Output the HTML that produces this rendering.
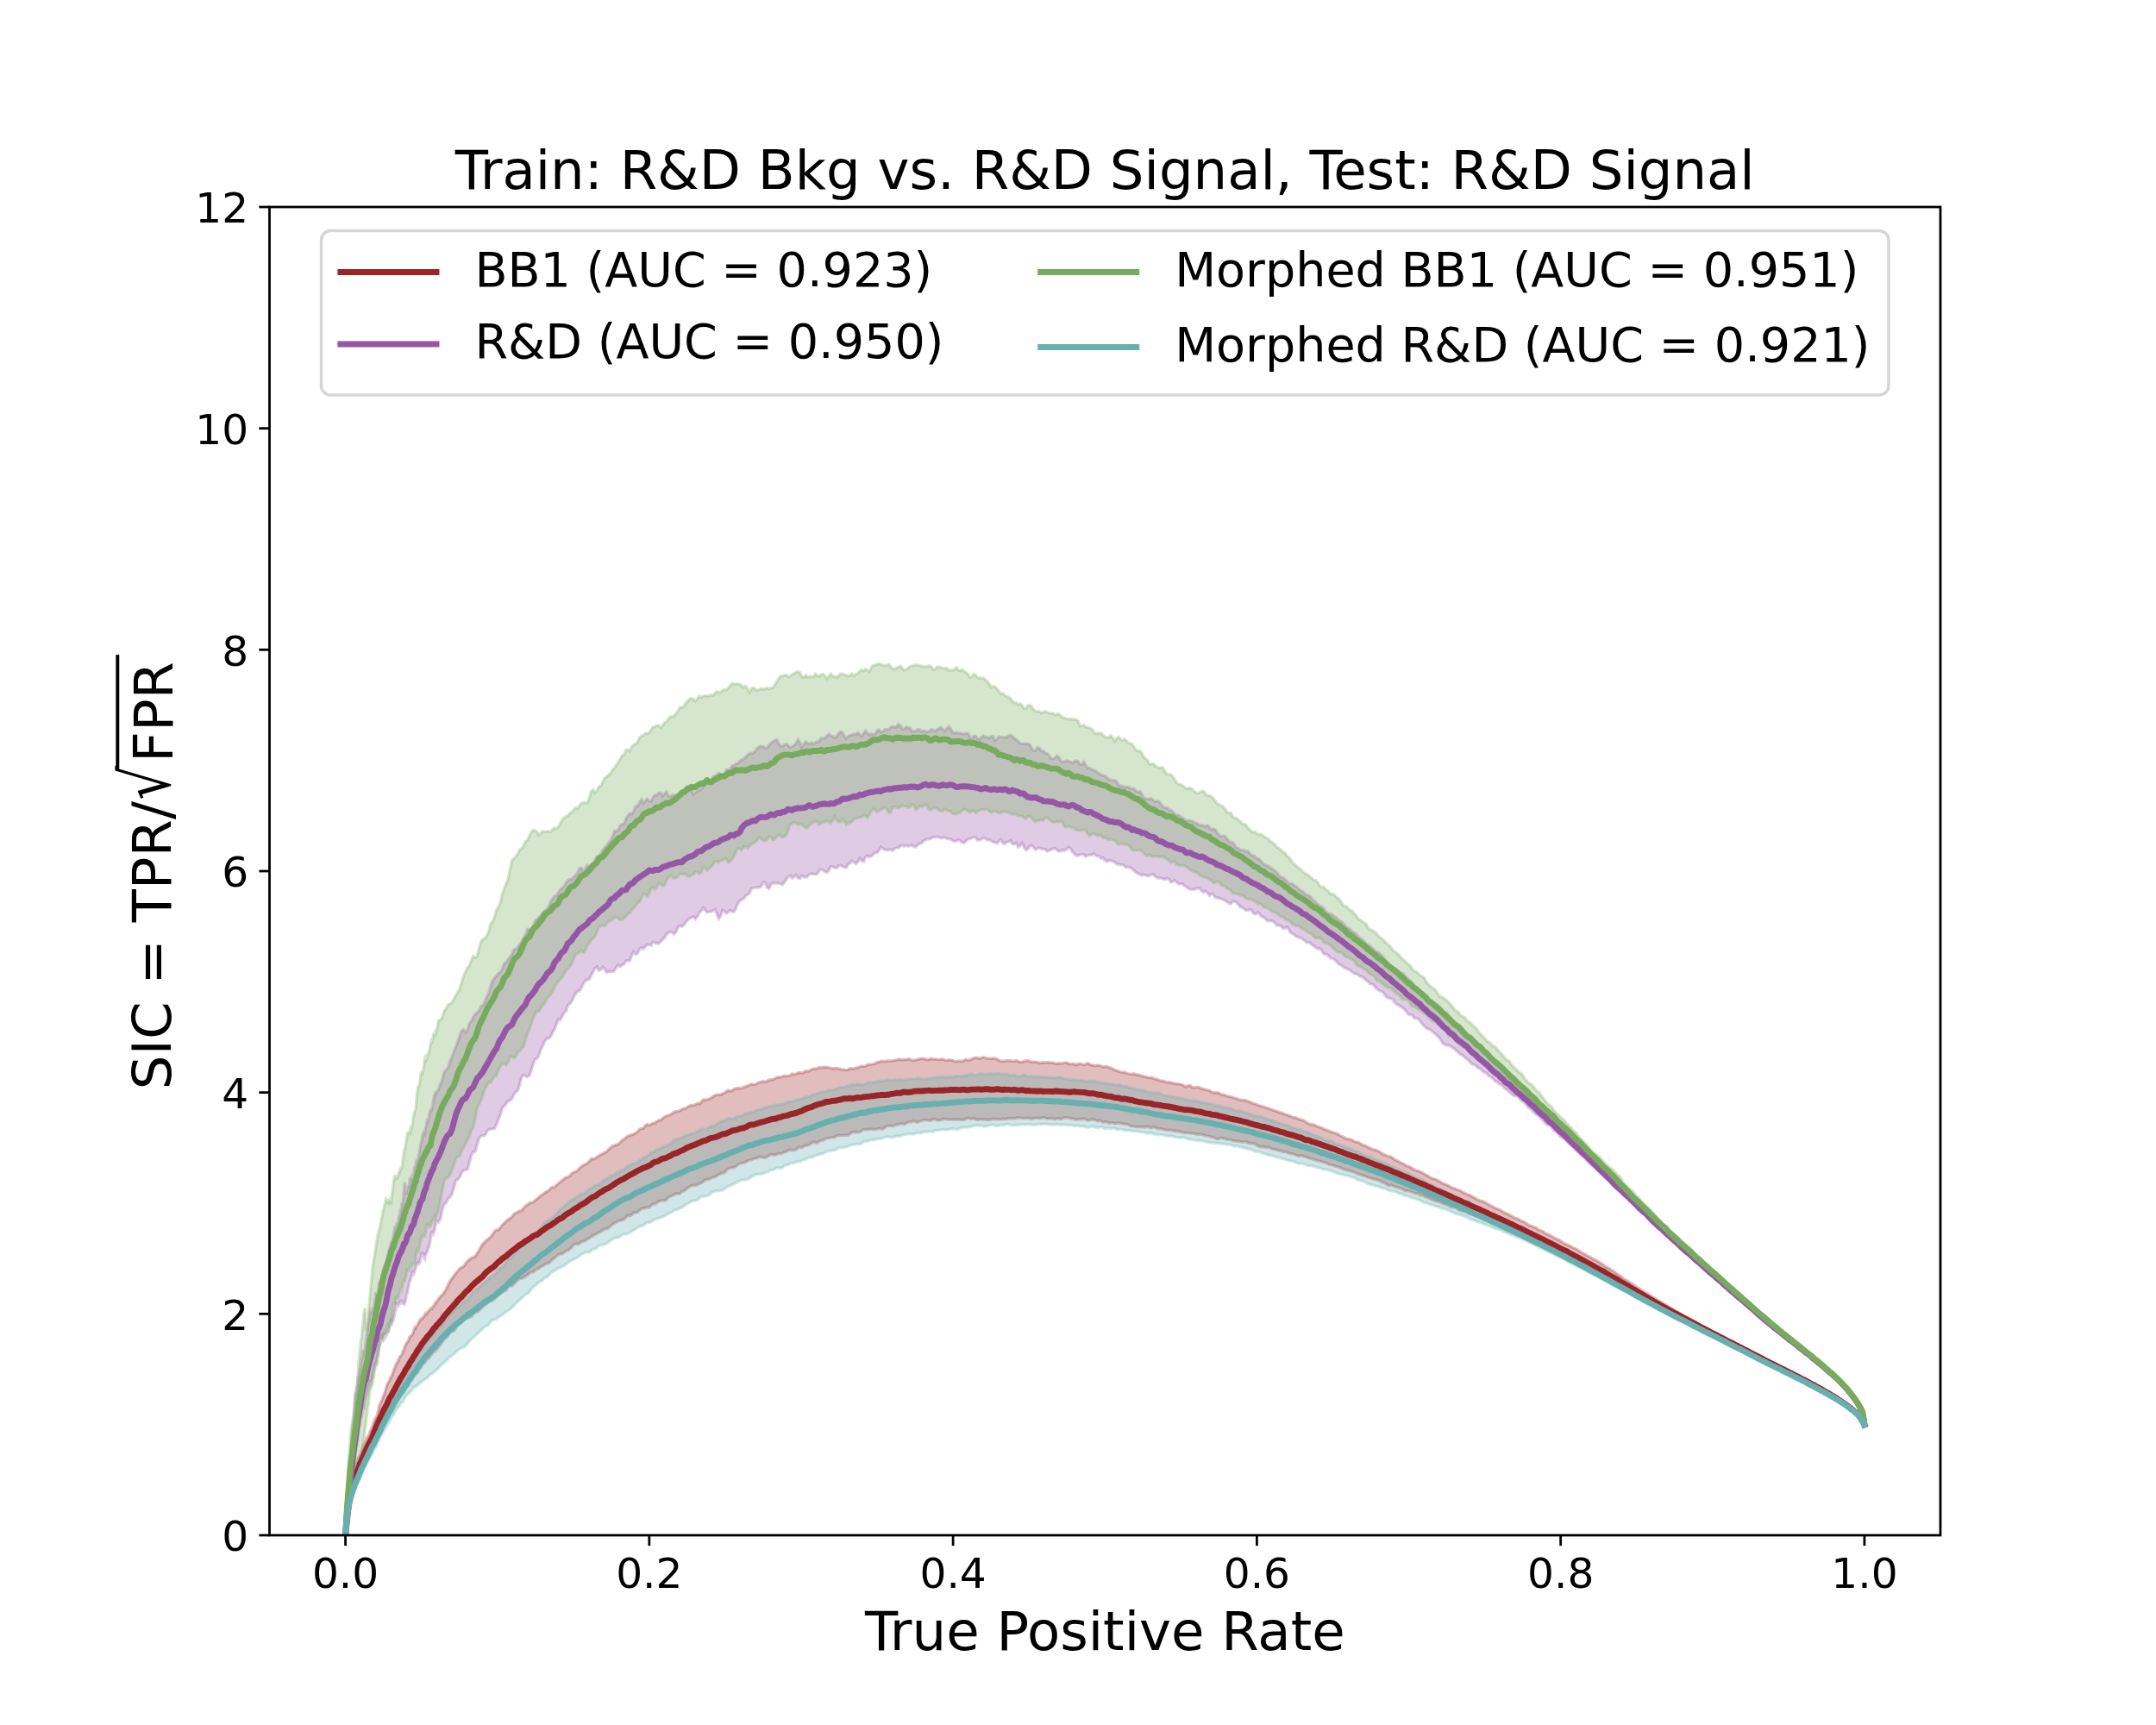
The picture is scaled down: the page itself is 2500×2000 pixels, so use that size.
<!DOCTYPE html>
<html lang="en"><head><meta charset="utf-8"><title>SIC curve</title>
<style>html,body{margin:0;padding:0;background:#fff}body{width:2500px;height:2000px;overflow:hidden}</style></head>
<body>
<svg width="2500" height="2000" viewBox="0 0 2500 2000" style="display:block">
<rect width="2500" height="2000" fill="#fff"/>
<defs><clipPath id="ax"><rect x="312.5" y="240" width="1937.5" height="1540"/></clipPath></defs>
<g clip-path="url(#ax)" fill="none" stroke-linejoin="round">
<polygon points="400.6,1780.0 401.0,1775.7 401.4,1771.4 401.8,1767.2 402.2,1763.0 402.6,1758.9 403.0,1755.1 403.4,1751.5 403.8,1747.6 404.2,1744.1 404.6,1740.7 405.1,1737.5 405.5,1734.6 405.9,1731.6 406.3,1729.1 406.7,1726.1 407.1,1723.7 407.5,1721.4 407.9,1719.2 408.3,1717.3 408.7,1715.1 409.1,1714.1 409.5,1712.8 410.0,1710.8 410.4,1709.4 410.8,1708.2 411.2,1707.0 411.6,1705.0 412.0,1702.9 412.4,1701.1 412.8,1700.1 413.2,1698.4 413.6,1697.3 414.0,1696.1 414.4,1695.5 414.8,1694.9 415.3,1692.9 415.7,1691.7 416.1,1690.5 416.5,1689.5 416.9,1688.4 417.3,1687.6 417.7,1686.8 418.1,1685.5 418.5,1684.8 418.9,1683.9 419.3,1682.2 419.7,1681.0 420.2,1680.0 420.6,1679.2 421.0,1677.2 421.4,1676.2 421.8,1675.8 422.2,1674.8 422.6,1673.7 423.0,1673.1 423.4,1672.3 423.8,1671.6 424.2,1670.6 424.6,1669.4 425.1,1668.4 425.5,1667.0 425.9,1666.8 426.3,1666.0 426.7,1665.1 427.1,1664.6 427.5,1664.0 427.9,1663.5 428.3,1662.3 428.7,1661.0 429.1,1659.9 429.5,1659.0 429.9,1658.0 430.4,1657.2 430.8,1656.5 431.2,1655.1 431.6,1654.3 432.0,1653.5 432.4,1652.2 432.8,1651.1 433.2,1649.6 433.6,1648.8 434.0,1647.8 434.4,1646.4 434.8,1645.1 435.3,1644.4 435.7,1644.1 436.1,1643.4 436.5,1642.3 436.9,1642.0 437.3,1641.1 437.7,1639.5 438.1,1637.3 438.5,1636.0 438.9,1634.5 439.3,1632.5 439.7,1630.5 440.1,1629.2 440.6,1628.3 441.0,1627.1 441.4,1626.4 441.8,1625.4 442.2,1624.5 442.6,1623.7 443.0,1622.9 443.4,1621.6 443.8,1620.1 444.2,1619.3 444.6,1619.0 445.0,1617.9 445.5,1616.6 445.9,1615.3 446.3,1614.3 446.7,1613.1 447.1,1611.7 447.5,1610.2 447.9,1608.5 448.3,1607.6 448.7,1605.8 449.1,1605.2 449.5,1603.8 449.9,1603.4 450.3,1602.7 450.8,1602.0 451.2,1601.2 451.6,1600.3 452.0,1599.7 452.4,1598.1 452.8,1597.8 453.2,1596.7 453.6,1596.5 454.0,1595.8 454.4,1594.5 454.8,1594.0 455.2,1592.3 455.7,1591.8 456.1,1590.5 456.5,1588.2 456.9,1587.9 457.3,1586.8 457.7,1586.2 458.1,1584.8 458.5,1583.6 458.9,1583.0 459.3,1581.8 459.7,1581.4 460.1,1581.0 460.5,1579.7 461.0,1579.4 461.4,1578.5 461.8,1577.5 462.2,1576.3 462.6,1575.4 463.0,1574.8 463.4,1573.4 463.8,1573.1 464.2,1572.8 464.6,1572.3 465.0,1571.6 465.4,1571.2 465.9,1570.5 466.3,1569.7 466.7,1568.5 467.1,1567.5 467.5,1566.2 467.9,1565.6 468.3,1564.8 468.7,1563.3 469.1,1562.6 469.5,1561.2 469.9,1560.5 470.3,1559.5 470.8,1558.4 471.2,1557.7 471.6,1556.9 472.0,1556.3 472.4,1555.9 472.8,1555.5 473.2,1555.0 473.6,1554.6 474.0,1553.1 474.4,1552.3 474.8,1551.1 475.2,1549.9 475.6,1549.4 476.1,1548.9 476.5,1548.8 476.9,1548.6 477.3,1548.4 477.7,1548.0 478.1,1547.4 478.5,1546.4 478.9,1545.7 479.3,1544.1 479.7,1542.2 480.1,1541.7 480.5,1540.4 481.0,1539.4 481.4,1538.8 481.8,1538.6 482.2,1539.2 482.6,1537.9 483.0,1537.2 483.4,1537.2 483.8,1536.7 484.2,1536.2 484.6,1534.8 485.0,1534.0 485.4,1534.1 485.8,1533.0 486.3,1532.5 486.7,1531.2 487.1,1530.6 487.5,1530.0 487.9,1529.5 488.3,1529.4 488.7,1528.9 489.1,1529.3 489.5,1529.0 489.9,1528.8 490.3,1528.0 490.7,1527.4 491.2,1526.9 491.6,1525.8 492.0,1525.3 492.4,1524.4 492.8,1524.2 493.2,1524.0 493.6,1523.1 494.0,1523.5 494.4,1523.1 494.8,1523.3 495.2,1522.6 495.6,1521.7 496.0,1521.3 496.5,1520.6 496.9,1520.4 497.3,1519.5 497.7,1519.5 498.1,1519.2 498.5,1518.2 498.9,1518.2 499.3,1517.8 499.7,1517.4 500.1,1516.9 500.5,1516.8 500.9,1517.1 501.4,1515.7 501.8,1515.7 502.2,1515.1 502.6,1514.4 503.0,1513.7 503.4,1513.1 503.8,1512.8 504.2,1511.9 504.6,1511.6 505.0,1510.3 505.4,1509.4 505.8,1509.0 506.2,1509.5 508.5,1506.1 510.7,1503.1 513.0,1501.3 515.2,1498.1 517.5,1494.6 519.7,1489.8 521.9,1485.4 524.2,1482.1 526.4,1479.1 528.7,1476.1 530.9,1473.5 533.1,1470.8 535.4,1469.6 537.6,1468.2 539.9,1464.9 542.1,1462.2 544.3,1460.4 546.6,1458.6 548.8,1458.0 551.1,1456.6 553.3,1453.3 555.5,1449.9 557.8,1445.6 560.0,1442.1 562.3,1440.1 564.5,1437.4 566.7,1436.2 569.0,1434.1 571.2,1430.9 573.5,1427.7 575.7,1425.9 577.9,1425.9 580.2,1423.2 582.4,1420.3 584.7,1418.2 586.9,1415.9 589.1,1414.0 591.4,1412.8 593.6,1411.1 595.9,1407.8 598.1,1406.2 600.3,1405.4 602.6,1404.0 604.8,1403.5 607.1,1400.6 609.3,1398.2 611.6,1396.8 613.8,1395.1 616.0,1394.4 618.3,1393.9 620.5,1391.5 622.8,1389.8 625.0,1388.1 627.2,1385.9 629.5,1384.7 631.7,1383.0 634.0,1381.5 636.2,1380.4 638.4,1377.8 640.7,1376.4 642.9,1376.7 645.2,1374.2 647.4,1372.3 649.6,1370.4 651.9,1368.5 654.1,1366.6 656.4,1365.0 658.6,1364.7 660.8,1363.3 663.1,1360.5 665.3,1359.1 667.6,1358.4 669.8,1356.9 672.0,1354.6 674.3,1352.4 676.5,1351.0 678.8,1349.9 681.0,1348.8 683.2,1346.6 685.5,1343.8 687.7,1343.8 690.0,1343.3 692.2,1341.5 694.4,1340.1 696.7,1338.5 698.9,1337.7 701.2,1336.5 703.4,1335.1 705.6,1332.8 707.9,1330.7 710.1,1328.7 712.4,1328.3 714.6,1327.3 716.9,1326.7 719.1,1324.4 721.3,1322.2 723.6,1320.7 725.8,1319.0 728.1,1317.1 730.3,1316.5 732.5,1315.7 734.8,1315.1 737.0,1313.9 739.3,1312.0 741.5,1309.2 743.7,1308.6 746.0,1308.3 748.2,1305.0 750.5,1303.8 752.7,1304.8 754.9,1303.5 757.2,1302.2 759.4,1301.9 761.7,1300.1 763.9,1298.9 766.1,1298.6 768.4,1296.6 770.6,1295.0 772.9,1293.6 775.1,1293.2 777.3,1292.5 779.6,1291.0 781.8,1289.4 784.1,1288.8 786.3,1288.4 788.5,1287.9 790.8,1286.0 793.0,1285.5 795.3,1284.7 797.5,1283.2 799.7,1282.1 802.0,1281.6 804.2,1281.6 806.5,1280.5 808.7,1279.2 810.9,1279.6 813.2,1277.7 815.4,1275.2 817.7,1275.0 819.9,1274.9 822.2,1274.1 824.4,1273.0 826.6,1271.5 828.9,1270.1 831.1,1269.3 833.4,1269.2 835.6,1269.2 837.8,1268.0 840.1,1267.3 842.3,1265.4 844.6,1264.2 846.8,1264.9 849.0,1264.6 851.3,1262.6 853.5,1261.9 855.8,1261.5 858.0,1261.7 860.2,1261.8 862.5,1260.4 864.7,1259.7 867.0,1258.9 869.2,1257.9 871.4,1257.1 873.7,1257.5 875.9,1257.4 878.2,1255.7 880.4,1254.9 882.6,1254.3 884.9,1254.0 887.1,1254.1 889.4,1253.8 891.6,1252.2 893.8,1251.7 896.1,1251.8 898.3,1250.5 900.6,1249.3 902.8,1248.8 905.0,1248.9 907.3,1248.1 909.5,1247.5 911.8,1247.6 914.0,1247.6 916.2,1246.8 918.5,1245.2 920.7,1245.7 923.0,1245.2 925.2,1243.8 927.5,1243.6 929.7,1244.2 931.9,1243.4 934.2,1241.7 936.4,1242.1 938.7,1241.5 940.9,1240.0 943.1,1239.3 945.4,1239.3 947.6,1238.7 949.9,1237.7 952.1,1237.5 954.3,1237.4 956.6,1237.3 958.8,1237.4 961.1,1237.9 963.3,1238.4 965.5,1239.0 967.8,1238.7 970.0,1238.4 972.3,1238.9 974.5,1239.6 976.7,1240.0 979.0,1240.2 981.2,1240.8 983.5,1240.1 985.7,1238.7 987.9,1238.9 990.2,1239.4 992.4,1238.1 994.7,1237.7 996.9,1236.8 999.1,1236.1 1001.4,1236.4 1003.6,1236.0 1005.9,1234.4 1008.1,1234.2 1010.3,1233.9 1012.6,1233.6 1014.8,1233.1 1017.1,1231.6 1019.3,1231.2 1021.6,1230.3 1023.8,1230.4 1026.0,1230.6 1028.3,1230.0 1030.5,1229.9 1032.8,1230.2 1035.0,1229.7 1037.2,1229.4 1039.5,1228.9 1041.7,1228.3 1044.0,1228.6 1046.2,1228.7 1048.4,1228.5 1050.7,1228.7 1052.9,1227.5 1055.2,1228.0 1057.4,1229.5 1059.6,1229.6 1061.9,1228.9 1064.1,1228.2 1066.4,1227.7 1068.6,1227.3 1070.8,1227.5 1073.1,1228.0 1075.3,1228.6 1077.6,1228.2 1079.8,1227.3 1082.0,1227.9 1084.3,1228.1 1086.5,1228.3 1088.8,1228.6 1091.0,1228.3 1093.2,1228.1 1095.5,1229.1 1097.7,1229.5 1100.0,1228.8 1102.2,1229.0 1104.4,1229.1 1106.7,1230.3 1108.9,1231.0 1111.2,1230.1 1113.4,1230.1 1115.6,1230.6 1117.9,1229.5 1120.1,1228.2 1122.4,1229.2 1124.6,1229.0 1126.9,1227.7 1129.1,1226.8 1131.3,1226.2 1133.6,1226.8 1135.8,1227.3 1138.1,1226.6 1140.3,1225.9 1142.5,1226.4 1144.8,1227.2 1147.0,1227.2 1149.3,1227.2 1151.5,1227.0 1153.7,1227.3 1156.0,1227.9 1158.2,1229.1 1160.5,1230.2 1162.7,1230.2 1164.9,1230.2 1167.2,1229.7 1169.4,1229.8 1171.7,1229.8 1173.9,1230.2 1176.1,1230.3 1178.4,1229.6 1180.6,1230.6 1182.9,1231.6 1185.1,1231.1 1187.3,1230.5 1189.6,1229.9 1191.8,1229.5 1194.1,1230.7 1196.3,1231.4 1198.5,1230.9 1200.8,1231.3 1203.0,1231.5 1205.3,1232.4 1207.5,1232.2 1209.7,1231.5 1212.0,1232.3 1214.2,1231.7 1216.5,1231.7 1218.7,1232.3 1220.9,1232.2 1223.2,1233.2 1225.4,1233.2 1227.7,1232.7 1229.9,1233.1 1232.2,1232.9 1234.4,1232.1 1236.6,1232.3 1238.9,1233.0 1241.1,1233.9 1243.4,1233.4 1245.6,1233.6 1247.8,1234.7 1250.1,1233.6 1252.3,1233.3 1254.6,1233.9 1256.8,1234.4 1259.0,1233.9 1261.3,1232.8 1263.5,1234.1 1265.8,1235.0 1268.0,1235.3 1270.2,1235.7 1272.5,1235.3 1274.7,1235.2 1277.0,1236.2 1279.2,1237.1 1281.4,1236.4 1283.7,1236.6 1285.9,1237.8 1288.2,1238.3 1290.4,1239.4 1292.6,1240.5 1294.9,1241.3 1297.1,1242.2 1299.4,1242.9 1301.6,1243.2 1303.8,1243.2 1306.1,1244.1 1308.3,1244.9 1310.6,1245.5 1312.8,1245.2 1315.0,1244.9 1317.3,1246.3 1319.5,1246.0 1321.8,1246.6 1324.0,1247.5 1326.2,1248.0 1328.5,1248.3 1330.7,1249.3 1333.0,1249.4 1335.2,1249.3 1337.5,1250.4 1339.7,1251.0 1341.9,1251.4 1344.2,1252.6 1346.4,1253.0 1348.7,1253.1 1350.9,1254.1 1353.1,1254.9 1355.4,1254.6 1357.6,1255.3 1359.9,1255.8 1362.1,1256.2 1364.3,1256.7 1366.6,1256.7 1368.8,1257.1 1371.1,1257.8 1373.3,1259.1 1375.5,1260.1 1377.8,1258.6 1380.0,1258.5 1382.3,1260.6 1384.5,1261.1 1386.7,1260.8 1389.0,1260.4 1391.2,1261.2 1393.5,1262.3 1395.7,1262.8 1397.9,1263.4 1400.2,1263.9 1402.4,1264.3 1404.7,1266.2 1406.9,1266.7 1409.1,1266.9 1411.4,1266.7 1413.6,1267.3 1415.9,1268.9 1418.1,1269.1 1420.3,1269.8 1422.6,1270.7 1424.8,1271.2 1427.1,1271.5 1429.3,1272.3 1431.5,1273.2 1433.8,1273.7 1436.0,1274.6 1438.3,1275.2 1440.5,1275.4 1442.8,1275.7 1445.0,1276.0 1447.2,1276.9 1449.5,1277.7 1451.7,1278.9 1454.0,1279.5 1456.2,1280.2 1458.4,1281.3 1460.7,1282.1 1462.9,1282.5 1465.2,1283.2 1467.4,1284.1 1469.6,1284.7 1471.9,1285.7 1474.1,1286.3 1476.4,1287.2 1478.6,1287.8 1480.8,1288.5 1483.1,1289.8 1485.3,1289.9 1487.6,1291.1 1489.8,1291.9 1492.0,1292.3 1494.3,1293.4 1496.5,1294.1 1498.8,1295.4 1501.0,1295.8 1503.2,1296.2 1505.5,1297.3 1507.7,1298.0 1510.0,1298.7 1512.2,1299.6 1514.4,1301.0 1516.7,1302.3 1518.9,1303.4 1521.2,1303.8 1523.4,1304.0 1525.6,1305.1 1527.9,1306.4 1530.1,1306.8 1532.4,1307.6 1534.6,1308.7 1536.9,1309.8 1539.1,1310.5 1541.3,1311.2 1543.6,1312.3 1545.8,1313.1 1548.1,1313.8 1550.3,1314.4 1552.5,1315.8 1554.8,1317.0 1557.0,1317.9 1559.3,1319.5 1561.5,1320.2 1563.7,1320.5 1566.0,1321.2 1568.2,1322.1 1570.5,1323.5 1572.7,1324.2 1574.9,1324.3 1577.2,1325.6 1579.4,1327.2 1581.7,1328.1 1583.9,1328.7 1586.1,1330.0 1588.4,1330.9 1590.6,1332.2 1592.9,1332.9 1595.1,1333.2 1597.3,1334.3 1599.6,1335.3 1601.8,1336.9 1604.1,1338.4 1606.3,1339.1 1608.5,1340.4 1610.8,1341.1 1613.0,1341.3 1615.3,1343.1 1617.5,1344.7 1619.7,1345.6 1622.0,1346.8 1624.2,1348.0 1626.5,1349.0 1628.7,1350.3 1630.9,1351.7 1633.2,1352.2 1635.4,1353.2 1637.7,1354.7 1639.9,1356.2 1642.2,1357.1 1644.4,1357.5 1646.6,1358.6 1648.9,1359.5 1651.1,1361.1 1653.4,1362.3 1655.6,1363.3 1657.8,1364.9 1660.1,1366.1 1662.3,1366.7 1664.6,1367.3 1666.8,1368.7 1669.0,1369.6 1671.3,1371.1 1673.5,1372.3 1675.8,1373.0 1678.0,1374.0 1680.2,1375.1 1682.5,1376.4 1684.7,1377.5 1687.0,1378.2 1689.2,1379.3 1691.4,1379.7 1693.7,1380.7 1695.9,1382.3 1698.2,1383.2 1700.4,1384.4 1702.6,1385.2 1704.9,1386.0 1707.1,1387.6 1709.4,1388.5 1711.6,1390.0 1713.8,1391.2 1716.1,1392.1 1718.3,1392.6 1720.6,1393.3 1722.8,1394.4 1725.0,1395.9 1727.3,1397.3 1729.5,1398.2 1731.8,1399.5 1734.0,1401.0 1736.2,1401.6 1738.5,1402.4 1740.7,1403.7 1743.0,1405.2 1745.2,1406.4 1747.5,1407.3 1749.7,1408.4 1751.9,1409.4 1754.2,1410.7 1756.4,1412.1 1758.7,1412.8 1760.9,1413.6 1763.1,1415.3 1765.4,1416.2 1767.6,1416.9 1769.9,1418.4 1772.1,1420.2 1774.3,1421.1 1776.6,1421.6 1778.8,1422.8 1781.1,1423.6 1783.3,1425.3 1785.5,1426.4 1787.8,1427.1 1790.0,1428.5 1792.3,1430.3 1794.5,1431.1 1796.7,1431.9 1799.0,1433.3 1801.2,1434.7 1803.5,1435.9 1805.7,1436.8 1807.9,1437.8 1810.2,1439.2 1812.4,1440.9 1814.7,1442.0 1816.9,1443.1 1819.1,1444.1 1821.4,1445.1 1823.6,1446.4 1825.9,1447.3 1828.1,1448.4 1830.3,1449.8 1832.6,1451.5 1834.8,1452.8 1837.1,1453.8 1839.3,1455.1 1841.5,1456.4 1843.8,1457.6 1846.0,1459.1 1848.3,1460.3 1850.5,1461.2 1852.8,1462.6 1855.0,1464.0 1857.2,1465.2 1859.5,1466.8 1861.7,1468.5 1864.0,1469.6 1866.2,1471.0 1868.4,1472.6 1870.7,1473.8 1872.9,1475.4 1875.2,1477.1 1877.4,1478.6 1879.6,1479.9 1881.9,1482.1 1884.1,1483.5 1886.4,1484.8 1888.6,1486.3 1890.8,1487.6 1893.1,1489.0 1895.3,1490.5 1897.6,1492.0 1899.8,1493.4 1902.0,1494.9 1904.3,1496.4 1906.5,1497.8 1908.8,1499.1 1911.0,1500.3 1913.2,1502.0 1915.5,1503.4 1917.7,1504.6 1920.0,1505.9 1922.2,1507.6 1924.4,1508.8 1926.7,1509.9 1928.9,1511.4 1931.2,1512.8 1933.4,1514.3 1935.6,1515.7 1937.9,1517.0 1940.1,1518.1 1942.4,1519.5 1944.6,1520.7 1946.9,1522.0 1949.1,1523.5 1951.3,1524.8 1953.6,1525.9 1955.8,1527.3 1958.1,1528.4 1960.3,1529.6 1962.5,1530.8 1964.8,1532.0 1967.0,1533.6 1969.3,1534.9 1971.5,1536.0 1973.7,1537.4 1976.0,1538.7 1978.2,1539.9 1980.5,1541.4 1982.7,1542.6 1984.9,1543.6 1987.2,1544.8 1989.4,1545.9 1991.7,1547.0 1993.9,1548.4 1996.1,1549.5 1998.4,1550.6 2000.6,1551.9 2002.9,1553.1 2005.1,1554.3 2007.3,1555.5 2009.6,1556.5 2011.8,1557.7 2014.1,1558.9 2016.3,1560.2 2018.5,1561.4 2020.8,1562.5 2023.0,1563.6 2025.3,1564.7 2027.5,1565.8 2029.7,1566.8 2032.0,1568.2 2034.2,1569.5 2036.5,1570.7 2038.7,1572.0 2040.9,1573.1 2043.2,1574.2 2045.4,1575.3 2047.7,1576.5 2049.9,1577.7 2052.2,1578.9 2054.4,1580.2 2056.6,1581.3 2058.9,1582.5 2061.1,1583.6 2063.4,1584.6 2065.6,1585.8 2067.8,1586.9 2070.1,1588.1 2072.3,1589.3 2074.6,1590.4 2076.8,1591.6 2079.0,1592.7 2081.3,1593.7 2083.5,1594.9 2085.8,1596.1 2088.0,1597.2 2090.2,1598.5 2092.5,1599.7 2094.7,1600.8 2097.0,1602.0 2099.2,1603.2 2101.4,1604.5 2103.7,1605.8 2105.9,1607.0 2108.2,1608.2 2110.4,1609.5 2112.6,1610.8 2114.9,1612.0 2117.1,1613.3 2119.4,1614.6 2121.6,1616.0 2123.8,1617.4 2126.1,1618.7 2128.3,1620.1 2130.6,1621.6 2132.8,1623.0 2135.0,1624.6 2137.3,1626.2 2139.5,1627.7 2141.8,1629.4 2144.0,1631.1 2146.2,1632.9 2148.5,1634.8 2150.7,1636.6 2153.0,1638.6 2155.2,1640.9 2157.5,1644.0 2159.7,1648.0 2161.9,1651.7 2161.9,1651.7 2159.7,1648.0 2157.5,1644.0 2155.2,1641.0 2153.0,1638.7 2150.7,1636.8 2148.5,1634.9 2146.2,1633.1 2144.0,1631.3 2141.8,1629.7 2139.5,1628.1 2137.3,1626.5 2135.0,1624.9 2132.8,1623.5 2130.6,1622.1 2128.3,1620.6 2126.1,1619.3 2123.8,1618.0 2121.6,1616.6 2119.4,1615.3 2117.1,1614.1 2114.9,1612.8 2112.6,1611.6 2110.4,1610.4 2108.2,1609.1 2105.9,1607.8 2103.7,1606.7 2101.4,1605.5 2099.2,1604.2 2097.0,1603.0 2094.7,1601.8 2092.5,1600.6 2090.2,1599.5 2088.0,1598.4 2085.8,1597.2 2083.5,1596.2 2081.3,1595.1 2079.0,1593.9 2076.8,1592.8 2074.6,1591.7 2072.3,1590.6 2070.1,1589.3 2067.8,1588.3 2065.6,1587.3 2063.4,1586.1 2061.1,1585.0 2058.9,1583.8 2056.6,1582.7 2054.4,1581.5 2052.2,1580.4 2049.9,1579.3 2047.7,1578.1 2045.4,1577.0 2043.2,1575.6 2040.9,1574.4 2038.7,1573.2 2036.5,1572.1 2034.2,1571.0 2032.0,1569.9 2029.7,1568.6 2027.5,1567.3 2025.3,1566.3 2023.0,1565.1 2020.8,1563.8 2018.5,1562.6 2016.3,1561.5 2014.1,1560.4 2011.8,1559.2 2009.6,1558.0 2007.3,1556.7 2005.1,1555.6 2002.9,1554.5 2000.6,1553.4 1998.4,1552.2 1996.1,1551.0 1993.9,1549.8 1991.7,1548.6 1989.4,1547.7 1987.2,1546.6 1984.9,1545.2 1982.7,1544.0 1980.5,1543.0 1978.2,1541.6 1976.0,1540.5 1973.7,1539.5 1971.5,1538.3 1969.3,1537.1 1967.0,1535.8 1964.8,1534.7 1962.5,1533.6 1960.3,1532.3 1958.1,1531.1 1955.8,1530.0 1953.6,1528.8 1951.3,1527.5 1949.1,1526.3 1946.9,1525.1 1944.6,1523.9 1942.4,1522.8 1940.1,1521.7 1937.9,1520.3 1935.6,1519.2 1933.4,1517.9 1931.2,1516.4 1928.9,1515.3 1926.7,1514.3 1924.4,1512.9 1922.2,1511.7 1920.0,1510.6 1917.7,1509.4 1915.5,1508.4 1913.2,1507.2 1911.0,1505.6 1908.8,1504.4 1906.5,1503.1 1904.3,1501.8 1902.0,1500.7 1899.8,1499.6 1897.6,1498.5 1895.3,1497.1 1893.1,1495.7 1890.8,1494.5 1888.6,1493.3 1886.4,1492.1 1884.1,1490.6 1881.9,1489.1 1879.6,1487.8 1877.4,1486.8 1875.2,1485.7 1872.9,1484.4 1870.7,1483.2 1868.4,1481.6 1866.2,1480.2 1864.0,1479.1 1861.7,1478.0 1859.5,1476.7 1857.2,1475.5 1855.0,1474.7 1852.8,1473.4 1850.5,1472.1 1848.3,1471.0 1846.0,1469.5 1843.8,1468.4 1841.5,1467.5 1839.3,1466.2 1837.1,1464.9 1834.8,1463.8 1832.6,1462.9 1830.3,1461.8 1828.1,1460.6 1825.9,1459.5 1823.6,1458.5 1821.4,1457.6 1819.1,1456.5 1816.9,1455.2 1814.7,1454.2 1812.4,1452.9 1810.2,1451.7 1807.9,1450.8 1805.7,1449.9 1803.5,1448.6 1801.2,1447.8 1799.0,1446.8 1796.7,1446.0 1794.5,1444.7 1792.3,1443.7 1790.0,1443.0 1787.8,1441.4 1785.5,1440.1 1783.3,1439.7 1781.1,1439.1 1778.8,1437.7 1776.6,1436.7 1774.3,1435.9 1772.1,1434.7 1769.9,1433.7 1767.6,1433.1 1765.4,1432.3 1763.1,1430.8 1760.9,1429.8 1758.7,1429.0 1756.4,1428.0 1754.2,1427.3 1751.9,1426.3 1749.7,1425.5 1747.5,1424.8 1745.2,1423.7 1743.0,1422.4 1740.7,1421.6 1738.5,1421.3 1736.2,1420.0 1734.0,1418.7 1731.8,1418.4 1729.5,1417.1 1727.3,1416.0 1725.0,1415.8 1722.8,1414.6 1720.6,1413.4 1718.3,1412.4 1716.1,1411.1 1713.8,1410.5 1711.6,1410.1 1709.4,1409.0 1707.1,1408.4 1704.9,1407.6 1702.6,1406.4 1700.4,1405.4 1698.2,1404.4 1695.9,1403.9 1693.7,1403.7 1691.4,1402.8 1689.2,1401.1 1687.0,1400.0 1684.7,1399.9 1682.5,1399.4 1680.2,1398.0 1678.0,1397.0 1675.8,1396.4 1673.5,1395.7 1671.3,1394.6 1669.0,1393.5 1666.8,1393.2 1664.6,1392.4 1662.3,1391.6 1660.1,1390.9 1657.8,1389.6 1655.6,1388.5 1653.4,1387.9 1651.1,1386.7 1648.9,1386.1 1646.6,1385.6 1644.4,1384.1 1642.2,1383.8 1639.9,1383.3 1637.7,1382.3 1635.4,1381.6 1633.2,1380.6 1630.9,1380.7 1628.7,1380.3 1626.5,1378.8 1624.2,1377.7 1622.0,1377.4 1619.7,1376.5 1617.5,1375.8 1615.3,1375.0 1613.0,1374.0 1610.8,1374.4 1608.5,1373.7 1606.3,1372.1 1604.1,1371.2 1601.8,1370.3 1599.6,1369.1 1597.3,1368.2 1595.1,1367.4 1592.9,1367.2 1590.6,1366.4 1588.4,1365.5 1586.1,1365.2 1583.9,1364.1 1581.7,1363.3 1579.4,1362.7 1577.2,1361.8 1574.9,1361.3 1572.7,1360.1 1570.5,1359.3 1568.2,1358.5 1566.0,1357.7 1563.7,1357.3 1561.5,1356.6 1559.3,1356.0 1557.0,1355.2 1554.8,1354.4 1552.5,1353.3 1550.3,1352.6 1548.1,1352.2 1545.8,1351.1 1543.6,1350.6 1541.3,1350.4 1539.1,1349.1 1536.9,1348.2 1534.6,1347.6 1532.4,1346.8 1530.1,1346.0 1527.9,1345.9 1525.6,1345.1 1523.4,1344.3 1521.2,1343.7 1518.9,1343.1 1516.7,1342.4 1514.4,1341.5 1512.2,1340.8 1510.0,1339.7 1507.7,1339.9 1505.5,1340.4 1503.2,1339.5 1501.0,1338.5 1498.8,1337.8 1496.5,1337.8 1494.3,1337.1 1492.0,1335.5 1489.8,1335.6 1487.6,1335.3 1485.3,1334.3 1483.1,1334.0 1480.8,1333.5 1478.6,1332.6 1476.4,1332.6 1474.1,1332.0 1471.9,1330.3 1469.6,1330.2 1467.4,1330.4 1465.2,1329.4 1462.9,1329.7 1460.7,1329.6 1458.4,1328.4 1456.2,1327.1 1454.0,1326.0 1451.7,1325.4 1449.5,1325.5 1447.2,1325.0 1445.0,1323.7 1442.8,1324.0 1440.5,1324.0 1438.3,1323.5 1436.0,1323.6 1433.8,1323.0 1431.5,1322.9 1429.3,1322.4 1427.1,1321.4 1424.8,1321.2 1422.6,1321.1 1420.3,1320.4 1418.1,1319.8 1415.9,1319.3 1413.6,1320.3 1411.4,1320.7 1409.1,1319.6 1406.9,1318.6 1404.7,1318.3 1402.4,1317.5 1400.2,1317.1 1397.9,1316.9 1395.7,1316.0 1393.5,1315.4 1391.2,1315.1 1389.0,1315.3 1386.7,1314.9 1384.5,1314.2 1382.3,1314.1 1380.0,1313.9 1377.8,1313.4 1375.5,1313.4 1373.3,1313.4 1371.1,1312.8 1368.8,1312.2 1366.6,1311.7 1364.3,1311.2 1362.1,1311.4 1359.9,1310.9 1357.6,1310.3 1355.4,1310.4 1353.1,1310.2 1350.9,1310.0 1348.7,1309.4 1346.4,1308.8 1344.2,1308.8 1341.9,1308.5 1339.7,1307.4 1337.5,1306.6 1335.2,1307.5 1333.0,1307.0 1330.7,1306.2 1328.5,1306.8 1326.2,1306.7 1324.0,1306.5 1321.8,1306.4 1319.5,1306.4 1317.3,1306.5 1315.0,1305.9 1312.8,1305.7 1310.6,1305.4 1308.3,1304.0 1306.1,1303.6 1303.8,1303.3 1301.6,1303.1 1299.4,1302.2 1297.1,1302.0 1294.9,1302.5 1292.6,1302.7 1290.4,1301.7 1288.2,1301.7 1285.9,1302.2 1283.7,1301.0 1281.4,1300.8 1279.2,1301.3 1277.0,1299.8 1274.7,1299.2 1272.5,1299.8 1270.2,1298.8 1268.0,1297.7 1265.8,1297.9 1263.5,1298.6 1261.3,1299.2 1259.0,1298.0 1256.8,1296.8 1254.6,1297.4 1252.3,1297.5 1250.1,1297.9 1247.8,1298.3 1245.6,1297.5 1243.4,1296.9 1241.1,1296.8 1238.9,1296.1 1236.6,1295.8 1234.4,1295.8 1232.2,1296.6 1229.9,1297.4 1227.7,1296.8 1225.4,1296.8 1223.2,1297.6 1220.9,1297.1 1218.7,1296.5 1216.5,1296.9 1214.2,1297.1 1212.0,1296.2 1209.7,1295.5 1207.5,1296.2 1205.3,1296.7 1203.0,1296.3 1200.8,1296.2 1198.5,1296.5 1196.3,1297.3 1194.1,1296.7 1191.8,1296.3 1189.6,1296.4 1187.3,1296.6 1185.1,1296.6 1182.9,1296.1 1180.6,1296.1 1178.4,1296.3 1176.1,1296.8 1173.9,1296.7 1171.7,1296.5 1169.4,1296.7 1167.2,1297.4 1164.9,1297.5 1162.7,1297.3 1160.5,1297.8 1158.2,1297.7 1156.0,1297.4 1153.7,1297.4 1151.5,1297.3 1149.3,1298.1 1147.0,1298.3 1144.8,1298.4 1142.5,1298.1 1140.3,1297.9 1138.1,1297.7 1135.8,1297.7 1133.6,1298.6 1131.3,1297.7 1129.1,1296.9 1126.9,1297.2 1124.6,1297.1 1122.4,1296.3 1120.1,1297.1 1117.9,1298.2 1115.6,1298.6 1113.4,1298.2 1111.2,1297.8 1108.9,1298.3 1106.7,1298.0 1104.4,1297.9 1102.2,1298.1 1100.0,1297.9 1097.7,1297.8 1095.5,1297.3 1093.2,1297.7 1091.0,1298.3 1088.8,1299.0 1086.5,1298.8 1084.3,1297.5 1082.0,1297.7 1079.8,1299.1 1077.6,1299.2 1075.3,1298.9 1073.1,1298.4 1070.8,1298.6 1068.6,1299.6 1066.4,1300.1 1064.1,1300.9 1061.9,1300.8 1059.6,1299.6 1057.4,1300.7 1055.2,1301.0 1052.9,1300.9 1050.7,1302.6 1048.4,1303.7 1046.2,1302.7 1044.0,1303.1 1041.7,1303.8 1039.5,1304.1 1037.2,1305.1 1035.0,1305.6 1032.8,1305.3 1030.5,1305.2 1028.3,1305.6 1026.0,1307.2 1023.8,1309.1 1021.6,1308.8 1019.3,1308.4 1017.1,1309.0 1014.8,1309.6 1012.6,1309.5 1010.3,1309.2 1008.1,1309.2 1005.9,1309.8 1003.6,1309.4 1001.4,1309.6 999.1,1311.1 996.9,1312.5 994.7,1312.7 992.4,1312.8 990.2,1312.7 987.9,1312.7 985.7,1314.6 983.5,1316.2 981.2,1316.2 979.0,1316.2 976.7,1316.3 974.5,1316.6 972.3,1316.4 970.0,1317.1 967.8,1318.8 965.5,1318.7 963.3,1319.1 961.1,1319.6 958.8,1319.7 956.6,1320.8 954.3,1322.1 952.1,1322.4 949.9,1323.6 947.6,1325.2 945.4,1324.5 943.1,1324.2 940.9,1325.6 938.7,1327.1 936.4,1328.1 934.2,1328.3 931.9,1329.1 929.7,1330.6 927.5,1329.9 925.2,1331.0 923.0,1333.0 920.7,1333.5 918.5,1333.8 916.2,1332.9 914.0,1333.8 911.8,1335.3 909.5,1335.7 907.3,1337.1 905.0,1337.4 902.8,1337.2 900.6,1338.3 898.3,1339.4 896.1,1338.7 893.8,1338.6 891.6,1339.7 889.4,1341.3 887.1,1342.5 884.9,1342.2 882.6,1341.2 880.4,1341.4 878.2,1342.5 875.9,1342.9 873.7,1343.7 871.4,1344.7 869.2,1345.1 867.0,1345.9 864.7,1347.4 862.5,1348.2 860.2,1348.8 858.0,1349.0 855.8,1350.3 853.5,1352.3 851.3,1353.6 849.0,1353.8 846.8,1354.4 844.6,1354.8 842.3,1357.0 840.1,1359.8 837.8,1360.0 835.6,1360.9 833.4,1362.0 831.1,1363.2 828.9,1364.7 826.6,1364.8 824.4,1366.0 822.2,1367.2 819.9,1367.8 817.7,1368.0 815.4,1370.1 813.2,1371.5 810.9,1372.5 808.7,1373.7 806.5,1374.2 804.2,1374.4 802.0,1374.7 799.7,1375.9 797.5,1377.2 795.3,1379.0 793.0,1380.8 790.8,1381.6 788.5,1383.9 786.3,1384.3 784.1,1383.9 781.8,1385.3 779.6,1386.1 777.3,1387.1 775.1,1388.1 772.9,1390.9 770.6,1392.1 768.4,1391.6 766.1,1392.3 763.9,1392.9 761.7,1394.6 759.4,1396.0 757.2,1396.0 754.9,1397.8 752.7,1400.1 750.5,1399.9 748.2,1400.5 746.0,1401.3 743.7,1401.6 741.5,1403.5 739.3,1405.4 737.0,1406.1 734.8,1406.2 732.5,1408.5 730.3,1409.6 728.1,1409.0 725.8,1411.5 723.6,1413.4 721.3,1414.4 719.1,1415.2 716.9,1415.5 714.6,1416.9 712.4,1418.2 710.1,1419.7 707.9,1421.7 705.6,1423.8 703.4,1424.7 701.2,1425.1 698.9,1426.1 696.7,1428.1 694.4,1429.0 692.2,1430.0 690.0,1431.4 687.7,1432.3 685.5,1433.9 683.2,1435.6 681.0,1436.7 678.8,1438.4 676.5,1439.2 674.3,1439.4 672.0,1441.7 669.8,1442.6 667.6,1442.1 665.3,1442.9 663.1,1445.8 660.8,1447.9 658.6,1449.7 656.4,1450.3 654.1,1452.0 651.9,1453.8 649.6,1454.0 647.4,1454.6 645.2,1456.8 642.9,1458.5 640.7,1460.3 638.4,1462.4 636.2,1464.6 634.0,1465.1 631.7,1466.0 629.5,1467.8 627.2,1468.5 625.0,1470.5 622.8,1471.6 620.5,1472.5 618.3,1475.0 616.0,1475.1 613.8,1476.2 611.6,1478.5 609.3,1479.8 607.1,1481.3 604.8,1482.4 602.6,1482.5 600.3,1484.2 598.1,1486.6 595.9,1488.5 593.6,1490.9 591.4,1490.7 589.1,1492.4 586.9,1496.1 584.7,1496.8 582.4,1498.2 580.2,1499.8 577.9,1501.2 575.7,1503.2 573.5,1505.8 571.2,1507.5 569.0,1508.6 566.7,1509.4 564.5,1511.4 562.3,1513.2 560.0,1514.8 557.8,1517.3 555.5,1519.4 553.3,1521.0 551.1,1521.3 548.8,1523.1 546.6,1526.3 544.3,1527.5 542.1,1528.0 539.9,1528.7 537.6,1530.0 535.4,1532.8 533.1,1534.5 530.9,1536.0 528.7,1539.8 526.4,1543.0 524.2,1543.9 521.9,1544.7 519.7,1547.9 517.5,1551.1 515.2,1552.6 513.0,1555.8 510.7,1558.9 508.5,1561.8 506.2,1564.7 505.8,1563.6 505.4,1564.3 505.0,1565.0 504.6,1565.2 504.2,1566.4 503.8,1566.2 503.4,1567.0 503.0,1567.1 502.6,1567.2 502.2,1568.1 501.8,1567.8 501.4,1568.9 500.9,1568.7 500.5,1569.5 500.1,1570.5 499.7,1570.6 499.3,1571.1 498.9,1572.3 498.5,1572.9 498.1,1573.7 497.7,1573.9 497.3,1574.3 496.9,1575.0 496.5,1574.6 496.0,1574.6 495.6,1574.9 495.2,1575.5 494.8,1576.0 494.4,1576.4 494.0,1577.5 493.6,1578.3 493.2,1578.8 492.8,1579.4 492.4,1580.1 492.0,1580.2 491.6,1580.2 491.2,1580.4 490.7,1580.4 490.3,1580.9 489.9,1581.2 489.5,1582.1 489.1,1582.8 488.7,1583.5 488.3,1584.9 487.9,1585.6 487.5,1585.7 487.1,1585.6 486.7,1586.6 486.3,1587.4 485.8,1587.6 485.4,1587.4 485.0,1588.7 484.6,1590.4 484.2,1590.4 483.8,1590.5 483.4,1590.7 483.0,1592.0 482.6,1592.6 482.2,1592.2 481.8,1593.0 481.4,1593.9 481.0,1594.2 480.5,1594.7 480.1,1594.7 479.7,1595.5 479.3,1596.2 478.9,1597.0 478.5,1598.2 478.1,1598.8 477.7,1600.0 477.3,1600.6 476.9,1600.9 476.5,1601.3 476.1,1601.4 475.6,1601.6 475.2,1601.7 474.8,1602.7 474.4,1603.8 474.0,1605.3 473.6,1605.9 473.2,1606.4 472.8,1607.1 472.4,1607.4 472.0,1607.3 471.6,1607.2 471.2,1607.6 470.8,1608.9 470.3,1609.5 469.9,1610.9 469.5,1611.9 469.1,1613.0 468.7,1613.7 468.3,1614.0 467.9,1614.5 467.5,1613.8 467.1,1613.6 466.7,1614.0 466.3,1614.5 465.9,1614.2 465.4,1614.7 465.0,1615.4 464.6,1616.5 464.2,1617.1 463.8,1618.1 463.4,1619.0 463.0,1619.5 462.6,1620.2 462.2,1620.7 461.8,1621.1 461.4,1621.3 461.0,1622.1 460.5,1622.9 460.1,1624.2 459.7,1624.7 459.3,1625.4 458.9,1626.0 458.5,1626.5 458.1,1627.3 457.7,1627.6 457.3,1628.5 456.9,1629.2 456.5,1629.9 456.1,1631.1 455.7,1631.6 455.2,1632.5 454.8,1633.1 454.4,1633.2 454.0,1634.4 453.6,1635.2 453.2,1635.8 452.8,1636.4 452.4,1637.0 452.0,1637.8 451.6,1637.7 451.2,1637.7 450.8,1638.4 450.3,1638.9 449.9,1639.6 449.5,1640.2 449.1,1640.7 448.7,1641.4 448.3,1642.5 447.9,1643.3 447.5,1643.9 447.1,1644.3 446.7,1645.4 446.3,1646.7 445.9,1647.7 445.5,1648.6 445.0,1649.2 444.6,1650.0 444.2,1650.9 443.8,1650.9 443.4,1650.7 443.0,1651.6 442.6,1653.1 442.2,1654.3 441.8,1655.1 441.4,1656.4 441.0,1657.6 440.6,1657.6 440.1,1658.1 439.7,1659.0 439.3,1659.4 438.9,1659.8 438.5,1660.9 438.1,1662.5 437.7,1663.5 437.3,1664.4 436.9,1665.9 436.5,1667.1 436.1,1668.1 435.7,1668.2 435.3,1669.0 434.8,1669.7 434.4,1670.4 434.0,1671.1 433.6,1672.1 433.2,1673.1 432.8,1673.7 432.4,1674.7 432.0,1675.4 431.6,1676.6 431.2,1676.8 430.8,1677.4 430.4,1677.9 429.9,1678.6 429.5,1679.7 429.1,1680.1 428.7,1681.3 428.3,1682.5 427.9,1683.8 427.5,1683.3 427.1,1684.1 426.7,1685.0 426.3,1685.1 425.9,1685.8 425.5,1686.3 425.1,1688.1 424.6,1688.5 424.2,1688.6 423.8,1690.0 423.4,1690.7 423.0,1691.8 422.6,1692.7 422.2,1693.7 421.8,1695.2 421.4,1696.0 421.0,1697.0 420.6,1697.3 420.2,1698.3 419.7,1699.0 419.3,1699.7 418.9,1700.6 418.5,1700.9 418.1,1702.2 417.7,1703.1 417.3,1704.0 416.9,1704.8 416.5,1705.2 416.1,1706.1 415.7,1707.2 415.3,1707.4 414.8,1709.1 414.4,1710.5 414.0,1711.9 413.6,1713.7 413.2,1714.5 412.8,1715.6 412.4,1715.8 412.0,1716.9 411.6,1718.2 411.2,1718.9 410.8,1720.3 410.4,1721.4 410.0,1722.8 409.5,1724.2 409.1,1725.4 408.7,1726.8 408.3,1728.2 407.9,1730.1 407.5,1731.5 407.1,1733.1 406.7,1734.9 406.3,1736.9 405.9,1739.0 405.5,1741.7 405.1,1744.4 404.6,1747.1 404.2,1749.7 403.8,1752.7 403.4,1756.0 403.0,1759.2 402.6,1762.4 402.2,1765.9 401.8,1769.3 401.4,1772.8 401.0,1776.4 400.6,1780.0" fill="#9a2528" fill-opacity="0.3" stroke="#9a2528" stroke-opacity="0.3" stroke-width="3.47" stroke-linejoin="miter"/>
<polygon points="400.6,1780.0 401.0,1771.6 401.4,1763.4 401.8,1755.3 402.2,1747.6 402.6,1740.0 403.0,1733.3 403.4,1727.1 403.8,1721.3 404.2,1716.4 404.6,1710.2 405.1,1705.2 405.5,1699.3 405.9,1693.1 406.3,1688.4 406.7,1683.8 407.1,1677.5 407.5,1672.2 407.9,1667.9 408.3,1662.5 408.7,1657.2 409.1,1652.2 409.5,1649.8 410.0,1645.2 410.4,1639.6 410.8,1632.7 411.2,1628.2 411.6,1623.1 412.0,1618.2 412.4,1615.4 412.8,1614.3 413.2,1615.0 413.6,1609.8 414.0,1606.8 414.4,1605.7 414.8,1601.5 415.3,1598.5 415.7,1595.4 416.1,1596.5 416.5,1594.4 416.9,1591.0 417.3,1588.6 417.7,1586.2 418.1,1585.4 418.5,1581.8 418.9,1579.0 419.3,1574.5 419.7,1574.2 420.2,1571.2 420.6,1567.5 421.0,1565.1 421.4,1566.9 421.8,1567.9 422.2,1565.8 422.6,1565.8 423.0,1564.7 423.4,1563.4 423.8,1559.1 424.2,1556.9 424.6,1553.4 425.1,1549.2 425.5,1546.7 425.9,1543.6 426.3,1540.0 426.7,1537.4 427.1,1534.2 427.5,1532.7 427.9,1530.1 428.3,1528.9 428.7,1526.7 429.1,1523.8 429.5,1521.6 429.9,1520.2 430.4,1521.5 430.8,1520.4 431.2,1519.6 431.6,1520.9 432.0,1522.0 432.4,1518.6 432.8,1516.6 433.2,1515.3 433.6,1514.0 434.0,1511.0 434.4,1506.5 434.8,1506.2 435.3,1502.8 435.7,1499.3 436.1,1499.1 436.5,1499.6 436.9,1501.5 437.3,1500.7 437.7,1501.3 438.1,1499.5 438.5,1496.5 438.9,1492.8 439.3,1489.4 439.7,1487.7 440.1,1486.5 440.6,1486.8 441.0,1485.4 441.4,1485.7 441.8,1484.8 442.2,1484.9 442.6,1481.6 443.0,1479.8 443.4,1478.5 443.8,1475.6 444.2,1473.4 444.6,1471.2 445.0,1470.4 445.5,1469.0 445.9,1467.3 446.3,1466.6 446.7,1466.9 447.1,1465.7 447.5,1465.4 447.9,1464.2 448.3,1462.7 448.7,1461.6 449.1,1459.1 449.5,1456.3 449.9,1453.3 450.3,1452.9 450.8,1451.1 451.2,1449.2 451.6,1448.1 452.0,1447.4 452.4,1444.4 452.8,1442.7 453.2,1441.3 453.6,1440.5 454.0,1439.7 454.4,1439.0 454.8,1439.3 455.2,1437.9 455.7,1436.9 456.1,1433.3 456.5,1430.4 456.9,1428.6 457.3,1426.2 457.7,1423.4 458.1,1423.7 458.5,1423.6 458.9,1422.3 459.3,1421.0 459.7,1421.6 460.1,1422.0 460.5,1418.8 461.0,1418.2 461.4,1418.3 461.8,1416.0 462.2,1413.0 462.6,1410.3 463.0,1409.9 463.4,1409.6 463.8,1406.4 464.2,1404.4 464.6,1403.2 465.0,1400.7 465.4,1399.8 465.9,1395.4 466.3,1395.1 466.7,1395.3 467.1,1393.8 467.5,1390.9 467.9,1386.9 468.3,1382.6 468.7,1379.0 469.1,1371.8 469.5,1370.9 469.9,1377.9 470.3,1381.7 470.8,1384.8 471.2,1381.5 471.6,1382.0 472.0,1379.5 472.4,1377.6 472.8,1379.1 473.2,1376.3 473.6,1375.3 474.0,1374.4 474.4,1374.6 474.8,1371.7 475.2,1367.2 475.6,1367.1 476.1,1365.9 476.5,1366.1 476.9,1365.1 477.3,1366.9 477.7,1367.6 478.1,1366.3 478.5,1367.0 478.9,1364.6 479.3,1362.9 479.7,1360.7 480.1,1359.6 480.5,1355.3 481.0,1352.8 481.4,1352.0 481.8,1351.6 482.2,1349.1 482.6,1347.5 483.0,1348.0 483.4,1348.3 483.8,1345.7 484.2,1344.7 484.6,1345.1 485.0,1342.4 485.4,1340.7 485.8,1337.2 486.3,1336.2 486.7,1331.9 487.1,1330.3 487.5,1328.5 487.9,1326.6 488.3,1325.7 488.7,1323.1 489.1,1322.1 489.5,1318.7 489.9,1316.3 490.3,1316.2 490.7,1314.4 491.2,1314.9 491.6,1312.7 492.0,1312.1 492.4,1312.9 492.8,1309.8 493.2,1308.2 493.6,1307.2 494.0,1306.7 494.4,1303.4 494.8,1301.0 495.2,1301.7 495.6,1300.3 496.0,1298.4 496.5,1298.6 496.9,1297.7 497.3,1296.1 497.7,1291.7 498.1,1290.7 498.5,1288.6 498.9,1287.5 499.3,1286.6 499.7,1286.4 500.1,1287.4 500.5,1286.8 500.9,1284.5 501.4,1281.9 501.8,1281.6 502.2,1278.1 502.6,1275.9 503.0,1273.7 503.4,1270.4 503.8,1270.3 504.2,1269.3 504.6,1268.2 505.0,1266.8 505.4,1264.8 505.8,1267.6 506.2,1266.9 508.5,1263.3 510.7,1256.7 513.0,1251.5 515.2,1242.7 517.5,1240.4 519.7,1237.4 521.9,1230.4 524.2,1224.7 526.4,1218.8 528.7,1213.3 530.9,1207.4 533.1,1201.0 535.4,1195.4 537.6,1193.7 539.9,1197.2 542.1,1194.2 544.3,1186.3 546.6,1183.8 548.8,1179.1 551.1,1175.9 553.3,1174.1 555.5,1171.5 557.8,1166.6 560.0,1165.6 562.3,1161.0 564.5,1155.7 566.7,1151.5 569.0,1143.6 571.2,1137.1 573.5,1133.8 575.7,1131.5 577.9,1128.5 580.2,1127.0 582.4,1123.1 584.7,1117.3 586.9,1116.0 589.1,1112.0 591.4,1109.9 593.6,1106.4 595.9,1101.3 598.1,1100.7 600.3,1098.6 602.6,1094.7 604.8,1092.1 607.1,1088.0 609.3,1084.2 611.6,1077.3 613.8,1077.6 616.0,1079.8 618.3,1073.5 620.5,1067.5 622.8,1065.8 625.0,1063.4 627.2,1061.4 629.5,1058.1 631.7,1055.6 634.0,1054.7 636.2,1050.9 638.4,1045.5 640.7,1042.4 642.9,1039.0 645.2,1038.5 647.4,1035.0 649.6,1031.4 651.9,1029.5 654.1,1027.5 656.4,1023.5 658.6,1020.6 660.8,1019.5 663.1,1019.4 665.3,1016.8 667.6,1014.4 669.8,1011.9 672.0,1006.9 674.3,1006.3 676.5,1010.4 678.8,1006.9 681.0,1003.3 683.2,1004.8 685.5,1002.6 687.7,1001.0 690.0,996.8 692.2,992.9 694.4,991.9 696.7,989.6 698.9,985.7 701.2,982.7 703.4,980.6 705.6,977.0 707.9,974.8 710.1,970.4 712.4,963.6 714.6,963.5 716.9,962.4 719.1,957.1 721.3,955.8 723.6,955.0 725.8,949.3 728.1,945.7 730.3,943.2 732.5,943.7 734.8,940.5 737.0,934.8 739.3,934.7 741.5,930.7 743.7,927.2 746.0,931.2 748.2,928.7 750.5,926.3 752.7,928.8 754.9,928.9 757.2,924.6 759.4,921.8 761.7,922.0 763.9,919.4 766.1,919.3 768.4,922.8 770.6,920.0 772.9,917.9 775.1,922.7 777.3,923.4 779.6,922.1 781.8,922.2 784.1,922.2 786.3,921.1 788.5,918.2 790.8,916.6 793.0,918.3 795.3,916.8 797.5,916.6 799.7,916.7 802.0,916.0 804.2,920.9 806.5,918.9 808.7,916.0 810.9,916.7 813.2,914.6 815.4,912.1 817.7,909.2 819.9,907.4 822.2,907.9 824.4,905.1 826.6,900.7 828.9,900.0 831.1,898.4 833.4,896.3 835.6,897.9 837.8,900.6 840.1,897.5 842.3,892.6 844.6,892.6 846.8,891.5 849.0,887.8 851.3,887.4 853.5,885.1 855.8,885.0 858.0,882.6 860.2,881.0 862.5,879.9 864.7,877.9 867.0,875.2 869.2,873.4 871.4,873.4 873.7,872.7 875.9,870.4 878.2,867.6 880.4,865.8 882.6,865.6 884.9,865.6 887.1,867.0 889.4,867.7 891.6,863.9 893.8,861.8 896.1,860.2 898.3,858.2 900.6,857.5 902.8,861.7 905.0,865.0 907.3,865.4 909.5,863.4 911.8,862.7 914.0,864.1 916.2,866.5 918.5,865.5 920.7,864.1 923.0,862.0 925.2,857.5 927.5,860.6 929.7,866.3 931.9,862.9 934.2,859.8 936.4,861.9 938.7,862.6 940.9,861.0 943.1,862.5 945.4,861.2 947.6,859.6 949.9,859.7 952.1,855.9 954.3,856.1 956.6,855.9 958.8,853.0 961.1,851.3 963.3,852.6 965.5,853.9 967.8,854.7 970.0,854.6 972.3,850.8 974.5,848.3 976.7,849.2 979.0,853.4 981.2,855.9 983.5,853.7 985.7,852.6 987.9,852.3 990.2,851.0 992.4,851.8 994.7,849.6 996.9,851.5 999.1,853.8 1001.4,850.3 1003.6,847.6 1005.9,849.7 1008.1,852.2 1010.3,850.9 1012.6,851.3 1014.8,851.2 1017.1,846.9 1019.3,846.0 1021.6,848.9 1023.8,848.2 1026.0,845.9 1028.3,845.6 1030.5,845.8 1032.8,843.3 1035.0,842.2 1037.2,843.2 1039.5,842.8 1041.7,839.7 1044.0,841.1 1046.2,845.4 1048.4,845.1 1050.7,843.1 1052.9,843.5 1055.2,844.3 1057.4,847.6 1059.6,847.8 1061.9,847.8 1064.1,845.5 1066.4,845.9 1068.6,848.4 1070.8,847.3 1073.1,847.6 1075.3,848.5 1077.6,847.8 1079.8,845.7 1082.0,846.3 1084.3,847.8 1086.5,845.9 1088.8,844.5 1091.0,843.5 1093.2,845.5 1095.5,847.4 1097.7,844.9 1100.0,842.4 1102.2,844.9 1104.4,848.5 1106.7,850.1 1108.9,849.2 1111.2,850.1 1113.4,850.0 1115.6,850.6 1117.9,850.9 1120.1,850.4 1122.4,850.1 1124.6,854.5 1126.9,856.3 1129.1,853.6 1131.3,853.2 1133.6,856.4 1135.8,857.3 1138.1,854.9 1140.3,852.9 1142.5,854.7 1144.8,854.4 1147.0,855.8 1149.3,853.7 1151.5,853.7 1153.7,858.4 1156.0,857.2 1158.2,854.0 1160.5,854.4 1162.7,854.7 1164.9,854.8 1167.2,855.1 1169.4,853.0 1171.7,852.2 1173.9,853.8 1176.1,855.8 1178.4,857.5 1180.6,859.2 1182.9,861.7 1185.1,862.4 1187.3,862.3 1189.6,862.3 1191.8,862.5 1194.1,863.3 1196.3,867.5 1198.5,870.2 1200.8,870.3 1203.0,866.5 1205.3,867.4 1207.5,870.7 1209.7,870.7 1212.0,873.2 1214.2,873.6 1216.5,876.2 1218.7,879.3 1220.9,880.0 1223.2,878.9 1225.4,876.3 1227.7,877.9 1229.9,882.2 1232.2,883.5 1234.4,882.8 1236.6,882.1 1238.9,882.4 1241.1,883.2 1243.4,884.7 1245.6,883.1 1247.8,881.7 1250.1,882.9 1252.3,885.7 1254.6,886.5 1256.8,883.3 1259.0,887.0 1261.3,890.3 1263.5,890.6 1265.8,892.2 1268.0,892.9 1270.2,893.5 1272.5,895.4 1274.7,897.0 1277.0,898.4 1279.2,899.3 1281.4,899.4 1283.7,902.0 1285.9,903.3 1288.2,904.4 1290.4,904.9 1292.6,904.8 1294.9,906.1 1297.1,910.0 1299.4,911.5 1301.6,911.2 1303.8,912.8 1306.1,912.4 1308.3,912.5 1310.6,914.0 1312.8,914.6 1315.0,914.6 1317.3,916.9 1319.5,918.2 1321.8,917.7 1324.0,920.6 1326.2,925.0 1328.5,926.0 1330.7,926.4 1333.0,926.3 1335.2,925.7 1337.5,927.9 1339.7,929.3 1341.9,928.7 1344.2,929.7 1346.4,932.3 1348.7,935.8 1350.9,936.4 1353.1,936.4 1355.4,938.8 1357.6,939.4 1359.9,940.8 1362.1,943.7 1364.3,945.0 1366.6,945.0 1368.8,946.9 1371.1,948.1 1373.3,949.9 1375.5,951.3 1377.8,951.5 1380.0,951.4 1382.3,952.0 1384.5,953.9 1386.7,954.1 1389.0,955.3 1391.2,957.0 1393.5,956.8 1395.7,957.7 1397.9,958.1 1400.2,957.1 1402.4,959.3 1404.7,961.9 1406.9,961.1 1409.1,961.7 1411.4,965.7 1413.6,967.9 1415.9,970.1 1418.1,969.3 1420.3,969.2 1422.6,972.5 1424.8,974.9 1427.1,976.7 1429.3,976.7 1431.5,979.8 1433.8,982.9 1436.0,983.5 1438.3,985.5 1440.5,985.4 1442.8,986.0 1445.0,987.3 1447.2,987.1 1449.5,990.1 1451.7,991.8 1454.0,992.1 1456.2,994.9 1458.4,995.5 1460.7,996.6 1462.9,999.1 1465.2,1002.0 1467.4,1002.9 1469.6,1003.8 1471.9,1005.1 1474.1,1006.6 1476.4,1008.3 1478.6,1009.8 1480.8,1012.0 1483.1,1015.2 1485.3,1017.1 1487.6,1017.6 1489.8,1019.6 1492.0,1021.7 1494.3,1024.6 1496.5,1024.6 1498.8,1024.8 1501.0,1027.2 1503.2,1028.0 1505.5,1030.3 1507.7,1032.4 1510.0,1033.1 1512.2,1035.4 1514.4,1037.6 1516.7,1038.0 1518.9,1039.3 1521.2,1041.7 1523.4,1044.1 1525.6,1045.9 1527.9,1048.1 1530.1,1050.6 1532.4,1051.3 1534.6,1052.8 1536.9,1056.3 1539.1,1058.4 1541.3,1059.4 1543.6,1059.9 1545.8,1061.6 1548.1,1063.2 1550.3,1064.4 1552.5,1067.3 1554.8,1068.3 1557.0,1069.7 1559.3,1072.8 1561.5,1075.0 1563.7,1076.2 1566.0,1078.1 1568.2,1080.2 1570.5,1081.3 1572.7,1082.9 1574.9,1085.9 1577.2,1087.6 1579.4,1089.2 1581.7,1091.3 1583.9,1094.3 1586.1,1095.5 1588.4,1096.3 1590.6,1098.7 1592.9,1100.7 1595.1,1103.3 1597.3,1103.7 1599.6,1104.9 1601.8,1107.6 1604.1,1109.8 1606.3,1113.1 1608.5,1116.4 1610.8,1117.3 1613.0,1120.4 1615.3,1122.6 1617.5,1123.2 1619.7,1124.5 1622.0,1126.8 1624.2,1128.2 1626.5,1128.3 1628.7,1130.9 1630.9,1134.1 1633.2,1135.5 1635.4,1137.1 1637.7,1140.7 1639.9,1143.4 1642.2,1144.5 1644.4,1147.8 1646.6,1150.7 1648.9,1152.1 1651.1,1152.8 1653.4,1154.9 1655.6,1158.2 1657.8,1160.0 1660.1,1160.0 1662.3,1162.0 1664.6,1164.1 1666.8,1164.8 1669.0,1167.2 1671.3,1170.2 1673.5,1172.5 1675.8,1173.5 1678.0,1174.7 1680.2,1178.2 1682.5,1181.0 1684.7,1183.5 1687.0,1186.1 1689.2,1187.1 1691.4,1188.4 1693.7,1191.1 1695.9,1193.0 1698.2,1195.4 1700.4,1197.9 1702.6,1200.2 1704.9,1203.9 1707.1,1205.5 1709.4,1206.6 1711.6,1209.3 1713.8,1212.1 1716.1,1214.1 1718.3,1216.1 1720.6,1218.9 1722.8,1221.1 1725.0,1223.8 1727.3,1225.7 1729.5,1227.0 1731.8,1229.6 1734.0,1231.7 1736.2,1234.2 1738.5,1237.4 1740.7,1237.1 1743.0,1239.9 1745.2,1242.8 1747.5,1244.7 1749.7,1247.1 1751.9,1248.4 1754.2,1250.3 1756.4,1252.9 1758.7,1255.8 1760.9,1256.9 1763.1,1258.2 1765.4,1261.4 1767.6,1264.3 1769.9,1267.5 1772.1,1269.1 1774.3,1269.8 1776.6,1272.4 1778.8,1276.1 1781.1,1277.5 1783.3,1279.4 1785.5,1281.7 1787.8,1284.0 1790.0,1286.5 1792.3,1288.5 1794.5,1290.7 1796.7,1292.8 1799.0,1294.6 1801.2,1296.5 1803.5,1298.7 1805.7,1301.0 1807.9,1302.8 1810.2,1304.9 1812.4,1307.8 1814.7,1309.3 1816.9,1311.3 1819.1,1314.4 1821.4,1316.9 1823.6,1319.2 1825.9,1320.9 1828.1,1322.8 1830.3,1325.5 1832.6,1328.3 1834.8,1330.1 1837.1,1331.4 1839.3,1333.6 1841.5,1336.6 1843.8,1338.9 1846.0,1341.0 1848.3,1343.7 1850.5,1345.8 1852.8,1347.6 1855.0,1350.3 1857.2,1352.7 1859.5,1353.9 1861.7,1355.2 1864.0,1357.4 1866.2,1359.7 1868.4,1360.9 1870.7,1363.0 1872.9,1365.4 1875.2,1366.9 1877.4,1368.0 1879.6,1369.9 1881.9,1376.1 1884.1,1378.3 1886.4,1380.7 1888.6,1382.1 1890.8,1384.3 1893.1,1387.0 1895.3,1389.7 1897.6,1392.5 1899.8,1394.4 1902.0,1396.0 1904.3,1398.9 1906.5,1401.6 1908.8,1403.7 1911.0,1405.9 1913.2,1407.6 1915.5,1410.1 1917.7,1412.3 1920.0,1413.6 1922.2,1416.7 1924.4,1419.4 1926.7,1421.2 1928.9,1423.6 1931.2,1425.0 1933.4,1426.5 1935.6,1429.4 1937.9,1432.1 1940.1,1434.0 1942.4,1435.6 1944.6,1437.5 1946.9,1440.0 1949.1,1442.8 1951.3,1445.3 1953.6,1447.3 1955.8,1448.7 1958.1,1450.6 1960.3,1452.4 1962.5,1454.7 1964.8,1457.2 1967.0,1458.8 1969.3,1460.8 1971.5,1463.0 1973.7,1465.5 1976.0,1467.4 1978.2,1468.7 1980.5,1470.9 1982.7,1472.8 1984.9,1475.0 1987.2,1477.5 1989.4,1479.7 1991.7,1480.9 1993.9,1482.9 1996.1,1485.3 1998.4,1487.5 2000.6,1489.4 2002.9,1491.4 2005.1,1493.6 2007.3,1495.5 2009.6,1497.3 2011.8,1499.6 2014.1,1501.1 2016.3,1502.9 2018.5,1505.0 2020.8,1506.5 2023.0,1508.2 2025.3,1510.6 2027.5,1512.8 2029.7,1514.7 2032.0,1516.9 2034.2,1518.8 2036.5,1520.7 2038.7,1522.9 2040.9,1524.9 2043.2,1526.6 2045.4,1528.4 2047.7,1530.4 2049.9,1532.1 2052.2,1534.0 2054.4,1536.1 2056.6,1537.6 2058.9,1539.5 2061.1,1541.4 2063.4,1542.9 2065.6,1544.9 2067.8,1546.9 2070.1,1548.6 2072.3,1550.2 2074.6,1552.0 2076.8,1553.9 2079.0,1555.9 2081.3,1557.6 2083.5,1559.1 2085.8,1560.8 2088.0,1562.7 2090.2,1564.5 2092.5,1566.1 2094.7,1567.9 2097.0,1569.9 2099.2,1571.9 2101.4,1573.7 2103.7,1575.5 2105.9,1577.5 2108.2,1579.2 2110.4,1581.1 2112.6,1582.9 2114.9,1584.8 2117.1,1586.7 2119.4,1588.5 2121.6,1590.6 2123.8,1592.6 2126.1,1594.5 2128.3,1596.5 2130.6,1598.7 2132.8,1600.9 2135.0,1603.3 2137.3,1605.7 2139.5,1608.1 2141.8,1610.6 2144.0,1613.3 2146.2,1616.1 2148.5,1618.9 2150.7,1622.0 2153.0,1625.2 2155.2,1628.9 2157.5,1632.7 2159.7,1637.3 2161.9,1651.7 2161.9,1651.7 2159.7,1637.4 2157.5,1632.8 2155.2,1629.0 2153.0,1625.4 2150.7,1622.2 2148.5,1619.2 2146.2,1616.2 2144.0,1613.5 2141.8,1610.8 2139.5,1608.3 2137.3,1605.8 2135.0,1603.6 2132.8,1601.3 2130.6,1599.0 2128.3,1597.0 2126.1,1594.9 2123.8,1592.9 2121.6,1591.0 2119.4,1589.1 2117.1,1587.2 2114.9,1585.4 2112.6,1583.7 2110.4,1581.8 2108.2,1579.7 2105.9,1577.7 2103.7,1576.0 2101.4,1574.2 2099.2,1572.2 2097.0,1570.3 2094.7,1568.9 2092.5,1567.0 2090.2,1565.1 2088.0,1563.6 2085.8,1561.9 2083.5,1559.7 2081.3,1558.0 2079.0,1556.3 2076.8,1554.7 2074.6,1553.0 2072.3,1551.1 2070.1,1549.4 2067.8,1547.6 2065.6,1545.7 2063.4,1544.1 2061.1,1542.2 2058.9,1540.5 2056.6,1538.7 2054.4,1536.9 2052.2,1535.1 2049.9,1533.4 2047.7,1531.4 2045.4,1529.5 2043.2,1528.2 2040.9,1526.0 2038.7,1523.8 2036.5,1521.7 2034.2,1519.7 2032.0,1517.6 2029.7,1515.7 2027.5,1513.9 2025.3,1512.0 2023.0,1510.2 2020.8,1508.5 2018.5,1506.7 2016.3,1504.4 2014.1,1502.6 2011.8,1500.5 2009.6,1498.5 2007.3,1496.7 2005.1,1494.8 2002.9,1492.7 2000.6,1490.9 1998.4,1488.7 1996.1,1486.4 1993.9,1484.8 1991.7,1483.1 1989.4,1480.9 1987.2,1478.7 1984.9,1477.1 1982.7,1475.3 1980.5,1473.4 1978.2,1471.6 1976.0,1469.3 1973.7,1467.3 1971.5,1465.3 1969.3,1463.1 1967.0,1461.4 1964.8,1459.4 1962.5,1457.7 1960.3,1455.6 1958.1,1453.4 1955.8,1451.7 1953.6,1449.7 1951.3,1447.8 1949.1,1445.6 1946.9,1443.5 1944.6,1441.3 1942.4,1439.3 1940.1,1437.7 1937.9,1435.5 1935.6,1433.0 1933.4,1431.2 1931.2,1429.3 1928.9,1427.2 1926.7,1425.0 1924.4,1423.1 1922.2,1421.1 1920.0,1419.3 1917.7,1417.0 1915.5,1414.6 1913.2,1413.0 1911.0,1410.6 1908.8,1407.5 1906.5,1405.5 1904.3,1403.6 1902.0,1401.9 1899.8,1399.6 1897.6,1397.4 1895.3,1395.8 1893.1,1393.4 1890.8,1391.6 1888.6,1389.7 1886.4,1387.3 1884.1,1384.9 1881.9,1383.0 1879.6,1380.6 1877.4,1379.4 1875.2,1377.9 1872.9,1376.2 1870.7,1374.2 1868.4,1371.9 1866.2,1369.4 1864.0,1367.1 1861.7,1365.5 1859.5,1363.9 1857.2,1361.9 1855.0,1358.8 1852.8,1356.8 1850.5,1355.0 1848.3,1352.9 1846.0,1351.5 1843.8,1349.2 1841.5,1347.3 1839.3,1344.7 1837.1,1342.2 1834.8,1340.4 1832.6,1338.3 1830.3,1336.3 1828.1,1334.3 1825.9,1332.4 1823.6,1329.8 1821.4,1327.5 1819.1,1325.8 1816.9,1323.2 1814.7,1320.9 1812.4,1319.7 1810.2,1318.5 1807.9,1316.2 1805.7,1313.4 1803.5,1312.0 1801.2,1310.3 1799.0,1306.6 1796.7,1304.5 1794.5,1304.5 1792.3,1302.6 1790.0,1299.7 1787.8,1297.9 1785.5,1295.1 1783.3,1293.1 1781.1,1292.0 1778.8,1289.9 1776.6,1287.3 1774.3,1285.2 1772.1,1283.9 1769.9,1281.5 1767.6,1278.5 1765.4,1276.8 1763.1,1275.1 1760.9,1272.2 1758.7,1270.6 1756.4,1270.7 1754.2,1269.6 1751.9,1267.4 1749.7,1265.3 1747.5,1263.5 1745.2,1262.2 1743.0,1259.6 1740.7,1257.6 1738.5,1256.5 1736.2,1254.5 1734.0,1253.7 1731.8,1251.4 1729.5,1249.0 1727.3,1248.1 1725.0,1245.7 1722.8,1243.8 1720.6,1242.9 1718.3,1241.1 1716.1,1238.7 1713.8,1238.1 1711.6,1236.0 1709.4,1234.2 1707.1,1234.0 1704.9,1231.4 1702.6,1229.2 1700.4,1227.6 1698.2,1226.0 1695.9,1223.6 1693.7,1222.3 1691.4,1220.8 1689.2,1218.4 1687.0,1216.6 1684.7,1214.8 1682.5,1213.3 1680.2,1212.1 1678.0,1212.1 1675.8,1211.5 1673.5,1210.0 1671.3,1206.6 1669.0,1203.1 1666.8,1201.0 1664.6,1199.0 1662.3,1197.1 1660.1,1195.1 1657.8,1193.6 1655.6,1192.9 1653.4,1191.6 1651.1,1189.5 1648.9,1186.7 1646.6,1184.1 1644.4,1181.3 1642.2,1180.4 1639.9,1180.3 1637.7,1177.2 1635.4,1176.6 1633.2,1176.0 1630.9,1172.9 1628.7,1170.6 1626.5,1168.5 1624.2,1167.2 1622.0,1165.3 1619.7,1164.5 1617.5,1162.6 1615.3,1158.8 1613.0,1157.9 1610.8,1157.3 1608.5,1156.7 1606.3,1154.3 1604.1,1150.7 1601.8,1149.5 1599.6,1148.5 1597.3,1147.0 1595.1,1145.3 1592.9,1142.0 1590.6,1140.9 1588.4,1140.4 1586.1,1137.8 1583.9,1136.5 1581.7,1134.0 1579.4,1132.6 1577.2,1132.1 1574.9,1130.3 1572.7,1129.2 1570.5,1128.8 1568.2,1127.1 1566.0,1125.3 1563.7,1124.1 1561.5,1123.1 1559.3,1122.2 1557.0,1120.1 1554.8,1119.0 1552.5,1117.8 1550.3,1115.6 1548.1,1113.2 1545.8,1111.4 1543.6,1111.1 1541.3,1109.3 1539.1,1106.6 1536.9,1106.6 1534.6,1105.8 1532.4,1101.7 1530.1,1099.3 1527.9,1100.1 1525.6,1098.6 1523.4,1096.7 1521.2,1095.4 1518.9,1093.2 1516.7,1092.8 1514.4,1092.0 1512.2,1090.1 1510.0,1088.6 1507.7,1087.3 1505.5,1086.5 1503.2,1086.0 1501.0,1084.0 1498.8,1082.5 1496.5,1081.5 1494.3,1077.1 1492.0,1074.7 1489.8,1076.5 1487.6,1076.1 1485.3,1073.8 1483.1,1072.8 1480.8,1072.9 1478.6,1070.6 1476.4,1068.3 1474.1,1067.4 1471.9,1067.7 1469.6,1067.5 1467.4,1065.5 1465.2,1063.3 1462.9,1062.8 1460.7,1059.7 1458.4,1057.9 1456.2,1059.6 1454.0,1059.3 1451.7,1055.8 1449.5,1054.5 1447.2,1055.3 1445.0,1055.4 1442.8,1053.8 1440.5,1052.0 1438.3,1051.9 1436.0,1048.7 1433.8,1046.2 1431.5,1045.3 1429.3,1045.3 1427.1,1047.8 1424.8,1047.1 1422.6,1045.3 1420.3,1044.2 1418.1,1042.8 1415.9,1042.2 1413.6,1041.3 1411.4,1041.0 1409.1,1040.3 1406.9,1037.4 1404.7,1036.5 1402.4,1038.2 1400.2,1035.1 1397.9,1033.0 1395.7,1034.6 1393.5,1033.2 1391.2,1030.0 1389.0,1029.7 1386.7,1030.3 1384.5,1031.2 1382.3,1030.9 1380.0,1031.2 1377.8,1029.9 1375.5,1028.1 1373.3,1026.9 1371.1,1024.8 1368.8,1024.8 1366.6,1024.7 1364.3,1022.9 1362.1,1020.8 1359.9,1021.9 1357.6,1022.8 1355.4,1019.4 1353.1,1018.1 1350.9,1019.9 1348.7,1019.2 1346.4,1017.9 1344.2,1018.2 1341.9,1017.8 1339.7,1016.0 1337.5,1013.9 1335.2,1014.1 1333.0,1015.2 1330.7,1015.4 1328.5,1014.9 1326.2,1014.2 1324.0,1014.9 1321.8,1013.6 1319.5,1012.6 1317.3,1011.7 1315.0,1009.3 1312.8,1007.6 1310.6,1006.0 1308.3,1005.2 1306.1,1005.8 1303.8,1004.2 1301.6,1002.5 1299.4,1002.5 1297.1,1002.3 1294.9,1001.8 1292.6,999.5 1290.4,998.4 1288.2,998.2 1285.9,997.5 1283.7,998.9 1281.4,997.7 1279.2,994.8 1277.0,995.4 1274.7,993.1 1272.5,992.5 1270.2,991.5 1268.0,989.9 1265.8,991.5 1263.5,991.1 1261.3,992.0 1259.0,992.9 1256.8,990.9 1254.6,990.5 1252.3,990.7 1250.1,991.9 1247.8,991.8 1245.6,989.8 1243.4,987.2 1241.1,983.5 1238.9,982.4 1236.6,984.9 1234.4,986.1 1232.2,985.3 1229.9,986.9 1227.7,987.0 1225.4,985.3 1223.2,983.5 1220.9,984.3 1218.7,984.7 1216.5,986.2 1214.2,987.0 1212.0,984.8 1209.7,984.3 1207.5,984.3 1205.3,982.9 1203.0,983.6 1200.8,985.1 1198.5,982.7 1196.3,980.2 1194.1,980.9 1191.8,984.5 1189.6,985.6 1187.3,981.9 1185.1,977.6 1182.9,980.4 1180.6,982.1 1178.4,977.2 1176.1,978.7 1173.9,978.4 1171.7,974.7 1169.4,976.0 1167.2,976.2 1164.9,978.4 1162.7,977.2 1160.5,973.3 1158.2,975.6 1156.0,977.5 1153.7,976.7 1151.5,976.2 1149.3,974.9 1147.0,973.6 1144.8,973.9 1142.5,972.1 1140.3,971.5 1138.1,973.1 1135.8,974.1 1133.6,974.3 1131.3,971.2 1129.1,970.5 1126.9,971.5 1124.6,972.6 1122.4,973.0 1120.1,975.1 1117.9,977.4 1115.6,976.8 1113.4,974.7 1111.2,973.8 1108.9,975.0 1106.7,975.7 1104.4,974.4 1102.2,972.7 1100.0,972.7 1097.7,972.2 1095.5,971.1 1093.2,971.5 1091.0,971.5 1088.8,970.9 1086.5,970.3 1084.3,970.5 1082.0,970.5 1079.8,971.9 1077.6,972.9 1075.3,972.5 1073.1,973.9 1070.8,975.0 1068.6,977.5 1066.4,978.2 1064.1,979.4 1061.9,981.8 1059.6,981.5 1057.4,980.1 1055.2,980.6 1052.9,980.9 1050.7,980.1 1048.4,981.1 1046.2,979.9 1044.0,981.1 1041.7,983.1 1039.5,983.0 1037.2,983.9 1035.0,986.2 1032.8,985.0 1030.5,985.2 1028.3,985.9 1026.0,985.0 1023.8,983.9 1021.6,982.3 1019.3,985.6 1017.1,988.7 1014.8,988.5 1012.6,990.6 1010.3,992.5 1008.1,993.8 1005.9,992.2 1003.6,993.4 1001.4,998.8 999.1,997.7 996.9,995.4 994.7,999.1 992.4,1001.5 990.2,999.8 987.9,998.3 985.7,1000.8 983.5,1002.0 981.2,1005.9 979.0,1005.5 976.7,1004.5 974.5,1003.1 972.3,1004.0 970.0,1006.6 967.8,1005.9 965.5,1004.9 963.3,1004.5 961.1,1009.0 958.8,1011.6 956.6,1010.5 954.3,1008.6 952.1,1008.3 949.9,1009.1 947.6,1013.3 945.4,1013.8 943.1,1013.3 940.9,1013.2 938.7,1013.6 936.4,1016.1 934.2,1017.4 931.9,1016.4 929.7,1015.3 927.5,1018.6 925.2,1017.8 923.0,1014.6 920.7,1016.7 918.5,1018.1 916.2,1015.1 914.0,1016.1 911.8,1019.4 909.5,1023.2 907.3,1025.7 905.0,1024.6 902.8,1024.3 900.6,1023.9 898.3,1023.9 896.1,1023.7 893.8,1025.5 891.6,1030.2 889.4,1028.9 887.1,1022.9 884.9,1022.9 882.6,1027.6 880.4,1028.7 878.2,1028.9 875.9,1029.1 873.7,1029.6 871.4,1030.1 869.2,1035.6 867.0,1037.1 864.7,1038.7 862.5,1041.7 860.2,1042.8 858.0,1044.1 855.8,1047.1 853.5,1052.8 851.3,1057.1 849.0,1057.1 846.8,1055.4 844.6,1057.2 842.3,1058.9 840.1,1056.6 837.8,1055.5 835.6,1062.0 833.4,1065.3 831.1,1059.4 828.9,1054.4 826.6,1055.9 824.4,1056.7 822.2,1057.4 819.9,1057.9 817.7,1055.1 815.4,1052.6 813.2,1056.0 810.9,1058.6 808.7,1062.6 806.5,1065.5 804.2,1062.7 802.0,1064.0 799.7,1064.8 797.5,1066.4 795.3,1069.2 793.0,1072.4 790.8,1074.2 788.5,1073.4 786.3,1074.7 784.1,1080.3 781.8,1083.0 779.6,1080.9 777.3,1080.6 775.1,1081.2 772.9,1083.4 770.6,1087.3 768.4,1089.2 766.1,1091.7 763.9,1094.1 761.7,1094.1 759.4,1092.9 757.2,1092.3 754.9,1096.2 752.7,1095.2 750.5,1095.2 748.2,1097.8 746.0,1100.0 743.7,1098.7 741.5,1100.6 739.3,1105.2 737.0,1106.3 734.8,1103.6 732.5,1107.8 730.3,1113.8 728.1,1113.9 725.8,1114.0 723.6,1117.7 721.3,1118.8 719.1,1120.8 716.9,1118.9 714.6,1121.5 712.4,1125.8 710.1,1126.6 707.9,1126.4 705.6,1126.4 703.4,1127.3 701.2,1123.8 698.9,1121.1 696.7,1123.8 694.4,1125.1 692.2,1121.1 690.0,1122.6 687.7,1126.7 685.5,1131.0 683.2,1135.5 681.0,1135.5 678.8,1137.3 676.5,1140.3 674.3,1145.0 672.0,1148.9 669.8,1149.5 667.6,1151.8 665.3,1156.0 663.1,1160.7 660.8,1163.8 658.6,1165.4 656.4,1172.2 654.1,1174.1 651.9,1178.3 649.6,1182.7 647.4,1182.0 645.2,1187.8 642.9,1193.2 640.7,1197.3 638.4,1202.1 636.2,1203.8 634.0,1204.2 631.7,1207.1 629.5,1212.0 627.2,1216.8 625.0,1223.0 622.8,1227.1 620.5,1228.1 618.3,1233.5 616.0,1241.1 613.8,1246.7 611.6,1248.6 609.3,1247.8 607.1,1246.1 604.8,1248.8 602.6,1257.4 600.3,1264.5 598.1,1266.1 595.9,1269.0 593.6,1273.8 591.4,1275.9 589.1,1276.5 586.9,1279.7 584.7,1282.3 582.4,1284.7 580.2,1292.5 577.9,1297.9 575.7,1303.5 573.5,1308.4 571.2,1308.6 569.0,1309.4 566.7,1309.3 564.5,1312.3 562.3,1316.3 560.0,1316.6 557.8,1317.2 555.5,1319.5 553.3,1327.1 551.1,1334.8 548.8,1335.5 546.6,1339.5 544.3,1348.1 542.1,1355.7 539.9,1356.6 537.6,1356.7 535.4,1359.7 533.1,1364.9 530.9,1367.4 528.7,1368.4 526.4,1376.5 524.2,1384.2 521.9,1388.1 519.7,1389.6 517.5,1394.1 515.2,1396.1 513.0,1401.3 510.7,1413.0 508.5,1416.8 506.2,1416.0 505.8,1415.4 505.4,1419.4 505.0,1420.4 504.6,1420.7 504.2,1425.6 503.8,1427.4 503.4,1427.7 503.0,1427.4 502.6,1429.0 502.2,1430.5 501.8,1430.0 501.4,1430.0 500.9,1429.6 500.5,1429.3 500.1,1431.0 499.7,1432.8 499.3,1434.8 498.9,1438.6 498.5,1441.0 498.1,1442.0 497.7,1443.9 497.3,1446.2 496.9,1446.4 496.5,1446.3 496.0,1449.9 495.6,1451.9 495.2,1450.3 494.8,1450.9 494.4,1453.4 494.0,1453.9 493.6,1454.7 493.2,1454.6 492.8,1458.0 492.4,1457.1 492.0,1456.0 491.6,1456.8 491.2,1455.2 490.7,1454.5 490.3,1453.7 489.9,1454.9 489.5,1454.8 489.1,1454.0 488.7,1453.8 488.3,1456.8 487.9,1458.0 487.5,1458.6 487.1,1462.2 486.7,1463.9 486.3,1464.7 485.8,1465.3 485.4,1465.6 485.0,1465.6 484.6,1464.1 484.2,1464.9 483.8,1466.0 483.4,1465.6 483.0,1467.0 482.6,1467.6 482.2,1469.9 481.8,1470.9 481.4,1472.0 481.0,1474.3 480.5,1475.6 480.1,1476.2 479.7,1475.1 479.3,1475.4 478.9,1475.9 478.5,1475.1 478.1,1476.4 477.7,1478.8 477.3,1479.1 476.9,1481.1 476.5,1481.5 476.1,1483.4 475.6,1484.8 475.2,1484.7 474.8,1486.4 474.4,1488.1 474.0,1491.2 473.6,1492.8 473.2,1494.2 472.8,1496.3 472.4,1499.0 472.0,1499.6 471.6,1500.6 471.2,1502.4 470.8,1505.0 470.3,1507.7 469.9,1509.2 469.5,1510.5 469.1,1511.8 468.7,1512.0 468.3,1511.7 467.9,1511.2 467.5,1510.9 467.1,1510.8 466.7,1509.7 466.3,1509.2 465.9,1507.0 465.4,1509.0 465.0,1510.3 464.6,1510.1 464.2,1509.9 463.8,1511.1 463.4,1512.6 463.0,1510.8 462.6,1511.6 462.2,1511.4 461.8,1514.0 461.4,1514.2 461.0,1512.4 460.5,1512.4 460.1,1510.9 459.7,1514.4 459.3,1513.5 458.9,1516.0 458.5,1518.5 458.1,1520.3 457.7,1524.1 457.3,1525.6 456.9,1527.3 456.5,1527.0 456.1,1528.9 455.7,1531.5 455.2,1532.1 454.8,1531.6 454.4,1533.9 454.0,1534.9 453.6,1534.9 453.2,1533.2 452.8,1532.0 452.4,1533.0 452.0,1533.7 451.6,1536.2 451.2,1539.2 450.8,1541.4 450.3,1543.3 449.9,1544.3 449.5,1544.5 449.1,1545.6 448.7,1545.0 448.3,1545.2 447.9,1546.5 447.5,1548.2 447.1,1546.8 446.7,1546.5 446.3,1547.1 445.9,1548.4 445.5,1548.5 445.0,1548.0 444.6,1553.2 444.2,1553.0 443.8,1554.1 443.4,1553.7 443.0,1553.3 442.6,1553.3 442.2,1551.4 441.8,1552.5 441.4,1552.9 441.0,1554.1 440.6,1558.1 440.1,1560.6 439.7,1561.5 439.3,1565.1 438.9,1567.9 438.5,1572.3 438.1,1572.9 437.7,1574.0 437.3,1578.7 436.9,1577.9 436.5,1579.4 436.1,1578.9 435.7,1579.4 435.3,1581.7 434.8,1581.7 434.4,1584.6 434.0,1586.2 433.6,1587.5 433.2,1589.3 432.8,1589.3 432.4,1592.2 432.0,1593.2 431.6,1596.5 431.2,1599.0 430.8,1600.4 430.4,1602.6 429.9,1602.6 429.5,1603.9 429.1,1603.2 428.7,1604.8 428.3,1606.2 427.9,1607.0 427.5,1608.6 427.1,1610.1 426.7,1611.6 426.3,1613.1 425.9,1615.1 425.5,1616.9 425.1,1616.8 424.6,1618.5 424.2,1620.4 423.8,1621.3 423.4,1624.2 423.0,1627.6 422.6,1630.0 422.2,1631.7 421.8,1633.3 421.4,1634.0 421.0,1634.4 420.6,1635.3 420.2,1637.5 419.7,1640.0 419.3,1641.3 418.9,1643.9 418.5,1644.6 418.1,1647.4 417.7,1650.5 417.3,1652.8 416.9,1653.1 416.5,1655.2 416.1,1658.4 415.7,1660.4 415.3,1663.4 414.8,1665.0 414.4,1669.5 414.0,1672.0 413.6,1675.5 413.2,1678.2 412.8,1679.9 412.4,1682.8 412.0,1685.9 411.6,1690.1 411.2,1691.3 410.8,1692.8 410.4,1696.7 410.0,1699.1 409.5,1700.0 409.1,1701.3 408.7,1705.0 408.3,1709.4 407.9,1710.9 407.5,1716.2 407.1,1719.3 406.7,1722.0 406.3,1726.0 405.9,1728.3 405.5,1731.0 405.1,1732.9 404.6,1737.2 404.2,1741.2 403.8,1743.4 403.4,1746.6 403.0,1750.1 402.6,1754.4 402.2,1758.8 401.8,1763.9 401.4,1769.1 401.0,1774.5 400.6,1780.0" fill="#9656a6" fill-opacity="0.3" stroke="#9656a6" stroke-opacity="0.3" stroke-width="3.47" stroke-linejoin="miter"/>
<polygon points="400.6,1780.0 401.0,1769.5 401.4,1759.2 401.8,1748.9 402.2,1739.3 402.6,1730.1 403.0,1720.3 403.4,1711.6 403.8,1703.3 404.2,1696.8 404.6,1689.9 405.1,1682.4 405.5,1676.8 405.9,1672.0 406.3,1666.2 406.7,1661.9 407.1,1658.1 407.5,1654.9 407.9,1652.1 408.3,1650.9 408.7,1648.7 409.1,1645.6 409.5,1643.3 410.0,1642.7 410.4,1637.5 410.8,1634.2 411.2,1627.2 411.6,1624.3 412.0,1618.6 412.4,1614.4 412.8,1613.8 413.2,1610.9 413.6,1608.1 414.0,1606.1 414.4,1601.8 414.8,1597.2 415.3,1590.0 415.7,1584.1 416.1,1580.6 416.5,1573.1 416.9,1569.1 417.3,1565.6 417.7,1564.1 418.1,1558.5 418.5,1554.6 418.9,1552.4 419.3,1551.5 419.7,1545.4 420.2,1540.3 420.6,1538.7 421.0,1533.0 421.4,1529.1 421.8,1523.4 422.2,1521.6 422.6,1520.5 423.0,1516.5 423.4,1519.3 423.8,1523.4 424.2,1532.4 424.6,1539.7 425.1,1542.7 425.5,1540.2 425.9,1535.6 426.3,1533.2 426.7,1527.0 427.1,1522.3 427.5,1518.8 427.9,1513.0 428.3,1510.4 428.7,1505.5 429.1,1501.5 429.5,1498.9 429.9,1493.1 430.4,1488.7 430.8,1484.0 431.2,1480.3 431.6,1475.7 432.0,1471.0 432.4,1467.1 432.8,1465.8 433.2,1462.6 433.6,1459.6 434.0,1457.5 434.4,1457.1 434.8,1452.5 435.3,1449.6 435.7,1446.3 436.1,1442.7 436.5,1442.4 436.9,1438.6 437.3,1438.7 437.7,1436.7 438.1,1432.3 438.5,1432.5 438.9,1429.4 439.3,1426.6 439.7,1425.8 440.1,1423.9 440.6,1423.7 441.0,1420.2 441.4,1418.1 441.8,1417.7 442.2,1414.7 442.6,1412.1 443.0,1410.3 443.4,1408.9 443.8,1407.0 444.2,1403.5 444.6,1402.9 445.0,1401.4 445.5,1399.8 445.9,1396.7 446.3,1395.3 446.7,1395.0 447.1,1392.1 447.5,1390.6 447.9,1391.2 448.3,1391.9 448.7,1393.0 449.1,1392.4 449.5,1392.2 449.9,1392.5 450.3,1393.3 450.8,1392.6 451.2,1390.1 451.6,1393.0 452.0,1392.0 452.4,1393.6 452.8,1391.1 453.2,1393.6 453.6,1394.0 454.0,1388.9 454.4,1386.6 454.8,1383.6 455.2,1381.3 455.7,1376.2 456.1,1371.1 456.5,1368.4 456.9,1367.9 457.3,1365.7 457.7,1363.7 458.1,1362.4 458.5,1364.9 458.9,1365.8 459.3,1365.1 459.7,1364.7 460.1,1365.8 460.5,1366.0 461.0,1363.5 461.4,1361.5 461.8,1363.0 462.2,1362.0 462.6,1359.4 463.0,1358.0 463.4,1356.9 463.8,1357.7 464.2,1356.0 464.6,1355.6 465.0,1354.7 465.4,1355.1 465.9,1354.6 466.3,1352.9 466.7,1349.0 467.1,1345.4 467.5,1342.6 467.9,1338.6 468.3,1336.7 468.7,1333.6 469.1,1332.5 469.5,1331.5 469.9,1331.6 470.3,1328.2 470.8,1324.6 471.2,1322.4 471.6,1319.3 472.0,1316.5 472.4,1313.6 472.8,1313.3 473.2,1315.1 473.6,1313.4 474.0,1312.9 474.4,1312.5 474.8,1312.7 475.2,1313.1 475.6,1310.2 476.1,1311.3 476.5,1311.0 476.9,1309.3 477.3,1306.8 477.7,1305.3 478.1,1304.7 478.5,1301.7 478.9,1297.6 479.3,1295.4 479.7,1294.0 480.1,1291.1 480.5,1290.1 481.0,1288.8 481.4,1287.6 481.8,1286.8 482.2,1284.0 482.6,1280.4 483.0,1273.7 483.4,1269.9 483.8,1266.7 484.2,1263.9 484.6,1260.2 485.0,1259.6 485.4,1259.9 485.8,1259.5 486.3,1257.0 486.7,1254.8 487.1,1253.5 487.5,1250.1 487.9,1247.1 488.3,1243.6 488.7,1243.2 489.1,1243.3 489.5,1243.6 489.9,1244.1 490.3,1243.2 490.7,1240.9 491.2,1238.7 491.6,1236.3 492.0,1231.1 492.4,1228.5 492.8,1227.2 493.2,1228.7 493.6,1229.2 494.0,1227.2 494.4,1228.5 494.8,1228.0 495.2,1227.9 495.6,1223.4 496.0,1223.3 496.5,1222.5 496.9,1221.1 497.3,1220.3 497.7,1218.7 498.1,1217.4 498.5,1214.7 498.9,1211.9 499.3,1211.3 499.7,1208.7 500.1,1209.5 500.5,1208.9 500.9,1208.7 501.4,1207.0 501.8,1204.9 502.2,1202.6 502.6,1199.4 503.0,1198.8 503.4,1199.2 503.8,1199.9 504.2,1199.4 504.6,1201.4 505.0,1199.2 505.4,1196.1 505.8,1193.4 506.2,1195.4 508.5,1183.2 510.7,1182.8 513.0,1179.5 515.2,1171.6 517.5,1169.2 519.7,1164.8 521.9,1163.8 524.2,1162.1 526.4,1158.1 528.7,1153.6 530.9,1150.1 533.1,1146.1 535.4,1138.9 537.6,1131.5 539.9,1126.7 542.1,1121.9 544.3,1119.6 546.6,1113.4 548.8,1108.5 551.1,1110.2 553.3,1108.5 555.5,1099.4 557.8,1091.5 560.0,1088.8 562.3,1088.1 564.5,1085.1 566.7,1079.7 569.0,1071.3 571.2,1068.4 573.5,1063.2 575.7,1054.9 577.9,1052.2 580.2,1046.7 582.4,1036.8 584.7,1030.1 586.9,1024.6 589.1,1020.1 591.4,1007.6 593.6,997.7 595.9,995.3 598.1,993.3 600.3,990.0 602.6,985.1 604.8,984.0 607.1,980.6 609.3,975.9 611.6,973.7 613.8,969.3 616.0,965.0 618.3,962.5 620.5,963.1 622.8,964.9 625.0,968.0 627.2,966.0 629.5,963.7 631.7,964.2 634.0,964.0 636.2,963.8 638.4,964.4 640.7,961.9 642.9,959.8 645.2,960.7 647.4,958.8 649.6,954.7 651.9,950.6 654.1,948.0 656.4,946.9 658.6,945.4 660.8,943.0 663.1,941.7 665.3,939.0 667.6,936.5 669.8,937.6 672.0,934.0 674.3,931.1 676.5,930.4 678.8,930.5 681.0,931.0 683.2,925.7 685.5,917.7 687.7,915.6 690.0,919.3 692.2,916.5 694.4,912.4 696.7,911.0 698.9,906.5 701.2,901.8 703.4,900.3 705.6,898.6 707.9,896.9 710.1,892.7 712.4,890.3 714.6,887.2 716.9,883.9 719.1,879.8 721.3,876.1 723.6,875.4 725.8,869.4 728.1,869.3 730.3,870.9 732.5,865.9 734.8,863.5 737.0,862.5 739.3,860.5 741.5,855.4 743.7,853.3 746.0,852.7 748.2,850.3 750.5,850.7 752.7,849.8 754.9,846.3 757.2,843.0 759.4,842.8 761.7,841.0 763.9,841.2 766.1,843.7 768.4,841.3 770.6,837.7 772.9,836.9 775.1,833.3 777.3,831.0 779.6,831.2 781.8,829.6 784.1,826.9 786.3,824.2 788.5,820.0 790.8,820.3 793.0,818.9 795.3,814.9 797.5,813.0 799.7,810.1 802.0,809.7 804.2,810.8 806.5,812.7 808.7,809.9 810.9,807.3 813.2,808.6 815.4,807.0 817.7,806.5 819.9,807.0 822.2,806.7 824.4,805.7 826.6,806.4 828.9,804.0 831.1,801.7 833.4,802.6 835.6,802.8 837.8,800.4 840.1,799.5 842.3,799.9 844.6,798.0 846.8,794.7 849.0,792.4 851.3,793.0 853.5,792.9 855.8,793.0 858.0,793.1 860.2,795.6 862.5,797.0 864.7,795.5 867.0,799.2 869.2,802.9 871.4,798.4 873.7,797.4 875.9,799.2 878.2,800.3 880.4,799.5 882.6,798.2 884.9,799.3 887.1,798.4 889.4,797.7 891.6,798.8 893.8,797.9 896.1,797.6 898.3,794.2 900.6,790.5 902.8,787.3 905.0,783.9 907.3,783.6 909.5,783.1 911.8,782.4 914.0,784.9 916.2,784.1 918.5,781.8 920.7,781.1 923.0,779.3 925.2,778.7 927.5,779.7 929.7,784.5 931.9,785.4 934.2,782.8 936.4,785.0 938.7,784.5 940.9,784.5 943.1,784.7 945.4,781.4 947.6,783.0 949.9,784.5 952.1,782.1 954.3,781.6 956.6,783.6 958.8,786.7 961.1,783.6 963.3,781.4 965.5,783.9 967.8,784.6 970.0,785.4 972.3,783.6 974.5,781.2 976.7,781.2 979.0,782.5 981.2,782.8 983.5,784.0 985.7,782.8 987.9,781.2 990.2,783.9 992.4,782.0 994.7,780.7 996.9,777.9 999.1,776.7 1001.4,778.0 1003.6,775.8 1005.9,777.0 1008.1,778.9 1010.3,773.9 1012.6,771.5 1014.8,771.6 1017.1,770.1 1019.3,769.6 1021.6,770.5 1023.8,771.5 1026.0,771.8 1028.3,771.0 1030.5,770.0 1032.8,772.9 1035.0,775.3 1037.2,775.6 1039.5,774.8 1041.7,773.3 1044.0,772.3 1046.2,774.4 1048.4,776.9 1050.7,776.0 1052.9,774.8 1055.2,772.5 1057.4,772.1 1059.6,771.3 1061.9,771.0 1064.1,770.9 1066.4,771.7 1068.6,772.2 1070.8,773.1 1073.1,772.7 1075.3,772.3 1077.6,772.0 1079.8,773.0 1082.0,776.2 1084.3,775.8 1086.5,773.3 1088.8,773.1 1091.0,773.6 1093.2,774.8 1095.5,775.0 1097.7,774.8 1100.0,777.2 1102.2,776.8 1104.4,777.1 1106.7,776.2 1108.9,773.8 1111.2,776.7 1113.4,777.6 1115.6,776.3 1117.9,778.2 1120.1,779.6 1122.4,781.4 1124.6,785.3 1126.9,784.6 1129.1,781.6 1131.3,782.8 1133.6,786.0 1135.8,785.7 1138.1,786.6 1140.3,785.9 1142.5,788.3 1144.8,790.1 1147.0,793.0 1149.3,796.8 1151.5,795.8 1153.7,796.1 1156.0,798.5 1158.2,801.5 1160.5,804.5 1162.7,803.9 1164.9,806.0 1167.2,807.5 1169.4,808.0 1171.7,809.5 1173.9,813.0 1176.1,814.8 1178.4,814.8 1180.6,816.7 1182.9,816.0 1185.1,817.5 1187.3,820.9 1189.6,821.4 1191.8,818.0 1194.1,817.4 1196.3,819.5 1198.5,822.3 1200.8,824.8 1203.0,824.8 1205.3,824.7 1207.5,826.6 1209.7,825.8 1212.0,824.7 1214.2,826.0 1216.5,826.8 1218.7,827.0 1220.9,826.9 1223.2,828.4 1225.4,828.4 1227.7,827.7 1229.9,829.8 1232.2,832.1 1234.4,832.5 1236.6,833.5 1238.9,833.8 1241.1,833.5 1243.4,834.0 1245.6,833.9 1247.8,834.2 1250.1,835.9 1252.3,841.9 1254.6,841.2 1256.8,840.5 1259.0,843.2 1261.3,843.2 1263.5,843.9 1265.8,845.2 1268.0,848.0 1270.2,850.8 1272.5,850.6 1274.7,849.9 1277.0,850.4 1279.2,852.7 1281.4,854.4 1283.7,854.7 1285.9,855.1 1288.2,852.8 1290.4,855.4 1292.6,859.3 1294.9,856.0 1297.1,854.5 1299.4,857.1 1301.6,858.4 1303.8,856.7 1306.1,858.6 1308.3,861.6 1310.6,861.8 1312.8,863.2 1315.0,866.2 1317.3,869.9 1319.5,870.6 1321.8,870.7 1324.0,873.3 1326.2,877.9 1328.5,879.8 1330.7,881.8 1333.0,886.1 1335.2,885.7 1337.5,885.6 1339.7,888.1 1341.9,889.5 1344.2,890.6 1346.4,889.8 1348.7,890.4 1350.9,894.3 1353.1,897.8 1355.4,897.8 1357.6,898.2 1359.9,900.2 1362.1,903.7 1364.3,907.3 1366.6,909.2 1368.8,909.6 1371.1,910.7 1373.3,912.9 1375.5,914.0 1377.8,914.0 1380.0,913.8 1382.3,915.0 1384.5,917.2 1386.7,919.2 1389.0,919.3 1391.2,918.7 1393.5,917.3 1395.7,917.4 1397.9,920.8 1400.2,922.7 1402.4,922.2 1404.7,923.8 1406.9,925.8 1409.1,928.6 1411.4,931.7 1413.6,932.8 1415.9,933.7 1418.1,935.4 1420.3,937.7 1422.6,941.3 1424.8,942.5 1427.1,942.5 1429.3,946.6 1431.5,948.7 1433.8,948.5 1436.0,950.5 1438.3,952.5 1440.5,955.1 1442.8,955.5 1445.0,956.7 1447.2,960.1 1449.5,962.4 1451.7,964.8 1454.0,964.4 1456.2,965.3 1458.4,967.5 1460.7,967.3 1462.9,967.6 1465.2,969.5 1467.4,971.0 1469.6,972.0 1471.9,974.3 1474.1,976.0 1476.4,977.6 1478.6,979.7 1480.8,982.5 1483.1,983.8 1485.3,985.4 1487.6,987.9 1489.8,988.6 1492.0,992.2 1494.3,994.0 1496.5,996.6 1498.8,1000.4 1501.0,1002.1 1503.2,1004.3 1505.5,1006.2 1507.7,1007.7 1510.0,1009.9 1512.2,1012.0 1514.4,1013.4 1516.7,1014.5 1518.9,1016.7 1521.2,1018.3 1523.4,1020.1 1525.6,1020.8 1527.9,1023.0 1530.1,1027.2 1532.4,1028.5 1534.6,1028.4 1536.9,1030.7 1539.1,1032.2 1541.3,1034.9 1543.6,1036.7 1545.8,1036.6 1548.1,1038.8 1550.3,1040.9 1552.5,1042.2 1554.8,1045.1 1557.0,1049.3 1559.3,1050.6 1561.5,1051.1 1563.7,1054.0 1566.0,1055.4 1568.2,1056.5 1570.5,1059.3 1572.7,1061.7 1574.9,1065.1 1577.2,1066.4 1579.4,1068.3 1581.7,1069.7 1583.9,1070.9 1586.1,1075.3 1588.4,1077.6 1590.6,1078.6 1592.9,1079.7 1595.1,1081.1 1597.3,1084.3 1599.6,1086.3 1601.8,1087.9 1604.1,1089.7 1606.3,1092.3 1608.5,1094.5 1610.8,1096.0 1613.0,1098.7 1615.3,1101.7 1617.5,1103.4 1619.7,1105.0 1622.0,1107.2 1624.2,1109.9 1626.5,1112.2 1628.7,1113.7 1630.9,1116.5 1633.2,1117.8 1635.4,1120.4 1637.7,1123.8 1639.9,1125.8 1642.2,1126.6 1644.4,1128.5 1646.6,1130.9 1648.9,1132.1 1651.1,1133.1 1653.4,1137.7 1655.6,1140.9 1657.8,1142.8 1660.1,1144.7 1662.3,1146.1 1664.6,1147.9 1666.8,1151.6 1669.0,1155.1 1671.3,1155.9 1673.5,1156.9 1675.8,1158.6 1678.0,1160.5 1680.2,1162.7 1682.5,1165.2 1684.7,1167.8 1687.0,1171.4 1689.2,1172.4 1691.4,1174.2 1693.7,1177.6 1695.9,1178.5 1698.2,1179.4 1700.4,1182.8 1702.6,1184.8 1704.9,1185.7 1707.1,1188.6 1709.4,1190.8 1711.6,1192.0 1713.8,1195.5 1716.1,1198.2 1718.3,1200.2 1720.6,1203.0 1722.8,1205.5 1725.0,1208.0 1727.3,1208.8 1729.5,1210.9 1731.8,1212.9 1734.0,1214.0 1736.2,1216.8 1738.5,1219.5 1740.7,1221.7 1743.0,1224.4 1745.2,1227.3 1747.5,1229.2 1749.7,1230.0 1751.9,1232.9 1754.2,1236.4 1756.4,1238.3 1758.7,1240.3 1760.9,1243.0 1763.1,1244.1 1765.4,1246.3 1767.6,1250.3 1769.9,1253.1 1772.1,1255.2 1774.3,1256.5 1776.6,1258.2 1778.8,1260.7 1781.1,1263.9 1783.3,1265.8 1785.5,1267.7 1787.8,1271.2 1790.0,1273.8 1792.3,1276.9 1794.5,1279.4 1796.7,1281.7 1799.0,1283.1 1801.2,1286.6 1803.5,1289.3 1805.7,1291.4 1807.9,1293.5 1810.2,1295.7 1812.4,1297.5 1814.7,1299.7 1816.9,1302.7 1819.1,1304.9 1821.4,1306.8 1823.6,1310.3 1825.9,1311.9 1828.1,1313.6 1830.3,1317.2 1832.6,1319.6 1834.8,1321.8 1837.1,1324.7 1839.3,1326.5 1841.5,1328.9 1843.8,1332.1 1846.0,1334.5 1848.3,1336.5 1850.5,1338.4 1852.8,1340.3 1855.0,1341.8 1857.2,1344.1 1859.5,1347.3 1861.7,1349.5 1864.0,1351.1 1866.2,1353.1 1868.4,1355.1 1870.7,1356.7 1872.9,1359.3 1875.2,1361.7 1877.4,1363.2 1879.6,1365.7 1881.9,1370.5 1884.1,1372.6 1886.4,1375.1 1888.6,1377.4 1890.8,1378.9 1893.1,1381.1 1895.3,1383.9 1897.6,1386.7 1899.8,1388.6 1902.0,1390.8 1904.3,1393.5 1906.5,1395.8 1908.8,1398.2 1911.0,1400.0 1913.2,1402.2 1915.5,1404.6 1917.7,1406.6 1920.0,1409.8 1922.2,1412.4 1924.4,1414.1 1926.7,1417.3 1928.9,1419.8 1931.2,1420.7 1933.4,1422.1 1935.6,1425.2 1937.9,1428.1 1940.1,1429.8 1942.4,1431.7 1944.6,1433.5 1946.9,1435.8 1949.1,1438.3 1951.3,1440.6 1953.6,1443.0 1955.8,1444.6 1958.1,1446.0 1960.3,1447.9 1962.5,1450.4 1964.8,1453.0 1967.0,1455.0 1969.3,1456.9 1971.5,1459.0 1973.7,1461.2 1976.0,1463.5 1978.2,1466.2 1980.5,1468.6 1982.7,1470.3 1984.9,1472.0 1987.2,1474.1 1989.4,1476.5 1991.7,1478.4 1993.9,1479.9 1996.1,1481.8 1998.4,1483.7 2000.6,1485.7 2002.9,1488.4 2005.1,1490.5 2007.3,1492.4 2009.6,1494.1 2011.8,1495.8 2014.1,1497.9 2016.3,1500.0 2018.5,1502.7 2020.8,1505.1 2023.0,1507.1 2025.3,1508.8 2027.5,1510.5 2029.7,1512.3 2032.0,1514.3 2034.2,1516.5 2036.5,1518.7 2038.7,1520.5 2040.9,1522.6 2043.2,1524.8 2045.4,1526.7 2047.7,1528.4 2049.9,1530.5 2052.2,1532.7 2054.4,1534.2 2056.6,1535.8 2058.9,1538.1 2061.1,1540.0 2063.4,1541.4 2065.6,1543.5 2067.8,1545.5 2070.1,1547.2 2072.3,1548.7 2074.6,1550.5 2076.8,1552.6 2079.0,1554.6 2081.3,1556.3 2083.5,1557.9 2085.8,1560.0 2088.0,1562.0 2090.2,1563.8 2092.5,1565.5 2094.7,1567.2 2097.0,1568.9 2099.2,1570.9 2101.4,1572.7 2103.7,1574.6 2105.9,1576.7 2108.2,1578.2 2110.4,1580.0 2112.6,1582.2 2114.9,1584.3 2117.1,1586.2 2119.4,1587.8 2121.6,1589.9 2123.8,1592.2 2126.1,1594.0 2128.3,1596.0 2130.6,1598.3 2132.8,1600.4 2135.0,1602.6 2137.3,1605.0 2139.5,1607.6 2141.8,1610.3 2144.0,1613.0 2146.2,1615.8 2148.5,1618.6 2150.7,1621.7 2153.0,1625.0 2155.2,1628.7 2157.5,1632.5 2159.7,1637.2 2161.9,1651.7 2161.9,1651.7 2159.7,1637.2 2157.5,1632.6 2155.2,1628.7 2153.0,1625.1 2150.7,1621.8 2148.5,1618.8 2146.2,1615.9 2144.0,1613.1 2141.8,1610.3 2139.5,1607.8 2137.3,1605.4 2135.0,1603.0 2132.8,1600.7 2130.6,1598.5 2128.3,1596.4 2126.1,1594.2 2123.8,1592.2 2121.6,1590.3 2119.4,1588.3 2117.1,1586.5 2114.9,1584.5 2112.6,1582.6 2110.4,1580.7 2108.2,1578.8 2105.9,1577.0 2103.7,1575.2 2101.4,1573.3 2099.2,1571.2 2097.0,1569.5 2094.7,1567.7 2092.5,1565.8 2090.2,1564.0 2088.0,1562.4 2085.8,1560.5 2083.5,1558.7 2081.3,1556.8 2079.0,1555.0 2076.8,1553.1 2074.6,1551.4 2072.3,1549.6 2070.1,1547.9 2067.8,1546.1 2065.6,1544.3 2063.4,1542.5 2061.1,1540.6 2058.9,1538.6 2056.6,1536.8 2054.4,1535.1 2052.2,1533.1 2049.9,1531.2 2047.7,1529.2 2045.4,1527.2 2043.2,1525.3 2040.9,1523.8 2038.7,1521.5 2036.5,1519.5 2034.2,1517.6 2032.0,1515.8 2029.7,1513.9 2027.5,1511.5 2025.3,1509.5 2023.0,1508.0 2020.8,1505.8 2018.5,1503.6 2016.3,1501.6 2014.1,1499.8 2011.8,1497.7 2009.6,1495.9 2007.3,1494.0 2005.1,1491.8 2002.9,1489.9 2000.6,1487.9 1998.4,1486.0 1996.1,1483.6 1993.9,1481.6 1991.7,1479.7 1989.4,1477.7 1987.2,1476.0 1984.9,1473.7 1982.7,1471.8 1980.5,1470.0 1978.2,1467.9 1976.0,1465.8 1973.7,1463.8 1971.5,1461.7 1969.3,1459.6 1967.0,1458.0 1964.8,1455.7 1962.5,1453.5 1960.3,1451.4 1958.1,1449.8 1955.8,1447.7 1953.6,1445.4 1951.3,1443.3 1949.1,1441.6 1946.9,1439.5 1944.6,1437.4 1942.4,1435.6 1940.1,1433.0 1937.9,1430.9 1935.6,1429.2 1933.4,1426.9 1931.2,1424.8 1928.9,1422.3 1926.7,1420.3 1924.4,1418.1 1922.2,1416.1 1920.0,1414.6 1917.7,1411.8 1915.5,1409.4 1913.2,1407.4 1911.0,1405.8 1908.8,1403.0 1906.5,1400.3 1904.3,1398.2 1902.0,1396.0 1899.8,1393.9 1897.6,1391.7 1895.3,1389.9 1893.1,1387.6 1890.8,1385.1 1888.6,1382.9 1886.4,1382.7 1884.1,1380.2 1881.9,1377.2 1879.6,1374.9 1877.4,1373.0 1875.2,1371.7 1872.9,1369.2 1870.7,1366.3 1868.4,1364.6 1866.2,1363.0 1864.0,1361.4 1861.7,1358.6 1859.5,1356.6 1857.2,1354.8 1855.0,1352.6 1852.8,1350.3 1850.5,1347.8 1848.3,1346.0 1846.0,1343.9 1843.8,1341.6 1841.5,1339.2 1839.3,1336.8 1837.1,1335.0 1834.8,1333.1 1832.6,1330.9 1830.3,1327.6 1828.1,1325.1 1825.9,1324.9 1823.6,1322.8 1821.4,1319.3 1819.1,1316.7 1816.9,1314.8 1814.7,1311.9 1812.4,1310.7 1810.2,1308.7 1807.9,1306.1 1805.7,1303.4 1803.5,1302.2 1801.2,1300.5 1799.0,1298.0 1796.7,1295.6 1794.5,1293.6 1792.3,1292.1 1790.0,1289.1 1787.8,1286.1 1785.5,1284.9 1783.3,1282.9 1781.1,1280.1 1778.8,1277.7 1776.6,1275.8 1774.3,1274.2 1772.1,1272.5 1769.9,1269.5 1767.6,1267.6 1765.4,1266.7 1763.1,1266.4 1760.9,1264.3 1758.7,1261.1 1756.4,1259.7 1754.2,1257.8 1751.9,1255.4 1749.7,1253.9 1747.5,1251.1 1745.2,1249.5 1743.0,1248.0 1740.7,1245.4 1738.5,1243.5 1736.2,1242.1 1734.0,1241.1 1731.8,1238.7 1729.5,1236.6 1727.3,1235.9 1725.0,1234.5 1722.8,1233.1 1720.6,1231.6 1718.3,1230.1 1716.1,1228.7 1713.8,1226.8 1711.6,1226.2 1709.4,1224.0 1707.1,1222.1 1704.9,1220.8 1702.6,1217.9 1700.4,1215.5 1698.2,1214.7 1695.9,1213.8 1693.7,1211.7 1691.4,1210.4 1689.2,1207.8 1687.0,1204.4 1684.7,1203.0 1682.5,1201.9 1680.2,1201.0 1678.0,1197.9 1675.8,1194.8 1673.5,1192.3 1671.3,1190.6 1669.0,1188.6 1666.8,1187.4 1664.6,1184.9 1662.3,1184.3 1660.1,1183.3 1657.8,1180.1 1655.6,1178.5 1653.4,1176.0 1651.1,1174.9 1648.9,1173.1 1646.6,1170.8 1644.4,1170.0 1642.2,1168.6 1639.9,1166.8 1637.7,1167.0 1635.4,1164.1 1633.2,1159.5 1630.9,1159.1 1628.7,1158.7 1626.5,1158.6 1624.2,1156.2 1622.0,1153.2 1619.7,1152.1 1617.5,1150.1 1615.3,1148.2 1613.0,1145.3 1610.8,1145.0 1608.5,1145.0 1606.3,1142.3 1604.1,1141.8 1601.8,1139.7 1599.6,1137.1 1597.3,1137.4 1595.1,1134.8 1592.9,1131.6 1590.6,1130.1 1588.4,1129.1 1586.1,1127.2 1583.9,1124.4 1581.7,1123.5 1579.4,1122.3 1577.2,1120.2 1574.9,1120.3 1572.7,1118.6 1570.5,1114.3 1568.2,1112.7 1566.0,1111.9 1563.7,1110.0 1561.5,1109.6 1559.3,1108.6 1557.0,1105.3 1554.8,1104.1 1552.5,1104.1 1550.3,1103.2 1548.1,1101.5 1545.8,1098.7 1543.6,1096.7 1541.3,1095.3 1539.1,1093.8 1536.9,1093.7 1534.6,1091.9 1532.4,1089.0 1530.1,1086.9 1527.9,1087.2 1525.6,1087.5 1523.4,1085.8 1521.2,1083.2 1518.9,1081.7 1516.7,1081.2 1514.4,1079.6 1512.2,1077.3 1510.0,1076.7 1507.7,1075.0 1505.5,1073.0 1503.2,1073.5 1501.0,1072.4 1498.8,1071.5 1496.5,1068.8 1494.3,1067.1 1492.0,1066.9 1489.8,1064.7 1487.6,1062.8 1485.3,1063.2 1483.1,1061.1 1480.8,1059.5 1478.6,1057.6 1476.4,1057.2 1474.1,1056.3 1471.9,1054.1 1469.6,1052.9 1467.4,1052.3 1465.2,1051.6 1462.9,1048.6 1460.7,1047.5 1458.4,1047.9 1456.2,1045.5 1454.0,1044.9 1451.7,1043.2 1449.5,1042.7 1447.2,1042.6 1445.0,1041.8 1442.8,1039.8 1440.5,1037.9 1438.3,1038.3 1436.0,1036.9 1433.8,1036.4 1431.5,1036.0 1429.3,1035.4 1427.1,1032.5 1424.8,1031.1 1422.6,1030.0 1420.3,1027.4 1418.1,1027.1 1415.9,1026.1 1413.6,1022.9 1411.4,1021.8 1409.1,1023.2 1406.9,1023.2 1404.7,1020.9 1402.4,1019.7 1400.2,1017.9 1397.9,1017.4 1395.7,1017.0 1393.5,1016.0 1391.2,1014.7 1389.0,1012.3 1386.7,1011.3 1384.5,1010.6 1382.3,1009.7 1380.0,1008.4 1377.8,1006.4 1375.5,1004.9 1373.3,1003.8 1371.1,1003.0 1368.8,1003.5 1366.6,1003.1 1364.3,1002.0 1362.1,998.7 1359.9,999.0 1357.6,1000.3 1355.4,997.8 1353.1,996.3 1350.9,994.7 1348.7,993.0 1346.4,993.4 1344.2,993.5 1341.9,992.9 1339.7,992.5 1337.5,993.3 1335.2,992.5 1333.0,990.9 1330.7,992.2 1328.5,991.9 1326.2,988.8 1324.0,986.8 1321.8,985.4 1319.5,985.5 1317.3,986.1 1315.0,986.1 1312.8,985.2 1310.6,982.4 1308.3,979.8 1306.1,979.2 1303.8,979.4 1301.6,977.8 1299.4,978.8 1297.1,979.2 1294.9,976.5 1292.6,974.7 1290.4,974.1 1288.2,972.8 1285.9,973.4 1283.7,973.0 1281.4,971.0 1279.2,971.7 1277.0,969.0 1274.7,967.9 1272.5,969.1 1270.2,967.5 1268.0,966.2 1265.8,967.5 1263.5,969.3 1261.3,966.4 1259.0,962.7 1256.8,962.0 1254.6,963.3 1252.3,962.9 1250.1,962.8 1247.8,962.4 1245.6,959.8 1243.4,959.7 1241.1,958.9 1238.9,958.1 1236.6,959.0 1234.4,958.4 1232.2,953.6 1229.9,952.1 1227.7,952.7 1225.4,952.8 1223.2,953.3 1220.9,953.2 1218.7,952.0 1216.5,950.0 1214.2,947.5 1212.0,948.6 1209.7,951.2 1207.5,951.1 1205.3,950.7 1203.0,951.6 1200.8,952.7 1198.5,951.2 1196.3,948.6 1194.1,946.4 1191.8,946.5 1189.6,949.2 1187.3,947.8 1185.1,945.7 1182.9,946.0 1180.6,945.8 1178.4,944.3 1176.1,943.9 1173.9,944.1 1171.7,943.1 1169.4,942.0 1167.2,942.1 1164.9,940.5 1162.7,940.7 1160.5,942.7 1158.2,942.6 1156.0,942.0 1153.7,940.6 1151.5,941.2 1149.3,942.3 1147.0,940.5 1144.8,938.2 1142.5,938.5 1140.3,938.8 1138.1,938.2 1135.8,939.8 1133.6,940.8 1131.3,942.3 1129.1,940.1 1126.9,940.3 1124.6,942.0 1122.4,940.1 1120.1,938.8 1117.9,937.9 1115.6,940.0 1113.4,941.6 1111.2,943.0 1108.9,943.8 1106.7,943.5 1104.4,943.1 1102.2,940.9 1100.0,940.4 1097.7,939.2 1095.5,938.0 1093.2,940.5 1091.0,940.8 1088.8,939.3 1086.5,937.6 1084.3,936.3 1082.0,937.0 1079.8,939.1 1077.6,938.8 1075.3,934.6 1073.1,932.9 1070.8,934.3 1068.6,935.6 1066.4,934.3 1064.1,937.2 1061.9,938.6 1059.6,933.3 1057.4,932.7 1055.2,935.8 1052.9,936.6 1050.7,934.8 1048.4,934.7 1046.2,933.5 1044.0,935.5 1041.7,937.0 1039.5,936.6 1037.2,935.4 1035.0,936.1 1032.8,942.1 1030.5,941.9 1028.3,938.2 1026.0,935.9 1023.8,937.4 1021.6,938.3 1019.3,940.1 1017.1,941.5 1014.8,938.9 1012.6,937.9 1010.3,940.5 1008.1,944.5 1005.9,948.2 1003.6,945.8 1001.4,945.2 999.1,947.3 996.9,947.5 994.7,948.4 992.4,948.9 990.2,949.3 987.9,952.5 985.7,953.9 983.5,954.0 981.2,956.1 979.0,952.4 976.7,950.1 974.5,953.0 972.3,953.0 970.0,950.7 967.8,947.0 965.5,951.4 963.3,954.2 961.1,953.0 958.8,951.7 956.6,952.4 954.3,953.3 952.1,954.6 949.9,955.9 947.6,952.8 945.4,952.2 943.1,953.7 940.9,954.6 938.7,956.6 936.4,959.5 934.2,960.0 931.9,957.9 929.7,955.5 927.5,955.7 925.2,955.9 923.0,954.3 920.7,953.6 918.5,954.8 916.2,956.1 914.0,962.5 911.8,967.2 909.5,969.9 907.3,971.0 905.0,968.7 902.8,968.4 900.6,970.0 898.3,973.2 896.1,973.6 893.8,970.6 891.6,969.8 889.4,973.0 887.1,974.9 884.9,974.8 882.6,972.2 880.4,971.0 878.2,974.1 875.9,975.9 873.7,977.5 871.4,978.8 869.2,980.6 867.0,983.6 864.7,981.5 862.5,981.6 860.2,985.5 858.0,984.1 855.8,983.3 853.5,986.5 851.3,992.8 849.0,995.6 846.8,998.2 844.6,999.9 842.3,996.7 840.1,995.7 837.8,997.2 835.6,998.0 833.4,1000.2 831.1,998.5 828.9,998.8 826.6,1002.7 824.4,1004.9 822.2,1007.3 819.9,1009.4 817.7,1006.0 815.4,1006.2 813.2,1011.5 810.9,1013.2 808.7,1010.8 806.5,1010.9 804.2,1013.3 802.0,1014.6 799.7,1016.4 797.5,1016.1 795.3,1013.4 793.0,1013.2 790.8,1013.3 788.5,1013.2 786.3,1015.8 784.1,1017.7 781.8,1018.3 779.6,1016.9 777.3,1015.1 775.1,1017.5 772.9,1020.9 770.6,1026.1 768.4,1027.0 766.1,1024.8 763.9,1024.0 761.7,1028.1 759.4,1031.0 757.2,1028.9 754.9,1030.7 752.7,1035.6 750.5,1039.3 748.2,1037.1 746.0,1036.3 743.7,1041.4 741.5,1045.9 739.3,1046.5 737.0,1050.2 734.8,1052.9 732.5,1055.1 730.3,1058.8 728.1,1059.3 725.8,1062.6 723.6,1064.2 721.3,1066.1 719.1,1066.3 716.9,1065.0 714.6,1063.1 712.4,1064.0 710.1,1066.1 707.9,1067.4 705.6,1068.5 703.4,1071.1 701.2,1073.6 698.9,1073.0 696.7,1073.6 694.4,1075.1 692.2,1080.0 690.0,1085.1 687.7,1088.2 685.5,1090.0 683.2,1093.1 681.0,1096.5 678.8,1101.8 676.5,1104.2 674.3,1102.3 672.0,1103.6 669.8,1105.5 667.6,1106.1 665.3,1111.8 663.1,1117.1 660.8,1120.2 658.6,1122.9 656.4,1125.4 654.1,1128.8 651.9,1132.8 649.6,1135.6 647.4,1137.8 645.2,1140.6 642.9,1144.7 640.7,1150.1 638.4,1153.1 636.2,1155.1 634.0,1158.5 631.7,1163.1 629.5,1165.3 627.2,1168.9 625.0,1172.6 622.8,1172.6 620.5,1175.5 618.3,1180.4 616.0,1187.5 613.8,1193.4 611.6,1198.5 609.3,1206.1 607.1,1213.2 604.8,1216.0 602.6,1218.7 600.3,1220.0 598.1,1225.0 595.9,1226.8 593.6,1224.9 591.4,1225.6 589.1,1231.1 586.9,1234.9 584.7,1233.2 582.4,1233.0 580.2,1236.9 577.9,1240.4 575.7,1246.9 573.5,1248.0 571.2,1251.1 569.0,1254.9 566.7,1254.4 564.5,1258.8 562.3,1262.2 560.0,1268.8 557.8,1275.7 555.5,1280.5 553.3,1284.4 551.1,1295.9 548.8,1307.3 546.6,1310.0 544.3,1317.2 542.1,1322.0 539.9,1325.8 537.6,1330.7 535.4,1333.6 533.1,1339.6 530.9,1341.0 528.7,1342.9 526.4,1350.5 524.2,1356.2 521.9,1361.4 519.7,1365.2 517.5,1365.6 515.2,1369.1 513.0,1378.7 510.7,1392.4 508.5,1403.7 506.2,1409.1 505.8,1411.3 505.4,1410.1 505.0,1411.2 504.6,1411.1 504.2,1409.6 503.8,1411.9 503.4,1411.0 503.0,1413.2 502.6,1413.0 502.2,1414.3 501.8,1414.2 501.4,1415.0 500.9,1417.8 500.5,1417.8 500.1,1417.4 499.7,1419.0 499.3,1422.5 498.9,1420.5 498.5,1420.8 498.1,1421.8 497.7,1423.5 497.3,1421.4 496.9,1421.0 496.5,1421.7 496.0,1420.5 495.6,1419.8 495.2,1420.6 494.8,1422.4 494.4,1423.3 494.0,1424.1 493.6,1428.5 493.2,1430.4 492.8,1433.0 492.4,1432.8 492.0,1431.2 491.6,1433.0 491.2,1432.8 490.7,1432.8 490.3,1433.0 489.9,1433.2 489.5,1435.2 489.1,1436.2 488.7,1434.8 488.3,1436.3 487.9,1436.3 487.5,1438.5 487.1,1439.6 486.7,1444.0 486.3,1446.1 485.8,1447.5 485.4,1449.8 485.0,1451.3 484.6,1453.7 484.2,1449.8 483.8,1451.7 483.4,1451.7 483.0,1451.0 482.6,1453.6 482.2,1456.1 481.8,1460.9 481.4,1463.6 481.0,1464.5 480.5,1465.8 480.1,1465.7 479.7,1464.3 479.3,1462.7 478.9,1465.0 478.5,1465.9 478.1,1465.4 477.7,1466.9 477.3,1468.3 476.9,1468.5 476.5,1467.7 476.1,1467.9 475.6,1469.5 475.2,1469.8 474.8,1470.6 474.4,1472.3 474.0,1472.0 473.6,1472.4 473.2,1472.4 472.8,1473.7 472.4,1474.1 472.0,1475.2 471.6,1474.2 471.2,1476.1 470.8,1479.9 470.3,1481.2 469.9,1482.9 469.5,1484.2 469.1,1486.6 468.7,1485.1 468.3,1485.7 467.9,1485.1 467.5,1486.3 467.1,1487.9 466.7,1491.6 466.3,1494.1 465.9,1493.1 465.4,1493.8 465.0,1494.4 464.6,1495.2 464.2,1492.7 463.8,1495.2 463.4,1498.7 463.0,1501.1 462.6,1501.3 462.2,1503.4 461.8,1505.4 461.4,1505.6 461.0,1504.3 460.5,1504.0 460.1,1506.5 459.7,1504.9 459.3,1504.6 458.9,1505.8 458.5,1509.5 458.1,1512.0 457.7,1510.7 457.3,1511.4 456.9,1512.0 456.5,1511.6 456.1,1512.4 455.7,1514.2 455.2,1519.4 454.8,1522.5 454.4,1527.6 454.0,1531.8 453.6,1531.7 453.2,1534.5 452.8,1533.9 452.4,1535.8 452.0,1535.9 451.6,1538.4 451.2,1540.4 450.8,1539.2 450.3,1540.3 449.9,1538.6 449.5,1537.1 449.1,1537.9 448.7,1538.2 448.3,1539.6 447.9,1542.3 447.5,1544.6 447.1,1545.6 446.7,1545.3 446.3,1545.5 445.9,1543.7 445.5,1544.1 445.0,1547.4 444.6,1548.3 444.2,1548.0 443.8,1549.2 443.4,1550.3 443.0,1549.4 442.6,1546.2 442.2,1548.1 441.8,1548.7 441.4,1550.2 441.0,1554.7 440.6,1559.1 440.1,1560.4 439.7,1562.7 439.3,1562.8 438.9,1565.9 438.5,1568.3 438.1,1568.0 437.7,1572.7 437.3,1574.4 436.9,1578.9 436.5,1580.4 436.1,1579.3 435.7,1583.0 435.3,1585.4 434.8,1588.2 434.4,1590.3 434.0,1592.1 433.6,1595.9 433.2,1597.5 432.8,1599.6 432.4,1599.0 432.0,1601.9 431.6,1606.1 431.2,1606.7 430.8,1608.2 430.4,1607.8 429.9,1609.3 429.5,1611.3 429.1,1612.2 428.7,1616.0 428.3,1618.5 427.9,1621.7 427.5,1627.3 427.1,1629.7 426.7,1630.2 426.3,1633.2 425.9,1635.9 425.5,1640.2 425.1,1641.8 424.6,1644.6 424.2,1651.6 423.8,1654.6 423.4,1656.1 423.0,1658.6 422.6,1662.5 422.2,1667.1 421.8,1668.5 421.4,1670.4 421.0,1676.5 420.6,1678.2 420.2,1682.5 419.7,1684.3 419.3,1686.7 418.9,1688.0 418.5,1686.9 418.1,1689.9 417.7,1688.8 417.3,1688.9 416.9,1690.2 416.5,1690.9 416.1,1690.7 415.7,1690.4 415.3,1691.4 414.8,1692.1 414.4,1694.5 414.0,1697.2 413.6,1701.3 413.2,1703.9 412.8,1707.2 412.4,1711.4 412.0,1711.1 411.6,1710.9 411.2,1712.6 410.8,1714.5 410.4,1716.1 410.0,1714.2 409.5,1711.9 409.1,1715.6 408.7,1715.7 408.3,1718.4 407.9,1719.1 407.5,1723.8 407.1,1727.6 406.7,1730.1 406.3,1732.2 405.9,1730.8 405.5,1732.3 405.1,1734.6 404.6,1737.7 404.2,1740.8 403.8,1743.7 403.4,1748.1 403.0,1752.3 402.6,1755.8 402.2,1760.1 401.8,1764.7 401.4,1769.8 401.0,1774.9 400.6,1780.0" fill="#77ab5d" fill-opacity="0.3" stroke="#77ab5d" stroke-opacity="0.3" stroke-width="3.47" stroke-linejoin="miter"/>
<polygon points="400.6,1780.0 401.0,1775.0 401.4,1770.2 401.8,1765.6 402.2,1761.4 402.6,1757.5 403.0,1754.1 403.4,1751.0 403.8,1748.1 404.2,1745.7 404.6,1743.2 405.1,1741.0 405.5,1738.7 405.9,1737.0 406.3,1735.3 406.7,1733.0 407.1,1731.9 407.5,1730.4 407.9,1728.9 408.3,1727.4 408.7,1725.4 409.1,1724.7 409.5,1723.1 410.0,1721.7 410.4,1720.5 410.8,1719.4 411.2,1718.8 411.6,1717.7 412.0,1716.6 412.4,1715.4 412.8,1714.0 413.2,1713.2 413.6,1712.0 414.0,1710.8 414.4,1709.7 414.8,1709.0 415.3,1707.9 415.7,1706.2 416.1,1704.8 416.5,1703.7 416.9,1703.0 417.3,1701.6 417.7,1701.0 418.1,1700.0 418.5,1699.1 418.9,1698.0 419.3,1696.3 419.7,1695.3 420.2,1694.5 420.6,1693.4 421.0,1692.2 421.4,1691.6 421.8,1690.8 422.2,1690.0 422.6,1689.0 423.0,1688.2 423.4,1687.1 423.8,1686.0 424.2,1685.1 424.6,1684.0 425.1,1683.0 425.5,1682.3 425.9,1682.1 426.3,1681.2 426.7,1680.3 427.1,1679.5 427.5,1678.9 427.9,1678.1 428.3,1677.0 428.7,1676.5 429.1,1675.2 429.5,1674.3 429.9,1673.4 430.4,1672.4 430.8,1671.5 431.2,1670.8 431.6,1670.3 432.0,1669.3 432.4,1668.6 432.8,1668.1 433.2,1667.6 433.6,1666.4 434.0,1665.2 434.4,1664.6 434.8,1663.8 435.3,1662.7 435.7,1661.6 436.1,1660.5 436.5,1660.2 436.9,1659.5 437.3,1658.6 437.7,1658.1 438.1,1657.4 438.5,1657.2 438.9,1656.5 439.3,1655.5 439.7,1654.5 440.1,1653.5 440.6,1652.0 441.0,1650.9 441.4,1649.6 441.8,1648.5 442.2,1647.6 442.6,1646.2 443.0,1646.0 443.4,1644.9 443.8,1644.1 444.2,1643.5 444.6,1642.5 445.0,1641.9 445.5,1640.6 445.9,1639.9 446.3,1639.0 446.7,1638.1 447.1,1637.1 447.5,1636.6 447.9,1635.3 448.3,1634.4 448.7,1633.6 449.1,1632.8 449.5,1632.5 449.9,1631.7 450.3,1631.4 450.8,1631.0 451.2,1630.7 451.6,1629.7 452.0,1628.9 452.4,1628.1 452.8,1627.3 453.2,1626.4 453.6,1625.6 454.0,1624.8 454.4,1624.3 454.8,1623.5 455.2,1623.0 455.7,1622.2 456.1,1621.2 456.5,1620.9 456.9,1619.7 457.3,1619.2 457.7,1618.3 458.1,1617.4 458.5,1616.2 458.9,1615.2 459.3,1614.9 459.7,1614.1 460.1,1613.6 460.5,1612.9 461.0,1612.7 461.4,1612.0 461.8,1610.9 462.2,1610.2 462.6,1609.4 463.0,1608.9 463.4,1608.3 463.8,1607.3 464.2,1606.7 464.6,1606.0 465.0,1605.1 465.4,1604.6 465.9,1603.6 466.3,1602.8 466.7,1602.2 467.1,1601.4 467.5,1600.8 467.9,1599.6 468.3,1599.5 468.7,1599.1 469.1,1598.9 469.5,1598.4 469.9,1597.8 470.3,1597.0 470.8,1596.0 471.2,1595.3 471.6,1594.0 472.0,1592.7 472.4,1592.0 472.8,1591.6 473.2,1590.8 473.6,1590.0 474.0,1589.6 474.4,1589.0 474.8,1588.3 475.2,1587.2 475.6,1586.3 476.1,1585.8 476.5,1584.8 476.9,1584.6 477.3,1583.7 477.7,1583.3 478.1,1582.6 478.5,1581.9 478.9,1581.3 479.3,1580.5 479.7,1579.8 480.1,1579.3 480.5,1578.8 481.0,1577.7 481.4,1577.1 481.8,1576.5 482.2,1576.0 482.6,1575.2 483.0,1574.6 483.4,1574.4 483.8,1573.4 484.2,1572.8 484.6,1571.8 485.0,1571.4 485.4,1570.3 485.8,1569.8 486.3,1569.0 486.7,1568.2 487.1,1568.1 487.5,1567.2 487.9,1566.9 488.3,1565.9 488.7,1565.6 489.1,1564.8 489.5,1564.0 489.9,1563.8 490.3,1563.3 490.7,1562.6 491.2,1562.2 491.6,1561.5 492.0,1560.3 492.4,1559.3 492.8,1558.3 493.2,1558.1 493.6,1557.7 494.0,1557.5 494.4,1557.0 494.8,1556.5 495.2,1556.1 495.6,1555.4 496.0,1554.8 496.5,1554.3 496.9,1554.0 497.3,1553.5 497.7,1553.4 498.1,1553.3 498.5,1552.6 498.9,1551.9 499.3,1551.4 499.7,1551.2 500.1,1550.6 500.5,1550.1 500.9,1549.6 501.4,1549.2 501.8,1549.0 502.2,1548.7 502.6,1548.1 503.0,1547.4 503.4,1547.0 503.8,1546.3 504.2,1546.0 504.6,1544.9 505.0,1544.6 505.4,1543.4 505.8,1542.6 506.2,1541.8 508.5,1539.4 510.7,1537.7 513.0,1535.6 515.2,1533.2 517.5,1530.1 519.7,1526.8 521.9,1523.7 524.2,1521.6 526.4,1519.8 528.7,1517.1 530.9,1515.8 533.1,1513.7 535.4,1511.3 537.6,1509.2 539.9,1507.5 542.1,1506.5 544.3,1503.7 546.6,1501.0 548.8,1498.8 551.1,1496.1 553.3,1494.6 555.5,1493.0 557.8,1490.8 560.0,1488.6 562.3,1486.2 564.5,1484.7 566.7,1482.6 569.0,1480.6 571.2,1479.4 573.5,1477.7 575.7,1475.5 577.9,1473.3 580.2,1470.3 582.4,1469.2 584.7,1467.3 586.9,1463.2 589.1,1459.8 591.4,1458.7 593.6,1456.4 595.9,1453.6 598.1,1451.0 600.3,1448.2 602.6,1447.0 604.8,1445.5 607.1,1442.8 609.3,1441.6 611.6,1439.2 613.8,1435.8 616.0,1433.9 618.3,1432.2 620.5,1430.2 622.8,1428.5 625.0,1425.3 627.2,1422.8 629.5,1420.4 631.7,1417.6 634.0,1416.3 636.2,1414.6 638.4,1412.7 640.7,1411.7 642.9,1409.7 645.2,1407.4 647.4,1404.8 649.6,1402.4 651.9,1401.1 654.1,1398.8 656.4,1396.5 658.6,1394.7 660.8,1392.7 663.1,1391.6 665.3,1390.6 667.6,1389.0 669.8,1387.1 672.0,1385.4 674.3,1384.3 676.5,1384.4 678.8,1383.2 681.0,1380.7 683.2,1378.7 685.5,1377.8 687.7,1376.4 690.0,1374.7 692.2,1373.9 694.4,1373.7 696.7,1372.0 698.9,1369.3 701.2,1368.1 703.4,1367.1 705.6,1365.2 707.9,1363.7 710.1,1363.2 712.4,1362.0 714.6,1360.1 716.9,1359.2 719.1,1357.9 721.3,1356.3 723.6,1355.9 725.8,1353.7 728.1,1351.9 730.3,1351.0 732.5,1349.7 734.8,1349.3 737.0,1348.8 739.3,1347.3 741.5,1345.9 743.7,1344.2 746.0,1342.4 748.2,1341.3 750.5,1340.0 752.7,1338.7 754.9,1336.5 757.2,1335.9 759.4,1334.9 761.7,1332.9 763.9,1332.7 766.1,1331.5 768.4,1329.8 770.6,1329.5 772.9,1328.8 775.1,1326.8 777.3,1326.1 779.6,1324.1 781.8,1321.7 784.1,1321.3 786.3,1320.5 788.5,1319.6 790.8,1319.1 793.0,1317.7 795.3,1316.1 797.5,1316.3 799.7,1315.4 802.0,1314.2 804.2,1314.0 806.5,1312.7 808.7,1311.6 810.9,1311.0 813.2,1309.5 815.4,1309.1 817.7,1310.0 819.9,1309.5 822.2,1307.1 824.4,1305.7 826.6,1306.1 828.9,1305.3 831.1,1303.0 833.4,1302.1 835.6,1300.5 837.8,1299.6 840.1,1299.3 842.3,1298.0 844.6,1296.7 846.8,1296.8 849.0,1297.4 851.3,1297.1 853.5,1295.3 855.8,1294.2 858.0,1293.9 860.2,1293.7 862.5,1292.6 864.7,1291.1 867.0,1290.8 869.2,1290.3 871.4,1289.5 873.7,1289.2 875.9,1287.9 878.2,1286.6 880.4,1286.5 882.6,1286.4 884.9,1285.3 887.1,1284.2 889.4,1283.5 891.6,1282.8 893.8,1282.5 896.1,1282.1 898.3,1281.3 900.6,1281.0 902.8,1280.6 905.0,1280.4 907.3,1280.6 909.5,1279.9 911.8,1278.3 914.0,1277.5 916.2,1277.2 918.5,1276.9 920.7,1276.7 923.0,1276.0 925.2,1274.7 927.5,1274.6 929.7,1274.2 931.9,1273.0 934.2,1271.9 936.4,1271.8 938.7,1271.4 940.9,1270.1 943.1,1269.3 945.4,1268.9 947.6,1267.6 949.9,1267.2 952.1,1266.1 954.3,1266.0 956.6,1265.8 958.8,1264.8 961.1,1264.3 963.3,1264.1 965.5,1263.9 967.8,1263.3 970.0,1262.3 972.3,1261.1 974.5,1260.6 976.7,1260.7 979.0,1260.6 981.2,1259.1 983.5,1258.9 985.7,1258.9 987.9,1257.8 990.2,1257.6 992.4,1257.3 994.7,1257.1 996.9,1257.3 999.1,1257.9 1001.4,1257.4 1003.6,1256.6 1005.9,1255.5 1008.1,1255.1 1010.3,1255.2 1012.6,1254.9 1014.8,1254.7 1017.1,1254.0 1019.3,1253.5 1021.6,1253.1 1023.8,1253.3 1026.0,1253.1 1028.3,1251.8 1030.5,1252.0 1032.8,1252.9 1035.0,1252.6 1037.2,1251.7 1039.5,1252.3 1041.7,1252.2 1044.0,1251.6 1046.2,1252.2 1048.4,1252.5 1050.7,1251.4 1052.9,1251.3 1055.2,1251.3 1057.4,1250.8 1059.6,1251.3 1061.9,1250.9 1064.1,1250.1 1066.4,1250.2 1068.6,1250.9 1070.8,1251.3 1073.1,1251.2 1075.3,1250.9 1077.6,1250.5 1079.8,1250.2 1082.0,1249.9 1084.3,1249.6 1086.5,1249.3 1088.8,1249.1 1091.0,1248.9 1093.2,1248.6 1095.5,1248.9 1097.7,1249.4 1100.0,1248.8 1102.2,1248.8 1104.4,1249.0 1106.7,1248.0 1108.9,1247.7 1111.2,1248.1 1113.4,1248.0 1115.6,1247.5 1117.9,1247.1 1120.1,1247.2 1122.4,1246.8 1124.6,1245.5 1126.9,1245.1 1129.1,1246.4 1131.3,1246.8 1133.6,1246.0 1135.8,1245.3 1138.1,1244.9 1140.3,1245.5 1142.5,1245.7 1144.8,1245.3 1147.0,1245.2 1149.3,1245.1 1151.5,1245.2 1153.7,1245.4 1156.0,1244.5 1158.2,1244.9 1160.5,1245.6 1162.7,1245.6 1164.9,1245.6 1167.2,1245.4 1169.4,1246.1 1171.7,1246.8 1173.9,1246.7 1176.1,1246.2 1178.4,1247.3 1180.6,1248.2 1182.9,1247.8 1185.1,1247.2 1187.3,1246.8 1189.6,1247.0 1191.8,1248.3 1194.1,1248.1 1196.3,1247.8 1198.5,1248.5 1200.8,1248.5 1203.0,1248.5 1205.3,1248.4 1207.5,1248.7 1209.7,1248.5 1212.0,1248.7 1214.2,1249.0 1216.5,1249.0 1218.7,1249.4 1220.9,1249.3 1223.2,1249.4 1225.4,1249.7 1227.7,1249.1 1229.9,1249.1 1232.2,1249.8 1234.4,1250.6 1236.6,1251.2 1238.9,1251.6 1241.1,1252.1 1243.4,1251.9 1245.6,1252.0 1247.8,1252.3 1250.1,1252.7 1252.3,1252.5 1254.6,1252.2 1256.8,1253.0 1259.0,1254.0 1261.3,1254.1 1263.5,1253.7 1265.8,1253.5 1268.0,1253.3 1270.2,1253.6 1272.5,1254.7 1274.7,1255.0 1277.0,1255.4 1279.2,1255.9 1281.4,1256.0 1283.7,1256.0 1285.9,1256.9 1288.2,1257.1 1290.4,1257.0 1292.6,1258.0 1294.9,1258.2 1297.1,1257.6 1299.4,1258.1 1301.6,1259.3 1303.8,1259.2 1306.1,1259.1 1308.3,1260.8 1310.6,1261.2 1312.8,1261.6 1315.0,1262.2 1317.3,1263.2 1319.5,1263.4 1321.8,1264.0 1324.0,1264.1 1326.2,1264.0 1328.5,1265.2 1330.7,1265.9 1333.0,1266.2 1335.2,1266.7 1337.5,1267.2 1339.7,1267.2 1341.9,1266.8 1344.2,1267.4 1346.4,1268.5 1348.7,1269.7 1350.9,1270.1 1353.1,1270.2 1355.4,1271.4 1357.6,1271.5 1359.9,1271.5 1362.1,1272.4 1364.3,1272.5 1366.6,1272.7 1368.8,1273.6 1371.1,1273.6 1373.3,1274.0 1375.5,1274.7 1377.8,1275.4 1380.0,1275.8 1382.3,1276.1 1384.5,1276.5 1386.7,1276.3 1389.0,1276.7 1391.2,1277.6 1393.5,1278.2 1395.7,1278.4 1397.9,1278.9 1400.2,1279.6 1402.4,1279.7 1404.7,1280.2 1406.9,1280.9 1409.1,1281.9 1411.4,1282.5 1413.6,1282.1 1415.9,1283.1 1418.1,1283.9 1420.3,1284.2 1422.6,1284.7 1424.8,1284.6 1427.1,1284.9 1429.3,1286.4 1431.5,1287.5 1433.8,1287.7 1436.0,1287.6 1438.3,1287.9 1440.5,1288.8 1442.8,1289.7 1445.0,1290.2 1447.2,1290.7 1449.5,1291.5 1451.7,1292.6 1454.0,1293.3 1456.2,1293.6 1458.4,1294.3 1460.7,1294.4 1462.9,1294.5 1465.2,1295.7 1467.4,1296.9 1469.6,1297.5 1471.9,1297.8 1474.1,1298.7 1476.4,1300.0 1478.6,1300.5 1480.8,1301.1 1483.1,1302.2 1485.3,1303.0 1487.6,1303.6 1489.8,1304.2 1492.0,1304.4 1494.3,1305.4 1496.5,1306.8 1498.8,1306.9 1501.0,1308.3 1503.2,1309.2 1505.5,1309.1 1507.7,1309.9 1510.0,1311.1 1512.2,1312.1 1514.4,1312.3 1516.7,1313.0 1518.9,1314.4 1521.2,1315.3 1523.4,1316.1 1525.6,1316.5 1527.9,1317.3 1530.1,1318.6 1532.4,1319.3 1534.6,1320.7 1536.9,1321.8 1539.1,1322.4 1541.3,1323.0 1543.6,1323.2 1545.8,1324.5 1548.1,1326.0 1550.3,1326.8 1552.5,1327.0 1554.8,1327.8 1557.0,1328.9 1559.3,1329.6 1561.5,1330.9 1563.7,1331.5 1566.0,1332.0 1568.2,1333.4 1570.5,1334.3 1572.7,1334.9 1574.9,1335.8 1577.2,1336.9 1579.4,1337.6 1581.7,1338.9 1583.9,1340.4 1586.1,1340.6 1588.4,1341.0 1590.6,1342.3 1592.9,1343.7 1595.1,1344.3 1597.3,1345.4 1599.6,1346.3 1601.8,1347.0 1604.1,1347.7 1606.3,1348.7 1608.5,1349.9 1610.8,1350.8 1613.0,1352.1 1615.3,1353.1 1617.5,1353.9 1619.7,1355.2 1622.0,1356.0 1624.2,1357.0 1626.5,1358.3 1628.7,1359.4 1630.9,1360.1 1633.2,1360.9 1635.4,1362.7 1637.7,1364.0 1639.9,1364.6 1642.2,1365.5 1644.4,1366.5 1646.6,1367.2 1648.9,1368.4 1651.1,1369.6 1653.4,1370.8 1655.6,1372.4 1657.8,1373.1 1660.1,1374.1 1662.3,1375.3 1664.6,1376.6 1666.8,1377.9 1669.0,1378.3 1671.3,1379.1 1673.5,1380.6 1675.8,1381.6 1678.0,1382.7 1680.2,1383.6 1682.5,1384.5 1684.7,1385.6 1687.0,1386.7 1689.2,1387.5 1691.4,1389.1 1693.7,1390.5 1695.9,1391.5 1698.2,1392.3 1700.4,1393.3 1702.6,1394.2 1704.9,1395.4 1707.1,1396.7 1709.4,1397.7 1711.6,1398.8 1713.8,1400.0 1716.1,1400.8 1718.3,1401.9 1720.6,1403.1 1722.8,1404.1 1725.0,1405.3 1727.3,1406.3 1729.5,1407.1 1731.8,1408.3 1734.0,1409.5 1736.2,1410.0 1738.5,1410.8 1740.7,1412.1 1743.0,1413.3 1745.2,1414.3 1747.5,1415.6 1749.7,1417.0 1751.9,1417.6 1754.2,1418.5 1756.4,1419.8 1758.7,1420.9 1760.9,1422.0 1763.1,1422.9 1765.4,1424.4 1767.6,1425.4 1769.9,1426.3 1772.1,1428.2 1774.3,1429.3 1776.6,1430.4 1778.8,1431.6 1781.1,1432.6 1783.3,1434.0 1785.5,1435.1 1787.8,1436.5 1790.0,1437.7 1792.3,1438.5 1794.5,1440.0 1796.7,1441.5 1799.0,1442.8 1801.2,1443.9 1803.5,1445.5 1805.7,1447.1 1807.9,1448.1 1810.2,1449.2 1812.4,1450.9 1814.7,1452.5 1816.9,1453.5 1819.1,1454.9 1821.4,1456.6 1823.6,1458.1 1825.9,1459.2 1828.1,1460.3 1830.3,1461.7 1832.6,1463.1 1834.8,1464.1 1837.1,1465.4 1839.3,1466.6 1841.5,1468.0 1843.8,1469.4 1846.0,1470.5 1848.3,1471.9 1850.5,1473.1 1852.8,1474.1 1855.0,1475.5 1857.2,1476.8 1859.5,1478.1 1861.7,1479.1 1864.0,1480.2 1866.2,1481.5 1868.4,1482.6 1870.7,1484.0 1872.9,1485.5 1875.2,1486.7 1877.4,1487.9 1879.6,1488.9 1881.9,1489.9 1884.1,1491.0 1886.4,1492.3 1888.6,1493.7 1890.8,1495.1 1893.1,1496.3 1895.3,1497.4 1897.6,1498.8 1899.8,1500.0 1902.0,1501.3 1904.3,1502.4 1906.5,1503.4 1908.8,1504.5 1911.0,1505.6 1913.2,1506.9 1915.5,1508.1 1917.7,1509.3 1920.0,1510.6 1922.2,1511.9 1924.4,1513.1 1926.7,1514.3 1928.9,1515.2 1931.2,1516.4 1933.4,1517.7 1935.6,1519.2 1937.9,1520.5 1940.1,1521.7 1942.4,1522.9 1944.6,1524.1 1946.9,1525.4 1949.1,1526.6 1951.3,1527.6 1953.6,1528.9 1955.8,1530.3 1958.1,1531.5 1960.3,1532.7 1962.5,1533.9 1964.8,1535.1 1967.0,1536.4 1969.3,1537.6 1971.5,1538.9 1973.7,1540.1 1976.0,1541.4 1978.2,1542.7 1980.5,1544.0 1982.7,1545.1 1984.9,1546.2 1987.2,1547.5 1989.4,1548.6 1991.7,1549.7 1993.9,1550.9 1996.1,1552.0 1998.4,1553.1 2000.6,1554.2 2002.9,1555.4 2005.1,1556.5 2007.3,1557.7 2009.6,1558.9 2011.8,1560.1 2014.1,1561.4 2016.3,1562.4 2018.5,1563.6 2020.8,1564.8 2023.0,1566.0 2025.3,1567.1 2027.5,1568.2 2029.7,1569.4 2032.0,1570.6 2034.2,1571.8 2036.5,1573.0 2038.7,1574.3 2040.9,1575.3 2043.2,1576.4 2045.4,1577.7 2047.7,1578.9 2049.9,1579.9 2052.2,1581.0 2054.4,1582.2 2056.6,1583.4 2058.9,1584.5 2061.1,1585.6 2063.4,1586.7 2065.6,1587.8 2067.8,1588.9 2070.1,1590.1 2072.3,1591.3 2074.6,1592.4 2076.8,1593.5 2079.0,1594.6 2081.3,1595.7 2083.5,1596.9 2085.8,1598.0 2088.0,1599.1 2090.2,1600.3 2092.5,1601.4 2094.7,1602.6 2097.0,1603.9 2099.2,1605.1 2101.4,1606.2 2103.7,1607.4 2105.9,1608.7 2108.2,1609.9 2110.4,1611.1 2112.6,1612.4 2114.9,1613.7 2117.1,1614.9 2119.4,1616.1 2121.6,1617.4 2123.8,1618.7 2126.1,1620.0 2128.3,1621.3 2130.6,1622.7 2132.8,1624.1 2135.0,1625.6 2137.3,1627.1 2139.5,1628.6 2141.8,1630.2 2144.0,1631.9 2146.2,1633.7 2148.5,1635.4 2150.7,1637.2 2153.0,1639.1 2155.2,1641.4 2157.5,1644.3 2159.7,1648.2 2161.9,1651.7 2161.9,1651.7 2159.7,1648.2 2157.5,1644.3 2155.2,1641.4 2153.0,1639.2 2150.7,1637.3 2148.5,1635.5 2146.2,1633.7 2144.0,1632.0 2141.8,1630.4 2139.5,1628.8 2137.3,1627.3 2135.0,1625.8 2132.8,1624.4 2130.6,1622.9 2128.3,1621.6 2126.1,1620.3 2123.8,1619.1 2121.6,1617.8 2119.4,1616.6 2117.1,1615.3 2114.9,1614.1 2112.6,1612.8 2110.4,1611.6 2108.2,1610.4 2105.9,1609.2 2103.7,1608.1 2101.4,1606.9 2099.2,1605.6 2097.0,1604.4 2094.7,1603.2 2092.5,1602.1 2090.2,1601.0 2088.0,1599.8 2085.8,1598.7 2083.5,1597.6 2081.3,1596.3 2079.0,1595.2 2076.8,1594.2 2074.6,1593.0 2072.3,1591.9 2070.1,1590.9 2067.8,1589.8 2065.6,1588.7 2063.4,1587.6 2061.1,1586.5 2058.9,1585.4 2056.6,1584.3 2054.4,1583.3 2052.2,1582.1 2049.9,1581.0 2047.7,1580.0 2045.4,1578.8 2043.2,1577.6 2040.9,1576.4 2038.7,1575.3 2036.5,1574.1 2034.2,1572.9 2032.0,1571.7 2029.7,1570.5 2027.5,1569.3 2025.3,1568.2 2023.0,1567.0 2020.8,1565.8 2018.5,1564.8 2016.3,1563.6 2014.1,1562.5 2011.8,1561.3 2009.6,1560.2 2007.3,1559.1 2005.1,1558.0 2002.9,1556.9 2000.6,1555.6 1998.4,1554.5 1996.1,1553.4 1993.9,1552.2 1991.7,1551.0 1989.4,1549.9 1987.2,1548.9 1984.9,1547.7 1982.7,1546.6 1980.5,1545.5 1978.2,1544.4 1976.0,1543.3 1973.7,1542.1 1971.5,1540.9 1969.3,1539.8 1967.0,1538.7 1964.8,1537.6 1962.5,1536.4 1960.3,1535.3 1958.1,1534.2 1955.8,1533.0 1953.6,1531.9 1951.3,1530.7 1949.1,1529.7 1946.9,1528.5 1944.6,1527.4 1942.4,1526.3 1940.1,1525.2 1937.9,1523.9 1935.6,1522.9 1933.4,1521.6 1931.2,1520.5 1928.9,1519.3 1926.7,1518.2 1924.4,1516.9 1922.2,1515.6 1920.0,1514.5 1917.7,1513.4 1915.5,1512.1 1913.2,1511.1 1911.0,1510.0 1908.8,1508.7 1906.5,1507.6 1904.3,1506.3 1902.0,1504.8 1899.8,1503.6 1897.6,1502.3 1895.3,1501.1 1893.1,1500.1 1890.8,1499.1 1888.6,1498.0 1886.4,1496.7 1884.1,1495.7 1881.9,1494.7 1879.6,1493.4 1877.4,1492.5 1875.2,1491.4 1872.9,1490.5 1870.7,1489.6 1868.4,1488.5 1866.2,1487.2 1864.0,1486.2 1861.7,1485.0 1859.5,1483.8 1857.2,1482.8 1855.0,1481.7 1852.8,1480.3 1850.5,1479.2 1848.3,1478.5 1846.0,1477.2 1843.8,1476.2 1841.5,1475.0 1839.3,1473.4 1837.1,1472.2 1834.8,1471.3 1832.6,1470.1 1830.3,1468.9 1828.1,1467.7 1825.9,1466.4 1823.6,1465.3 1821.4,1464.2 1819.1,1463.2 1816.9,1461.9 1814.7,1460.6 1812.4,1459.5 1810.2,1458.4 1807.9,1457.4 1805.7,1456.2 1803.5,1455.0 1801.2,1453.8 1799.0,1452.9 1796.7,1452.0 1794.5,1450.6 1792.3,1449.4 1790.0,1448.3 1787.8,1447.5 1785.5,1446.6 1783.3,1445.4 1781.1,1444.1 1778.8,1443.0 1776.6,1441.9 1774.3,1441.0 1772.1,1440.0 1769.9,1438.9 1767.6,1437.7 1765.4,1436.6 1763.1,1435.6 1760.9,1434.8 1758.7,1434.2 1756.4,1433.2 1754.2,1432.2 1751.9,1431.6 1749.7,1430.5 1747.5,1429.4 1745.2,1428.5 1743.0,1427.8 1740.7,1426.5 1738.5,1425.4 1736.2,1425.1 1734.0,1424.5 1731.8,1423.7 1729.5,1422.4 1727.3,1421.3 1725.0,1420.6 1722.8,1420.1 1720.6,1419.3 1718.3,1417.9 1716.1,1417.1 1713.8,1416.5 1711.6,1415.7 1709.4,1414.8 1707.1,1414.1 1704.9,1413.3 1702.6,1412.1 1700.4,1410.9 1698.2,1410.2 1695.9,1409.4 1693.7,1408.5 1691.4,1408.0 1689.2,1407.5 1687.0,1406.9 1684.7,1405.9 1682.5,1404.8 1680.2,1403.6 1678.0,1402.7 1675.8,1401.8 1673.5,1401.3 1671.3,1400.7 1669.0,1399.7 1666.8,1399.0 1664.6,1398.6 1662.3,1397.7 1660.1,1397.0 1657.8,1396.4 1655.6,1395.1 1653.4,1394.5 1651.1,1394.1 1648.9,1392.7 1646.6,1391.7 1644.4,1390.8 1642.2,1390.0 1639.9,1389.6 1637.7,1389.0 1635.4,1387.9 1633.2,1386.9 1630.9,1386.5 1628.7,1386.2 1626.5,1384.8 1624.2,1383.7 1622.0,1383.5 1619.7,1382.4 1617.5,1381.4 1615.3,1381.1 1613.0,1380.7 1610.8,1380.0 1608.5,1379.3 1606.3,1378.1 1604.1,1377.7 1601.8,1377.2 1599.6,1376.0 1597.3,1375.4 1595.1,1374.9 1592.9,1374.1 1590.6,1373.6 1588.4,1373.3 1586.1,1372.5 1583.9,1371.1 1581.7,1370.0 1579.4,1369.1 1577.2,1368.5 1574.9,1368.0 1572.7,1366.7 1570.5,1365.4 1568.2,1365.1 1566.0,1364.5 1563.7,1363.3 1561.5,1363.1 1559.3,1362.6 1557.0,1361.7 1554.8,1361.4 1552.5,1360.9 1550.3,1360.2 1548.1,1359.6 1545.8,1358.3 1543.6,1357.4 1541.3,1357.0 1539.1,1356.3 1536.9,1355.8 1534.6,1355.8 1532.4,1355.1 1530.1,1353.9 1527.9,1353.5 1525.6,1353.1 1523.4,1352.3 1521.2,1351.6 1518.9,1351.5 1516.7,1351.6 1514.4,1350.6 1512.2,1349.7 1510.0,1349.1 1507.7,1349.0 1505.5,1349.0 1503.2,1348.1 1501.0,1346.8 1498.8,1346.3 1496.5,1346.1 1494.3,1345.5 1492.0,1344.8 1489.8,1344.0 1487.6,1343.5 1485.3,1342.9 1483.1,1342.1 1480.8,1342.0 1478.6,1341.1 1476.4,1340.5 1474.1,1339.8 1471.9,1339.3 1469.6,1338.9 1467.4,1337.8 1465.2,1337.3 1462.9,1336.7 1460.7,1335.6 1458.4,1335.2 1456.2,1334.8 1454.0,1334.1 1451.7,1333.3 1449.5,1332.5 1447.2,1332.0 1445.0,1331.6 1442.8,1331.2 1440.5,1330.1 1438.3,1329.7 1436.0,1329.3 1433.8,1328.6 1431.5,1328.9 1429.3,1328.3 1427.1,1327.2 1424.8,1327.0 1422.6,1327.0 1420.3,1326.3 1418.1,1326.3 1415.9,1326.1 1413.6,1325.6 1411.4,1325.6 1409.1,1325.6 1406.9,1325.2 1404.7,1325.1 1402.4,1324.6 1400.2,1324.3 1397.9,1323.9 1395.7,1323.1 1393.5,1322.6 1391.2,1322.4 1389.0,1322.4 1386.7,1322.1 1384.5,1321.6 1382.3,1321.3 1380.0,1321.1 1377.8,1320.5 1375.5,1319.7 1373.3,1319.0 1371.1,1318.6 1368.8,1319.2 1366.6,1318.9 1364.3,1318.6 1362.1,1318.4 1359.9,1317.4 1357.6,1317.1 1355.4,1317.5 1353.1,1317.0 1350.9,1316.7 1348.7,1315.9 1346.4,1315.4 1344.2,1315.8 1341.9,1315.3 1339.7,1314.9 1337.5,1314.7 1335.2,1313.7 1333.0,1313.6 1330.7,1313.9 1328.5,1313.5 1326.2,1312.9 1324.0,1312.4 1321.8,1312.2 1319.5,1311.9 1317.3,1311.2 1315.0,1311.6 1312.8,1311.2 1310.6,1310.7 1308.3,1310.8 1306.1,1310.4 1303.8,1310.2 1301.6,1309.7 1299.4,1309.1 1297.1,1309.5 1294.9,1309.2 1292.6,1308.1 1290.4,1307.8 1288.2,1308.4 1285.9,1308.0 1283.7,1308.1 1281.4,1308.6 1279.2,1307.3 1277.0,1306.3 1274.7,1307.0 1272.5,1307.6 1270.2,1307.4 1268.0,1306.3 1265.8,1306.1 1263.5,1306.9 1261.3,1307.2 1259.0,1306.7 1256.8,1305.7 1254.6,1306.0 1252.3,1305.9 1250.1,1305.2 1247.8,1305.1 1245.6,1305.5 1243.4,1304.7 1241.1,1304.3 1238.9,1304.5 1236.6,1304.4 1234.4,1304.1 1232.2,1303.7 1229.9,1304.2 1227.7,1303.9 1225.4,1303.5 1223.2,1304.0 1220.9,1303.9 1218.7,1303.9 1216.5,1303.8 1214.2,1303.4 1212.0,1303.0 1209.7,1303.2 1207.5,1303.5 1205.3,1303.2 1203.0,1303.6 1200.8,1304.2 1198.5,1304.3 1196.3,1303.9 1194.1,1303.7 1191.8,1303.6 1189.6,1304.1 1187.3,1303.9 1185.1,1303.6 1182.9,1304.1 1180.6,1304.3 1178.4,1304.4 1176.1,1304.7 1173.9,1304.7 1171.7,1304.3 1169.4,1303.3 1167.2,1303.4 1164.9,1304.3 1162.7,1304.6 1160.5,1304.4 1158.2,1304.9 1156.0,1305.2 1153.7,1305.0 1151.5,1304.5 1149.3,1304.4 1147.0,1304.9 1144.8,1305.4 1142.5,1305.9 1140.3,1305.8 1138.1,1305.2 1135.8,1305.0 1133.6,1304.9 1131.3,1305.0 1129.1,1305.3 1126.9,1305.7 1124.6,1306.6 1122.4,1306.8 1120.1,1307.0 1117.9,1307.0 1115.6,1307.5 1113.4,1308.1 1111.2,1309.0 1108.9,1309.6 1106.7,1308.9 1104.4,1308.6 1102.2,1308.9 1100.0,1309.4 1097.7,1310.1 1095.5,1309.8 1093.2,1309.4 1091.0,1309.9 1088.8,1310.5 1086.5,1310.4 1084.3,1310.4 1082.0,1312.1 1079.8,1312.1 1077.6,1311.5 1075.3,1312.2 1073.1,1312.0 1070.8,1312.6 1068.6,1313.5 1066.4,1313.6 1064.1,1313.4 1061.9,1314.0 1059.6,1315.0 1057.4,1314.8 1055.2,1314.5 1052.9,1314.7 1050.7,1315.2 1048.4,1315.6 1046.2,1316.2 1044.0,1317.0 1041.7,1317.2 1039.5,1317.0 1037.2,1317.9 1035.0,1318.5 1032.8,1318.5 1030.5,1318.0 1028.3,1318.1 1026.0,1318.8 1023.8,1319.4 1021.6,1320.4 1019.3,1320.1 1017.1,1320.4 1014.8,1321.2 1012.6,1321.4 1010.3,1321.5 1008.1,1322.5 1005.9,1322.9 1003.6,1323.0 1001.4,1323.8 999.1,1325.8 996.9,1326.4 994.7,1326.3 992.4,1326.7 990.2,1326.9 987.9,1327.4 985.7,1328.1 983.5,1328.9 981.2,1329.8 979.0,1330.1 976.7,1330.5 974.5,1330.7 972.3,1330.8 970.0,1332.2 967.8,1333.4 965.5,1333.7 963.3,1334.2 961.1,1334.6 958.8,1335.1 956.6,1336.4 954.3,1337.4 952.1,1338.0 949.9,1338.4 947.6,1339.3 945.4,1339.6 943.1,1341.0 940.9,1341.9 938.7,1341.6 936.4,1342.8 934.2,1344.0 931.9,1344.6 929.7,1345.7 927.5,1346.6 925.2,1346.8 923.0,1346.9 920.7,1348.3 918.5,1348.4 916.2,1348.8 914.0,1350.4 911.8,1350.9 909.5,1351.4 907.3,1353.7 905.0,1354.4 902.8,1354.0 900.6,1353.8 898.3,1355.4 896.1,1356.5 893.8,1356.4 891.6,1358.0 889.4,1359.1 887.1,1359.4 884.9,1360.8 882.6,1361.3 880.4,1361.3 878.2,1361.5 875.9,1362.2 873.7,1363.1 871.4,1364.4 869.2,1365.8 867.0,1367.0 864.7,1368.0 862.5,1368.1 860.2,1368.0 858.0,1369.0 855.8,1370.1 853.5,1371.1 851.3,1372.8 849.0,1373.3 846.8,1374.8 844.6,1375.4 842.3,1376.5 840.1,1378.2 837.8,1379.7 835.6,1380.4 833.4,1380.3 831.1,1381.1 828.9,1381.0 826.6,1381.9 824.4,1383.8 822.2,1385.2 819.9,1386.3 817.7,1387.0 815.4,1387.2 813.2,1387.3 810.9,1389.0 808.7,1391.0 806.5,1391.9 804.2,1392.2 802.0,1392.7 799.7,1394.4 797.5,1395.6 795.3,1396.5 793.0,1398.4 790.8,1400.1 788.5,1400.6 786.3,1401.8 784.1,1402.7 781.8,1403.1 779.6,1404.9 777.3,1406.2 775.1,1406.8 772.9,1408.1 770.6,1410.0 768.4,1410.7 766.1,1411.3 763.9,1412.4 761.7,1413.0 759.4,1413.8 757.2,1415.1 754.9,1416.5 752.7,1417.5 750.5,1417.5 748.2,1418.7 746.0,1420.5 743.7,1421.5 741.5,1422.2 739.3,1423.2 737.0,1425.1 734.8,1426.3 732.5,1427.6 730.3,1428.9 728.1,1430.3 725.8,1430.9 723.6,1431.0 721.3,1431.7 719.1,1433.3 716.9,1435.1 714.6,1435.1 712.4,1435.5 710.1,1437.1 707.9,1438.2 705.6,1439.9 703.4,1441.8 701.2,1442.4 698.9,1443.4 696.7,1443.6 694.4,1444.2 692.2,1446.5 690.0,1447.8 687.7,1448.3 685.5,1449.9 683.2,1452.0 681.0,1451.8 678.8,1451.8 676.5,1453.3 674.3,1454.1 672.0,1456.0 669.8,1457.8 667.6,1459.0 665.3,1459.9 663.1,1461.3 660.8,1462.4 658.6,1464.1 656.4,1465.5 654.1,1467.2 651.9,1468.4 649.6,1469.8 647.4,1470.5 645.2,1471.9 642.9,1473.4 640.7,1474.3 638.4,1476.0 636.2,1479.1 634.0,1480.8 631.7,1481.6 629.5,1483.7 627.2,1485.5 625.0,1486.5 622.8,1488.6 620.5,1490.6 618.3,1492.1 616.0,1494.7 613.8,1497.8 611.6,1499.7 609.3,1501.2 607.1,1502.8 604.8,1504.9 602.6,1507.3 600.3,1509.0 598.1,1511.6 595.9,1513.7 593.6,1516.2 591.4,1518.0 589.1,1519.6 586.9,1521.1 584.7,1522.6 582.4,1524.6 580.2,1525.8 577.9,1527.3 575.7,1529.2 573.5,1530.1 571.2,1530.4 569.0,1532.3 566.7,1535.8 564.5,1537.0 562.3,1538.0 560.0,1540.0 557.8,1542.2 555.5,1544.5 553.3,1546.7 551.1,1548.5 548.8,1550.4 546.6,1552.8 544.3,1554.8 542.1,1557.4 539.9,1560.4 537.6,1562.0 535.4,1562.8 533.1,1563.9 530.9,1565.7 528.7,1567.5 526.4,1569.8 524.2,1571.7 521.9,1572.8 519.7,1575.3 517.5,1577.6 515.2,1579.4 513.0,1581.5 510.7,1583.3 508.5,1586.2 506.2,1588.3 505.8,1588.2 505.4,1588.8 505.0,1589.0 504.6,1589.5 504.2,1589.8 503.8,1590.3 503.4,1590.3 503.0,1591.2 502.6,1591.5 502.2,1591.7 501.8,1592.1 501.4,1592.2 500.9,1592.6 500.5,1592.9 500.1,1593.3 499.7,1593.4 499.3,1593.3 498.9,1593.7 498.5,1593.9 498.1,1594.2 497.7,1594.2 497.3,1594.5 496.9,1595.2 496.5,1596.3 496.0,1597.1 495.6,1597.3 495.2,1597.7 494.8,1597.8 494.4,1598.2 494.0,1598.2 493.6,1598.3 493.2,1598.4 492.8,1599.0 492.4,1599.6 492.0,1599.8 491.6,1600.0 491.2,1600.3 490.7,1600.6 490.3,1600.9 489.9,1601.3 489.5,1602.1 489.1,1602.3 488.7,1602.2 488.3,1602.6 487.9,1603.1 487.5,1603.4 487.1,1603.3 486.7,1603.9 486.3,1604.3 485.8,1604.2 485.4,1604.6 485.0,1605.3 484.6,1605.3 484.2,1605.8 483.8,1606.3 483.4,1606.7 483.0,1607.1 482.6,1607.0 482.2,1607.6 481.8,1607.2 481.4,1607.7 481.0,1608.0 480.5,1608.3 480.1,1608.5 479.7,1608.8 479.3,1609.4 478.9,1609.2 478.5,1610.1 478.1,1610.5 477.7,1611.3 477.3,1611.7 476.9,1612.1 476.5,1613.1 476.1,1613.4 475.6,1613.7 475.2,1614.1 474.8,1614.5 474.4,1615.0 474.0,1615.6 473.6,1615.5 473.2,1615.9 472.8,1616.4 472.4,1616.6 472.0,1617.1 471.6,1617.5 471.2,1618.4 470.8,1618.7 470.3,1619.4 469.9,1620.3 469.5,1620.5 469.1,1621.3 468.7,1622.1 468.3,1622.8 467.9,1623.6 467.5,1624.2 467.1,1625.3 466.7,1625.4 466.3,1625.7 465.9,1626.2 465.4,1626.4 465.0,1627.0 464.6,1627.3 464.2,1628.1 463.8,1629.0 463.4,1629.5 463.0,1630.0 462.6,1630.6 462.2,1631.3 461.8,1631.7 461.4,1631.8 461.0,1632.2 460.5,1632.8 460.1,1633.5 459.7,1633.8 459.3,1634.4 458.9,1635.0 458.5,1636.0 458.1,1636.6 457.7,1637.2 457.3,1638.1 456.9,1638.9 456.5,1640.0 456.1,1640.4 455.7,1640.9 455.2,1641.6 454.8,1642.2 454.4,1642.7 454.0,1643.4 453.6,1644.0 453.2,1645.1 452.8,1645.6 452.4,1646.5 452.0,1647.3 451.6,1648.1 451.2,1648.8 450.8,1649.3 450.3,1650.1 449.9,1650.8 449.5,1651.4 449.1,1651.9 448.7,1652.8 448.3,1653.6 447.9,1654.6 447.5,1655.1 447.1,1656.0 446.7,1656.5 446.3,1657.1 445.9,1657.9 445.5,1658.5 445.0,1659.0 444.6,1659.7 444.2,1661.0 443.8,1661.8 443.4,1662.0 443.0,1662.8 442.6,1663.7 442.2,1664.3 441.8,1664.3 441.4,1665.1 441.0,1666.0 440.6,1666.8 440.1,1667.4 439.7,1668.9 439.3,1670.1 438.9,1670.9 438.5,1672.3 438.1,1672.8 437.7,1674.1 437.3,1674.6 436.9,1675.8 436.5,1676.9 436.1,1677.2 435.7,1678.0 435.3,1678.6 434.8,1679.2 434.4,1679.6 434.0,1680.4 433.6,1681.1 433.2,1681.9 432.8,1682.9 432.4,1684.0 432.0,1684.7 431.6,1685.2 431.2,1686.2 430.8,1687.2 430.4,1687.8 429.9,1688.4 429.5,1689.1 429.1,1689.9 428.7,1690.8 428.3,1691.0 427.9,1692.1 427.5,1693.0 427.1,1694.0 426.7,1694.4 426.3,1695.4 425.9,1696.5 425.5,1696.9 425.1,1698.0 424.6,1698.7 424.2,1699.6 423.8,1700.1 423.4,1701.2 423.0,1702.4 422.6,1702.7 422.2,1703.9 421.8,1705.0 421.4,1705.8 421.0,1706.6 420.6,1707.1 420.2,1708.2 419.7,1708.7 419.3,1709.4 418.9,1710.3 418.5,1711.2 418.1,1712.5 417.7,1713.2 417.3,1714.2 416.9,1715.3 416.5,1716.3 416.1,1717.2 415.7,1718.2 415.3,1719.0 414.8,1719.7 414.4,1720.6 414.0,1721.3 413.6,1721.8 413.2,1722.6 412.8,1723.6 412.4,1725.1 412.0,1725.8 411.6,1727.1 411.2,1728.3 410.8,1729.3 410.4,1730.4 410.0,1730.9 409.5,1732.2 409.1,1733.0 408.7,1734.0 408.3,1735.3 407.9,1736.2 407.5,1737.9 407.1,1738.9 406.7,1740.8 406.3,1741.7 405.9,1743.1 405.5,1744.8 405.1,1745.8 404.6,1747.8 404.2,1749.3 403.8,1751.7 403.4,1754.0 403.0,1756.6 402.6,1759.8 402.2,1763.1 401.8,1767.0 401.4,1771.1 401.0,1775.4 400.6,1780.0" fill="#68b0b0" fill-opacity="0.3" stroke="#68b0b0" stroke-opacity="0.3" stroke-width="3.47" stroke-linejoin="miter"/>
<polyline points="400.6,1780.0 401.0,1776.0 401.4,1772.0 401.8,1768.1 402.2,1764.3 402.6,1760.7 403.0,1757.0 403.4,1753.4 403.8,1750.0 404.2,1746.8 404.6,1743.7 405.1,1740.7 405.5,1738.0 405.9,1735.5 406.3,1733.2 406.7,1731.2 407.1,1729.3 407.5,1727.4 407.9,1725.6 408.3,1724.1 408.7,1722.4 409.1,1721.2 409.5,1719.7 410.0,1718.3 410.4,1716.9 410.8,1715.4 411.2,1714.2 411.6,1712.5 412.0,1711.2 412.4,1709.9 412.8,1709.0 413.2,1707.8 413.6,1706.8 414.0,1705.8 414.4,1705.1 414.8,1704.3 415.3,1703.3 415.7,1702.1 416.1,1700.7 416.5,1699.8 416.9,1698.4 417.3,1697.2 417.7,1696.4 418.1,1695.6 418.5,1695.0 418.9,1694.0 419.3,1693.2 419.7,1692.4 420.2,1691.2 420.6,1690.1 421.0,1689.2 421.4,1688.2 421.8,1687.4 422.2,1686.5 422.6,1685.5 423.0,1684.8 423.4,1683.9 423.8,1683.0 424.2,1682.1 424.6,1681.1 425.1,1680.4 425.5,1679.4 425.9,1678.2 426.3,1677.2 426.7,1676.3 427.1,1675.6 427.5,1674.7 427.9,1673.9 428.3,1673.2 428.7,1672.5 429.1,1671.7 429.5,1671.0 429.9,1670.1 430.4,1669.3 430.8,1668.4 431.2,1667.7 431.6,1666.8 432.0,1665.7 432.4,1664.7 432.8,1663.6 433.2,1662.6 433.6,1661.4 434.0,1660.4 434.4,1659.4 434.8,1658.3 435.3,1657.3 435.7,1656.2 436.1,1655.1 436.5,1654.2 436.9,1653.1 437.3,1652.0 437.7,1651.3 438.1,1650.4 438.5,1649.6 438.9,1648.6 439.3,1647.5 439.7,1646.6 440.1,1645.6 440.6,1644.6 441.0,1643.8 441.4,1643.0 441.8,1642.1 442.2,1641.6 442.6,1640.6 443.0,1639.8 443.4,1638.7 443.8,1637.7 444.2,1636.8 444.6,1635.7 445.0,1634.9 445.5,1633.8 445.9,1633.2 446.3,1632.1 446.7,1631.7 447.1,1630.9 447.5,1630.0 447.9,1629.5 448.3,1628.6 448.7,1627.9 449.1,1626.9 449.5,1625.9 449.9,1625.1 450.3,1624.1 450.8,1622.9 451.2,1622.3 451.6,1621.3 452.0,1620.7 452.4,1620.2 452.8,1619.5 453.2,1618.9 453.6,1618.3 454.0,1617.9 454.4,1616.9 454.8,1616.0 455.2,1615.1 455.7,1614.4 456.1,1613.6 456.5,1612.8 456.9,1612.2 457.3,1611.5 457.7,1611.0 458.1,1610.4 458.5,1609.3 458.9,1608.3 459.3,1607.6 459.7,1606.9 460.1,1606.2 460.5,1605.2 461.0,1604.7 461.4,1603.7 461.8,1603.1 462.2,1602.5 462.6,1601.4 463.0,1601.0 463.4,1600.0 463.8,1599.5 464.2,1598.6 464.6,1597.6 465.0,1597.2 465.4,1596.4 465.9,1595.9 466.3,1595.4 466.7,1594.7 467.1,1594.1 467.5,1593.4 467.9,1592.7 468.3,1592.2 468.7,1591.2 469.1,1590.5 469.5,1589.5 469.9,1588.7 470.3,1588.0 470.8,1587.2 471.2,1586.6 471.6,1586.2 472.0,1585.6 472.4,1585.1 472.8,1584.5 473.2,1583.8 473.6,1583.1 474.0,1582.3 474.4,1581.8 474.8,1580.9 475.2,1580.1 475.6,1579.4 476.1,1578.8 476.5,1578.3 476.9,1577.5 477.3,1577.0 477.7,1576.5 478.1,1575.8 478.5,1575.0 478.9,1574.2 479.3,1573.5 479.7,1572.9 480.1,1572.1 480.5,1571.6 481.0,1571.1 481.4,1570.5 481.8,1569.9 482.2,1569.3 482.6,1568.5 483.0,1567.5 483.4,1566.9 483.8,1566.4 484.2,1565.8 484.6,1564.9 485.0,1564.7 485.4,1564.2 485.8,1563.4 486.3,1562.7 486.7,1562.1 487.1,1561.7 487.5,1560.9 487.9,1560.2 488.3,1559.7 488.7,1559.1 489.1,1558.2 489.5,1557.7 489.9,1557.1 490.3,1556.6 490.7,1556.1 491.2,1555.7 491.6,1555.1 492.0,1554.4 492.4,1554.1 492.8,1553.4 493.2,1552.9 493.6,1552.5 494.0,1551.9 494.4,1551.5 494.8,1550.6 495.2,1550.3 495.6,1549.7 496.0,1549.2 496.5,1548.8 496.9,1548.4 497.3,1547.9 497.7,1547.5 498.1,1547.1 498.5,1546.5 498.9,1546.2 499.3,1545.4 499.7,1545.0 500.1,1544.6 500.5,1544.1 500.9,1543.5 501.4,1542.8 501.8,1542.4 502.2,1541.6 502.6,1541.0 503.0,1540.3 503.4,1539.7 503.8,1539.4 504.2,1539.1 504.6,1539.0 505.0,1538.5 505.4,1538.1 505.8,1537.4 506.2,1536.6 508.5,1534.4 510.7,1531.8 513.0,1529.2 515.2,1525.9 517.5,1523.3 519.7,1520.8 521.9,1518.1 524.2,1515.7 526.4,1513.1 528.7,1510.5 530.9,1507.8 533.1,1505.4 535.4,1503.4 537.6,1500.9 539.9,1498.1 542.1,1496.3 544.3,1494.2 546.6,1491.4 548.8,1489.2 551.1,1487.1 553.3,1485.4 555.5,1483.4 557.8,1481.5 560.0,1479.6 562.3,1476.7 564.5,1474.4 566.7,1472.7 569.0,1471.0 571.2,1469.6 573.5,1467.7 575.7,1465.3 577.9,1463.3 580.2,1461.5 582.4,1459.3 584.7,1457.7 586.9,1456.4 589.1,1454.3 591.4,1452.3 593.6,1450.4 595.9,1449.0 598.1,1447.2 600.3,1445.2 602.6,1443.6 604.8,1442.4 607.1,1440.8 609.3,1439.0 611.6,1437.8 613.8,1436.4 616.0,1434.9 618.3,1433.1 620.5,1432.1 622.8,1431.4 625.0,1429.7 627.2,1428.0 629.5,1426.3 631.7,1424.8 634.0,1423.1 636.2,1421.8 638.4,1420.7 640.7,1418.9 642.9,1417.5 645.2,1415.8 647.4,1414.1 649.6,1412.9 651.9,1412.0 654.1,1410.0 656.4,1408.1 658.6,1406.8 660.8,1405.6 663.1,1404.2 665.3,1402.4 667.6,1400.9 669.8,1399.8 672.0,1398.2 674.3,1396.7 676.5,1395.6 678.8,1394.3 681.0,1392.5 683.2,1390.7 685.5,1389.1 687.7,1387.8 690.0,1387.0 692.2,1385.4 694.4,1383.6 696.7,1382.2 698.9,1381.1 701.2,1379.3 703.4,1378.2 705.6,1377.4 707.9,1376.0 710.1,1374.5 712.4,1372.9 714.6,1371.2 716.9,1369.9 719.1,1368.7 721.3,1367.7 723.6,1366.6 725.8,1365.1 728.1,1363.7 730.3,1362.5 732.5,1361.4 734.8,1360.1 737.0,1358.9 739.3,1357.4 741.5,1356.4 743.7,1355.4 746.0,1354.2 748.2,1353.5 750.5,1352.5 752.7,1351.5 754.9,1350.2 757.2,1348.3 759.4,1347.2 761.7,1346.8 763.9,1346.0 766.1,1344.5 768.4,1343.4 770.6,1343.0 772.9,1342.2 775.1,1341.0 777.3,1340.1 779.6,1338.6 781.8,1337.5 784.1,1337.0 786.3,1336.0 788.5,1334.9 790.8,1333.9 793.0,1333.0 795.3,1331.4 797.5,1330.2 799.7,1329.5 802.0,1328.4 804.2,1327.7 806.5,1326.9 808.7,1325.8 810.9,1325.0 813.2,1323.8 815.4,1322.9 817.7,1322.5 819.9,1321.6 822.2,1320.4 824.4,1319.5 826.6,1319.1 828.9,1318.6 831.1,1318.0 833.4,1317.1 835.6,1316.0 837.8,1314.9 840.1,1314.7 842.3,1314.1 844.6,1313.0 846.8,1312.1 849.0,1310.9 851.3,1310.5 853.5,1310.1 855.8,1309.5 858.0,1308.6 860.2,1308.1 862.5,1307.8 864.7,1306.8 867.0,1305.6 869.2,1304.4 871.4,1303.9 873.7,1304.0 875.9,1303.3 878.2,1302.5 880.4,1301.8 882.6,1301.2 884.9,1300.7 887.1,1300.0 889.4,1299.2 891.6,1298.6 893.8,1297.9 896.1,1297.3 898.3,1297.4 900.6,1296.6 902.8,1295.7 905.0,1295.3 907.3,1294.4 909.5,1293.9 911.8,1293.6 914.0,1292.9 916.2,1292.1 918.5,1291.4 920.7,1291.0 923.0,1290.5 925.2,1289.6 927.5,1288.7 929.7,1288.1 931.9,1286.7 934.2,1285.7 936.4,1284.8 938.7,1284.2 940.9,1283.6 943.1,1282.5 945.4,1281.6 947.6,1280.7 949.9,1280.0 952.1,1279.6 954.3,1279.0 956.6,1278.0 958.8,1277.5 961.1,1277.3 963.3,1276.9 965.5,1276.4 967.8,1276.2 970.0,1276.0 972.3,1275.4 974.5,1275.0 976.7,1274.3 979.0,1273.6 981.2,1273.9 983.5,1273.6 985.7,1273.3 987.9,1273.8 990.2,1273.5 992.4,1272.9 994.7,1272.4 996.9,1272.6 999.1,1272.4 1001.4,1271.9 1003.6,1271.6 1005.9,1271.4 1008.1,1271.2 1010.3,1270.8 1012.6,1270.9 1014.8,1270.4 1017.1,1270.0 1019.3,1269.9 1021.6,1269.5 1023.8,1269.5 1026.0,1269.6 1028.3,1269.3 1030.5,1269.2 1032.8,1268.7 1035.0,1268.2 1037.2,1267.8 1039.5,1267.3 1041.7,1267.3 1044.0,1267.4 1046.2,1266.6 1048.4,1265.9 1050.7,1266.3 1052.9,1266.5 1055.2,1266.3 1057.4,1265.8 1059.6,1265.3 1061.9,1265.1 1064.1,1265.0 1066.4,1265.0 1068.6,1265.0 1070.8,1264.8 1073.1,1264.6 1075.3,1264.4 1077.6,1264.3 1079.8,1264.5 1082.0,1264.6 1084.3,1264.4 1086.5,1264.4 1088.8,1264.3 1091.0,1264.3 1093.2,1264.3 1095.5,1264.0 1097.7,1263.9 1100.0,1263.8 1102.2,1263.5 1104.4,1263.4 1106.7,1263.5 1108.9,1263.5 1111.2,1263.6 1113.4,1263.7 1115.6,1263.4 1117.9,1263.3 1120.1,1263.6 1122.4,1263.9 1124.6,1263.4 1126.9,1263.1 1129.1,1263.1 1131.3,1263.1 1133.6,1263.0 1135.8,1263.0 1138.1,1263.2 1140.3,1263.1 1142.5,1262.7 1144.8,1262.6 1147.0,1263.0 1149.3,1263.4 1151.5,1263.3 1153.7,1263.1 1156.0,1262.8 1158.2,1262.9 1160.5,1263.4 1162.7,1263.5 1164.9,1263.2 1167.2,1263.4 1169.4,1263.4 1171.7,1263.6 1173.9,1263.7 1176.1,1263.3 1178.4,1263.8 1180.6,1264.3 1182.9,1264.1 1185.1,1263.7 1187.3,1264.1 1189.6,1264.7 1191.8,1264.4 1194.1,1264.7 1196.3,1264.9 1198.5,1265.0 1200.8,1265.0 1203.0,1265.2 1205.3,1265.0 1207.5,1265.1 1209.7,1265.5 1212.0,1265.4 1214.2,1265.4 1216.5,1265.4 1218.7,1265.5 1220.9,1265.6 1223.2,1265.2 1225.4,1265.0 1227.7,1265.4 1229.9,1265.5 1232.2,1265.6 1234.4,1265.7 1236.6,1265.9 1238.9,1266.2 1241.1,1266.2 1243.4,1265.9 1245.6,1265.8 1247.8,1266.0 1250.1,1266.1 1252.3,1266.3 1254.6,1266.4 1256.8,1266.5 1259.0,1266.8 1261.3,1267.4 1263.5,1267.8 1265.8,1267.8 1268.0,1267.8 1270.2,1268.2 1272.5,1269.0 1274.7,1269.2 1277.0,1269.3 1279.2,1270.0 1281.4,1270.4 1283.7,1270.9 1285.9,1271.1 1288.2,1271.2 1290.4,1272.0 1292.6,1272.6 1294.9,1272.9 1297.1,1273.0 1299.4,1273.8 1301.6,1274.2 1303.8,1273.9 1306.1,1274.4 1308.3,1275.0 1310.6,1275.2 1312.8,1275.5 1315.0,1276.3 1317.3,1276.9 1319.5,1277.3 1321.8,1277.8 1324.0,1278.1 1326.2,1278.4 1328.5,1278.7 1330.7,1279.0 1333.0,1279.2 1335.2,1279.6 1337.5,1280.5 1339.7,1280.7 1341.9,1280.9 1344.2,1281.3 1346.4,1281.6 1348.7,1282.1 1350.9,1282.4 1353.1,1282.8 1355.4,1283.0 1357.6,1283.4 1359.9,1284.0 1362.1,1284.3 1364.3,1284.7 1366.6,1285.4 1368.8,1285.7 1371.1,1286.1 1373.3,1286.8 1375.5,1286.8 1377.8,1286.9 1380.0,1287.1 1382.3,1287.4 1384.5,1287.8 1386.7,1288.3 1389.0,1288.7 1391.2,1289.0 1393.5,1289.5 1395.7,1290.2 1397.9,1290.9 1400.2,1291.1 1402.4,1291.4 1404.7,1292.1 1406.9,1292.5 1409.1,1292.6 1411.4,1293.1 1413.6,1293.9 1415.9,1294.3 1418.1,1294.8 1420.3,1295.5 1422.6,1295.9 1424.8,1296.5 1427.1,1297.1 1429.3,1297.5 1431.5,1298.0 1433.8,1298.3 1436.0,1298.8 1438.3,1299.4 1440.5,1300.0 1442.8,1300.6 1445.0,1301.0 1447.2,1301.7 1449.5,1302.6 1451.7,1303.1 1454.0,1303.8 1456.2,1304.5 1458.4,1304.8 1460.7,1305.5 1462.9,1306.1 1465.2,1306.5 1467.4,1307.0 1469.6,1307.7 1471.9,1308.1 1474.1,1308.9 1476.4,1309.8 1478.6,1310.3 1480.8,1310.8 1483.1,1311.7 1485.3,1312.4 1487.6,1312.8 1489.8,1313.6 1492.0,1314.4 1494.3,1315.1 1496.5,1315.5 1498.8,1316.1 1501.0,1316.8 1503.2,1317.6 1505.5,1318.3 1507.7,1318.8 1510.0,1319.8 1512.2,1320.9 1514.4,1321.7 1516.7,1321.7 1518.9,1322.5 1521.2,1323.6 1523.4,1324.1 1525.6,1324.8 1527.9,1325.7 1530.1,1326.3 1532.4,1327.3 1534.6,1328.1 1536.9,1328.7 1539.1,1329.5 1541.3,1330.4 1543.6,1331.1 1545.8,1331.9 1548.1,1332.5 1550.3,1333.6 1552.5,1334.6 1554.8,1335.3 1557.0,1336.1 1559.3,1337.1 1561.5,1337.9 1563.7,1338.7 1566.0,1339.5 1568.2,1340.3 1570.5,1340.9 1572.7,1341.6 1574.9,1342.5 1577.2,1343.2 1579.4,1344.3 1581.7,1345.3 1583.9,1346.0 1586.1,1346.9 1588.4,1348.0 1590.6,1348.7 1592.9,1349.6 1595.1,1350.6 1597.3,1351.3 1599.6,1352.0 1601.8,1353.0 1604.1,1354.1 1606.3,1354.8 1608.5,1355.6 1610.8,1356.5 1613.0,1357.5 1615.3,1358.6 1617.5,1359.6 1619.7,1360.3 1622.0,1361.2 1624.2,1362.3 1626.5,1363.1 1628.7,1364.0 1630.9,1364.9 1633.2,1365.8 1635.4,1366.9 1637.7,1367.9 1639.9,1369.1 1642.2,1370.0 1644.4,1370.9 1646.6,1371.9 1648.9,1372.6 1651.1,1373.6 1653.4,1374.5 1655.6,1375.6 1657.8,1376.6 1660.1,1377.6 1662.3,1378.9 1664.6,1379.9 1666.8,1380.7 1669.0,1381.6 1671.3,1382.5 1673.5,1383.6 1675.8,1384.5 1678.0,1385.5 1680.2,1386.5 1682.5,1387.5 1684.7,1388.7 1687.0,1389.8 1689.2,1390.6 1691.4,1391.5 1693.7,1392.5 1695.9,1393.8 1698.2,1394.7 1700.4,1395.4 1702.6,1396.4 1704.9,1397.6 1707.1,1398.6 1709.4,1399.7 1711.6,1400.6 1713.8,1401.4 1716.1,1402.4 1718.3,1403.7 1720.6,1404.6 1722.8,1405.6 1725.0,1406.7 1727.3,1407.8 1729.5,1408.8 1731.8,1409.8 1734.0,1410.8 1736.2,1411.8 1738.5,1412.8 1740.7,1413.9 1743.0,1415.0 1745.2,1416.1 1747.5,1417.0 1749.7,1418.1 1751.9,1419.1 1754.2,1420.0 1756.4,1421.2 1758.7,1422.4 1760.9,1423.4 1763.1,1424.3 1765.4,1425.4 1767.6,1426.5 1769.9,1427.8 1772.1,1428.8 1774.3,1429.8 1776.6,1431.1 1778.8,1432.3 1781.1,1433.3 1783.3,1434.3 1785.5,1435.4 1787.8,1436.4 1790.0,1437.6 1792.3,1438.8 1794.5,1439.8 1796.7,1440.8 1799.0,1441.9 1801.2,1443.2 1803.5,1444.3 1805.7,1445.5 1807.9,1446.8 1810.2,1447.9 1812.4,1449.1 1814.7,1450.0 1816.9,1451.0 1819.1,1452.4 1821.4,1453.7 1823.6,1454.9 1825.9,1456.1 1828.1,1457.2 1830.3,1458.4 1832.6,1459.7 1834.8,1460.8 1837.1,1462.1 1839.3,1463.4 1841.5,1464.6 1843.8,1465.7 1846.0,1467.0 1848.3,1468.3 1850.5,1469.7 1852.8,1470.9 1855.0,1472.0 1857.2,1473.1 1859.5,1474.3 1861.7,1475.7 1864.0,1477.2 1866.2,1478.5 1868.4,1479.8 1870.7,1481.0 1872.9,1482.4 1875.2,1483.6 1877.4,1485.0 1879.6,1486.5 1881.9,1487.8 1884.1,1489.1 1886.4,1490.3 1888.6,1491.6 1890.8,1493.1 1893.1,1494.4 1895.3,1495.6 1897.6,1497.0 1899.8,1498.3 1902.0,1499.6 1904.3,1500.9 1906.5,1502.4 1908.8,1503.7 1911.0,1504.9 1913.2,1506.2 1915.5,1507.6 1917.7,1508.9 1920.0,1510.2 1922.2,1511.5 1924.4,1512.8 1926.7,1514.0 1928.9,1515.3 1931.2,1516.4 1933.4,1517.8 1935.6,1519.1 1937.9,1520.2 1940.1,1521.5 1942.4,1522.7 1944.6,1523.9 1946.9,1525.1 1949.1,1526.3 1951.3,1527.5 1953.6,1528.8 1955.8,1530.0 1958.1,1531.1 1960.3,1532.3 1962.5,1533.5 1964.8,1534.6 1967.0,1535.8 1969.3,1537.0 1971.5,1538.3 1973.7,1539.3 1976.0,1540.5 1978.2,1541.6 1980.5,1542.8 1982.7,1544.0 1984.9,1545.2 1987.2,1546.3 1989.4,1547.4 1991.7,1548.6 1993.9,1549.8 1996.1,1551.0 1998.4,1552.1 2000.6,1553.3 2002.9,1554.5 2005.1,1555.6 2007.3,1556.7 2009.6,1557.9 2011.8,1559.0 2014.1,1560.1 2016.3,1561.3 2018.5,1562.4 2020.8,1563.6 2023.0,1564.8 2025.3,1565.9 2027.5,1567.1 2029.7,1568.4 2032.0,1569.5 2034.2,1570.6 2036.5,1571.7 2038.7,1572.8 2040.9,1574.0 2043.2,1575.2 2045.4,1576.3 2047.7,1577.5 2049.9,1578.6 2052.2,1579.8 2054.4,1580.9 2056.6,1582.0 2058.9,1583.1 2061.1,1584.3 2063.4,1585.4 2065.6,1586.5 2067.8,1587.6 2070.1,1588.7 2072.3,1589.9 2074.6,1591.1 2076.8,1592.2 2079.0,1593.3 2081.3,1594.4 2083.5,1595.6 2085.8,1596.7 2088.0,1597.9 2090.2,1599.0 2092.5,1600.2 2094.7,1601.4 2097.0,1602.6 2099.2,1603.8 2101.4,1605.0 2103.7,1606.1 2105.9,1607.4 2108.2,1608.6 2110.4,1609.9 2112.6,1611.1 2114.9,1612.4 2117.1,1613.7 2119.4,1615.0 2121.6,1616.3 2123.8,1617.7 2126.1,1619.0 2128.3,1620.4 2130.6,1621.8 2132.8,1623.3 2135.0,1624.8 2137.3,1626.3 2139.5,1627.9 2141.8,1629.5 2144.0,1631.2 2146.2,1633.0 2148.5,1634.8 2150.7,1636.6 2153.0,1638.6 2155.2,1641.0 2157.5,1644.0 2159.7,1648.0 2161.9,1651.7" stroke="#9a2528" stroke-width="6.94" stroke-linecap="square"/>
<polyline points="400.6,1780.0 401.0,1773.5 401.4,1767.2 401.8,1761.1 402.2,1755.4 402.6,1749.9 403.0,1745.2 403.4,1740.7 403.8,1736.9 404.2,1733.3 404.6,1729.5 405.1,1726.0 405.5,1722.6 405.9,1719.7 406.3,1716.3 406.7,1712.6 407.1,1708.5 407.5,1705.2 407.9,1702.2 408.3,1698.7 408.7,1694.9 409.1,1690.4 409.5,1686.8 410.0,1683.8 410.4,1680.5 410.8,1676.9 411.2,1674.4 411.6,1671.8 412.0,1669.9 412.4,1666.2 412.8,1662.7 413.2,1659.4 413.6,1655.6 414.0,1653.1 414.4,1649.4 414.8,1646.4 415.3,1643.7 415.7,1642.0 416.1,1639.7 416.5,1636.6 416.9,1634.6 417.3,1632.4 417.7,1629.5 418.1,1626.3 418.5,1623.1 418.9,1620.8 419.3,1617.2 419.7,1614.9 420.2,1613.2 420.6,1611.5 421.0,1609.3 421.4,1607.9 421.8,1605.7 422.2,1604.1 422.6,1602.3 423.0,1601.5 423.4,1600.8 423.8,1599.7 424.2,1599.0 424.6,1596.5 425.1,1594.9 425.5,1591.8 425.9,1589.4 426.3,1587.6 426.7,1585.9 427.1,1584.1 427.5,1582.5 427.9,1580.9 428.3,1579.2 428.7,1577.5 429.1,1575.8 429.5,1575.1 429.9,1572.9 430.4,1571.5 430.8,1570.2 431.2,1568.9 431.6,1567.6 432.0,1566.6 432.4,1565.1 432.8,1563.6 433.2,1562.3 433.6,1560.0 434.0,1559.3 434.4,1557.0 434.8,1555.8 435.3,1554.6 435.7,1553.0 436.1,1551.9 436.5,1549.1 436.9,1548.1 437.3,1546.0 437.7,1543.6 438.1,1542.4 438.5,1541.2 438.9,1540.5 439.3,1539.4 439.7,1538.7 440.1,1538.0 440.6,1536.5 441.0,1535.4 441.4,1533.7 441.8,1531.7 442.2,1529.5 442.6,1527.6 443.0,1526.5 443.4,1524.0 443.8,1523.0 444.2,1521.5 444.6,1520.3 445.0,1519.1 445.5,1517.6 445.9,1516.8 446.3,1515.3 446.7,1514.2 447.1,1512.5 447.5,1510.4 447.9,1508.6 448.3,1506.2 448.7,1505.0 449.1,1502.2 449.5,1499.5 449.9,1497.8 450.3,1495.9 450.8,1494.3 451.2,1492.7 451.6,1491.4 452.0,1490.9 452.4,1489.1 452.8,1487.1 453.2,1485.1 453.6,1483.5 454.0,1482.0 454.4,1480.5 454.8,1479.4 455.2,1478.5 455.7,1477.5 456.1,1475.4 456.5,1473.9 456.9,1473.1 457.3,1471.2 457.7,1469.4 458.1,1468.6 458.5,1467.6 458.9,1466.8 459.3,1465.4 459.7,1464.6 460.1,1463.7 460.5,1462.6 461.0,1460.8 461.4,1459.3 461.8,1458.5 462.2,1456.4 462.6,1455.7 463.0,1455.3 463.4,1454.4 463.8,1453.4 464.2,1452.3 464.6,1452.3 465.0,1451.8 465.4,1450.2 465.9,1449.9 466.3,1448.1 466.7,1447.6 467.1,1446.9 467.5,1444.9 467.9,1443.6 468.3,1442.4 468.7,1442.9 469.1,1442.5 469.5,1441.5 469.9,1441.0 470.3,1439.9 470.8,1439.2 471.2,1437.8 471.6,1435.9 472.0,1434.3 472.4,1433.1 472.8,1431.7 473.2,1431.3 473.6,1431.2 474.0,1429.9 474.4,1430.1 474.8,1429.2 475.2,1428.7 475.6,1428.0 476.1,1426.2 476.5,1425.1 476.9,1423.0 477.3,1422.5 477.7,1421.8 478.1,1421.3 478.5,1420.7 478.9,1420.6 479.3,1420.1 479.7,1418.8 480.1,1417.8 480.5,1415.2 481.0,1413.9 481.4,1412.1 481.8,1411.6 482.2,1410.9 482.6,1409.3 483.0,1408.2 483.4,1407.0 483.8,1406.3 484.2,1404.9 484.6,1403.5 485.0,1401.6 485.4,1400.5 485.8,1399.3 486.3,1398.1 486.7,1396.3 487.1,1394.5 487.5,1393.8 487.9,1393.1 488.3,1392.4 488.7,1391.6 489.1,1391.1 489.5,1390.8 489.9,1390.3 490.3,1388.3 490.7,1386.6 491.2,1384.5 491.6,1383.9 492.0,1381.5 492.4,1380.5 492.8,1380.3 493.2,1379.1 493.6,1378.4 494.0,1376.9 494.4,1375.6 494.8,1373.3 495.2,1372.2 495.6,1370.8 496.0,1370.0 496.5,1368.4 496.9,1367.8 497.3,1366.7 497.7,1365.6 498.1,1364.4 498.5,1362.7 498.9,1362.3 499.3,1361.1 499.7,1360.6 500.1,1358.9 500.5,1358.0 500.9,1358.0 501.4,1356.9 501.8,1356.2 502.2,1354.9 502.6,1354.6 503.0,1353.2 503.4,1351.5 503.8,1350.1 504.2,1349.0 504.6,1348.1 505.0,1348.0 505.4,1346.7 505.8,1345.8 506.2,1344.9 508.5,1340.9 510.7,1336.0 513.0,1329.8 515.2,1323.7 517.5,1318.9 519.7,1315.7 521.9,1314.5 524.2,1309.0 526.4,1300.6 528.7,1292.1 530.9,1286.3 533.1,1281.7 535.4,1276.6 537.6,1274.2 539.9,1273.4 542.1,1269.4 544.3,1264.3 546.6,1262.2 548.8,1260.4 551.1,1255.2 553.3,1250.3 555.5,1248.1 557.8,1245.1 560.0,1242.6 562.3,1238.1 564.5,1234.5 566.7,1230.6 569.0,1226.4 571.2,1222.8 573.5,1218.5 575.7,1215.9 577.9,1209.9 580.2,1205.2 582.4,1202.8 584.7,1197.9 586.9,1193.6 589.1,1190.9 591.4,1189.6 593.6,1188.0 595.9,1182.7 598.1,1178.6 600.3,1175.8 602.6,1173.1 604.8,1170.0 607.1,1167.2 609.3,1164.7 611.6,1159.1 613.8,1155.6 616.0,1153.9 618.3,1151.0 620.5,1147.9 622.8,1143.6 625.0,1140.5 627.2,1138.7 629.5,1136.3 631.7,1133.2 634.0,1129.4 636.2,1126.9 638.4,1125.4 640.7,1121.7 642.9,1116.4 645.2,1113.3 647.4,1111.2 649.6,1107.0 651.9,1103.8 654.1,1102.7 656.4,1098.1 658.6,1093.6 660.8,1092.1 663.1,1089.9 665.3,1086.0 667.6,1083.6 669.8,1080.4 672.0,1077.5 674.3,1076.1 676.5,1074.2 678.8,1072.5 681.0,1071.0 683.2,1067.5 685.5,1065.7 687.7,1064.6 690.0,1061.8 692.2,1060.1 694.4,1057.5 696.7,1055.6 698.9,1053.9 701.2,1051.9 703.4,1050.3 705.6,1047.8 707.9,1043.6 710.1,1041.9 712.4,1041.1 714.6,1038.1 716.9,1037.0 719.1,1034.8 721.3,1032.3 723.6,1032.2 725.8,1031.7 728.1,1028.3 730.3,1025.2 732.5,1024.7 734.8,1022.9 737.0,1020.3 739.3,1018.5 741.5,1017.0 743.7,1015.6 746.0,1014.1 748.2,1012.7 750.5,1011.1 752.7,1008.9 754.9,1009.4 757.2,1009.8 759.4,1008.5 761.7,1008.5 763.9,1008.5 766.1,1007.3 768.4,1005.4 770.6,1004.9 772.9,1004.1 775.1,1003.1 777.3,1002.3 779.6,1001.8 781.8,1001.2 784.1,1000.2 786.3,999.6 788.5,999.8 790.8,999.5 793.0,997.2 795.3,995.5 797.5,994.3 799.7,993.0 802.0,993.0 804.2,991.7 806.5,990.1 808.7,987.8 810.9,986.9 813.2,986.7 815.4,984.9 817.7,982.9 819.9,981.8 822.2,981.3 824.4,979.9 826.6,978.2 828.9,977.1 831.1,977.2 833.4,976.0 835.6,974.2 837.8,973.2 840.1,972.2 842.3,971.5 844.6,970.6 846.8,968.3 849.0,968.1 851.3,968.9 853.5,966.6 855.8,966.5 858.0,964.5 860.2,959.7 862.5,956.9 864.7,955.1 867.0,953.9 869.2,953.5 871.4,952.0 873.7,951.5 875.9,951.7 878.2,949.5 880.4,948.0 882.6,947.1 884.9,947.4 887.1,947.6 889.4,947.2 891.6,945.5 893.8,944.1 896.1,944.9 898.3,945.0 900.6,943.0 902.8,942.4 905.0,942.7 907.3,941.5 909.5,941.4 911.8,940.1 914.0,938.0 916.2,938.8 918.5,939.3 920.7,937.9 923.0,937.5 925.2,936.7 927.5,937.1 929.7,936.8 931.9,936.7 934.2,936.2 936.4,934.7 938.7,933.5 940.9,935.0 943.1,935.2 945.4,934.5 947.6,933.9 949.9,932.6 952.1,932.5 954.3,932.0 956.6,931.7 958.8,932.4 961.1,932.4 963.3,931.4 965.5,931.8 967.8,931.6 970.0,929.8 972.3,929.6 974.5,928.3 976.7,926.3 979.0,926.0 981.2,926.2 983.5,925.8 985.7,925.0 987.9,924.2 990.2,923.4 992.4,923.7 994.7,923.1 996.9,921.3 999.1,921.6 1001.4,921.3 1003.6,920.0 1005.9,919.5 1008.1,918.7 1010.3,918.3 1012.6,918.2 1014.8,917.4 1017.1,917.3 1019.3,917.0 1021.6,917.5 1023.8,916.2 1026.0,915.6 1028.3,915.0 1030.5,914.8 1032.8,915.1 1035.0,914.3 1037.2,913.8 1039.5,913.9 1041.7,913.3 1044.0,913.1 1046.2,913.2 1048.4,912.6 1050.7,913.1 1052.9,912.6 1055.2,912.0 1057.4,912.2 1059.6,912.3 1061.9,912.3 1064.1,913.0 1066.4,912.4 1068.6,911.2 1070.8,910.2 1073.1,909.2 1075.3,910.1 1077.6,910.7 1079.8,909.7 1082.0,909.6 1084.3,910.4 1086.5,910.9 1088.8,911.4 1091.0,910.7 1093.2,909.7 1095.5,910.3 1097.7,910.7 1100.0,910.0 1102.2,909.8 1104.4,910.2 1106.7,911.3 1108.9,912.6 1111.2,912.5 1113.4,911.9 1115.6,911.8 1117.9,911.8 1120.1,911.6 1122.4,911.9 1124.6,912.3 1126.9,912.5 1129.1,912.6 1131.3,913.1 1133.6,913.4 1135.8,914.5 1138.1,914.8 1140.3,914.2 1142.5,913.5 1144.8,914.5 1147.0,915.3 1149.3,915.7 1151.5,915.0 1153.7,914.9 1156.0,915.9 1158.2,915.3 1160.5,915.3 1162.7,915.9 1164.9,914.9 1167.2,915.6 1169.4,917.3 1171.7,917.4 1173.9,916.1 1176.1,916.9 1178.4,917.5 1180.6,918.3 1182.9,920.2 1185.1,919.8 1187.3,920.2 1189.6,922.7 1191.8,924.2 1194.1,924.5 1196.3,925.0 1198.5,924.7 1200.8,924.4 1203.0,925.8 1205.3,926.7 1207.5,927.4 1209.7,928.9 1212.0,929.1 1214.2,928.9 1216.5,929.3 1218.7,929.5 1220.9,929.8 1223.2,930.7 1225.4,931.9 1227.7,932.5 1229.9,933.1 1232.2,932.9 1234.4,932.8 1236.6,934.3 1238.9,935.0 1241.1,934.1 1243.4,933.3 1245.6,934.0 1247.8,935.6 1250.1,936.4 1252.3,937.3 1254.6,939.4 1256.8,940.2 1259.0,941.1 1261.3,942.1 1263.5,941.4 1265.8,941.9 1268.0,943.7 1270.2,944.4 1272.5,945.6 1274.7,946.8 1277.0,948.1 1279.2,949.5 1281.4,950.1 1283.7,950.9 1285.9,952.3 1288.2,952.6 1290.4,952.6 1292.6,953.6 1294.9,953.5 1297.1,953.6 1299.4,954.7 1301.6,956.1 1303.8,958.0 1306.1,959.2 1308.3,958.9 1310.6,960.4 1312.8,962.3 1315.0,961.7 1317.3,963.1 1319.5,963.6 1321.8,964.3 1324.0,965.7 1326.2,965.8 1328.5,966.5 1330.7,968.2 1333.0,969.6 1335.2,970.1 1337.5,970.4 1339.7,971.8 1341.9,974.2 1344.2,975.5 1346.4,975.5 1348.7,976.6 1350.9,978.1 1353.1,979.1 1355.4,980.1 1357.6,980.2 1359.9,980.7 1362.1,982.4 1364.3,983.2 1366.6,984.0 1368.8,984.9 1371.1,984.9 1373.3,986.7 1375.5,988.8 1377.8,988.7 1380.0,988.6 1382.3,989.9 1384.5,991.2 1386.7,991.8 1389.0,993.0 1391.2,993.6 1393.5,992.9 1395.7,993.9 1397.9,995.4 1400.2,996.7 1402.4,998.0 1404.7,998.7 1406.9,999.7 1409.1,1000.8 1411.4,1002.7 1413.6,1003.2 1415.9,1004.0 1418.1,1005.0 1420.3,1006.2 1422.6,1007.4 1424.8,1007.9 1427.1,1009.4 1429.3,1010.5 1431.5,1011.4 1433.8,1012.5 1436.0,1013.5 1438.3,1014.8 1440.5,1017.1 1442.8,1018.4 1445.0,1018.8 1447.2,1020.6 1449.5,1022.0 1451.7,1023.4 1454.0,1024.4 1456.2,1025.4 1458.4,1026.5 1460.7,1028.0 1462.9,1029.2 1465.2,1030.1 1467.4,1031.7 1469.6,1033.6 1471.9,1034.4 1474.1,1035.4 1476.4,1037.4 1478.6,1038.8 1480.8,1039.7 1483.1,1040.4 1485.3,1041.6 1487.6,1043.4 1489.8,1045.2 1492.0,1047.2 1494.3,1048.6 1496.5,1049.7 1498.8,1051.4 1501.0,1052.4 1503.2,1053.9 1505.5,1055.2 1507.7,1056.6 1510.0,1059.1 1512.2,1059.8 1514.4,1060.7 1516.7,1062.9 1518.9,1064.3 1521.2,1065.7 1523.4,1067.3 1525.6,1068.9 1527.9,1070.7 1530.1,1072.6 1532.4,1074.0 1534.6,1075.6 1536.9,1077.5 1539.1,1079.6 1541.3,1081.1 1543.6,1082.2 1545.8,1083.9 1548.1,1085.4 1550.3,1087.1 1552.5,1089.0 1554.8,1090.2 1557.0,1091.9 1559.3,1093.9 1561.5,1095.6 1563.7,1097.6 1566.0,1098.8 1568.2,1100.5 1570.5,1102.4 1572.7,1104.1 1574.9,1106.3 1577.2,1108.3 1579.4,1109.3 1581.7,1111.3 1583.9,1113.7 1586.1,1115.0 1588.4,1116.1 1590.6,1117.9 1592.9,1119.6 1595.1,1121.3 1597.3,1123.5 1599.6,1124.9 1601.8,1126.6 1604.1,1129.0 1606.3,1131.2 1608.5,1132.7 1610.8,1134.0 1613.0,1136.2 1615.3,1138.5 1617.5,1140.0 1619.7,1142.1 1622.0,1144.1 1624.2,1145.6 1626.5,1147.6 1628.7,1149.8 1630.9,1152.4 1633.2,1154.0 1635.4,1155.6 1637.7,1157.3 1639.9,1159.2 1642.2,1161.3 1644.4,1162.8 1646.6,1164.4 1648.9,1167.2 1651.1,1169.2 1653.4,1171.0 1655.6,1173.5 1657.8,1175.5 1660.1,1177.0 1662.3,1178.9 1664.6,1180.6 1666.8,1182.6 1669.0,1185.3 1671.3,1187.7 1673.5,1190.1 1675.8,1192.0 1678.0,1193.6 1680.2,1196.4 1682.5,1198.2 1684.7,1199.4 1687.0,1202.1 1689.2,1204.7 1691.4,1206.5 1693.7,1207.8 1695.9,1209.8 1698.2,1211.5 1700.4,1212.9 1702.6,1215.3 1704.9,1218.1 1707.1,1220.3 1709.4,1221.7 1711.6,1223.7 1713.8,1226.1 1716.1,1227.9 1718.3,1229.7 1720.6,1231.8 1722.8,1233.5 1725.0,1235.4 1727.3,1237.7 1729.5,1240.1 1731.8,1242.1 1734.0,1243.9 1736.2,1245.5 1738.5,1247.5 1740.7,1249.8 1743.0,1251.6 1745.2,1254.2 1747.5,1256.1 1749.7,1257.0 1751.9,1259.3 1754.2,1261.6 1756.4,1263.5 1758.7,1265.9 1760.9,1267.6 1763.1,1269.3 1765.4,1271.3 1767.6,1273.5 1769.9,1275.2 1772.1,1276.9 1774.3,1279.3 1776.6,1281.5 1778.8,1283.1 1781.1,1285.2 1783.3,1287.9 1785.5,1290.0 1787.8,1292.2 1790.0,1293.7 1792.3,1295.4 1794.5,1298.4 1796.7,1300.6 1799.0,1302.1 1801.2,1304.0 1803.5,1306.2 1805.7,1308.6 1807.9,1310.9 1810.2,1312.7 1812.4,1314.4 1814.7,1316.7 1816.9,1319.1 1819.1,1321.3 1821.4,1323.6 1823.6,1325.8 1825.9,1327.8 1828.1,1329.8 1830.3,1332.1 1832.6,1334.3 1834.8,1336.4 1837.1,1338.5 1839.3,1340.5 1841.5,1342.5 1843.8,1344.9 1846.0,1347.0 1848.3,1349.4 1850.5,1351.6 1852.8,1353.8 1855.0,1356.2 1857.2,1358.1 1859.5,1360.0 1861.7,1362.3 1864.0,1364.5 1866.2,1366.8 1868.4,1369.1 1870.7,1371.5 1872.9,1373.7 1875.2,1376.0 1877.4,1377.9 1879.6,1379.9 1881.9,1382.2 1884.1,1384.5 1886.4,1386.5 1888.6,1388.4 1890.8,1390.7 1893.1,1392.8 1895.3,1394.9 1897.6,1397.1 1899.8,1399.6 1902.0,1401.9 1904.3,1403.6 1906.5,1405.5 1908.8,1407.5 1911.0,1409.9 1913.2,1412.3 1915.5,1414.6 1917.7,1417.0 1920.0,1419.0 1922.2,1421.1 1924.4,1423.0 1926.7,1424.8 1928.9,1426.9 1931.2,1429.3 1933.4,1431.2 1935.6,1433.0 1937.9,1435.5 1940.1,1437.3 1942.4,1439.2 1944.6,1441.3 1946.9,1443.5 1949.1,1445.6 1951.3,1447.5 1953.6,1449.7 1955.8,1451.7 1958.1,1453.3 1960.3,1455.3 1962.5,1457.3 1964.8,1459.4 1967.0,1461.4 1969.3,1463.1 1971.5,1465.0 1973.7,1467.1 1976.0,1469.3 1978.2,1471.2 1980.5,1473.0 1982.7,1475.3 1984.9,1477.1 1987.2,1478.7 1989.4,1480.9 1991.7,1483.1 1993.9,1484.8 1996.1,1486.4 1998.4,1488.7 2000.6,1490.9 2002.9,1492.6 2005.1,1494.6 2007.3,1496.7 2009.6,1498.5 2011.8,1500.5 2014.1,1502.5 2016.3,1504.4 2018.5,1506.1 2020.8,1507.9 2023.0,1509.8 2025.3,1511.8 2027.5,1513.8 2029.7,1515.7 2032.0,1517.6 2034.2,1519.7 2036.5,1521.7 2038.7,1523.8 2040.9,1525.6 2043.2,1527.4 2045.4,1529.5 2047.7,1531.4 2049.9,1533.1 2052.2,1535.1 2054.4,1536.9 2056.6,1538.7 2058.9,1540.5 2061.1,1542.2 2063.4,1543.8 2065.6,1545.6 2067.8,1547.6 2070.1,1549.4 2072.3,1551.1 2074.6,1553.0 2076.8,1554.7 2079.0,1556.3 2081.3,1558.0 2083.5,1559.7 2085.8,1561.7 2088.0,1563.5 2090.2,1565.1 2092.5,1567.0 2094.7,1568.9 2097.0,1570.3 2099.2,1572.2 2101.4,1574.2 2103.7,1576.0 2105.9,1577.7 2108.2,1579.5 2110.4,1581.4 2112.6,1583.2 2114.9,1585.2 2117.1,1587.2 2119.4,1589.1 2121.6,1591.0 2123.8,1592.9 2126.1,1594.8 2128.3,1596.9 2130.6,1598.9 2132.8,1601.1 2135.0,1603.5 2137.3,1605.8 2139.5,1608.2 2141.8,1610.8 2144.0,1613.4 2146.2,1616.2 2148.5,1619.1 2150.7,1622.1 2153.0,1625.4 2155.2,1629.0 2157.5,1632.8 2159.7,1637.4 2161.9,1651.7" stroke="#9656a6" stroke-width="6.94" stroke-linecap="square"/>
<polyline points="400.6,1780.0 401.0,1773.1 401.4,1766.3 401.8,1759.7 402.2,1753.3 402.6,1747.4 403.0,1741.2 403.4,1735.8 403.8,1730.1 404.2,1725.2 404.6,1720.4 405.1,1715.9 405.5,1711.5 405.9,1706.5 406.3,1702.5 406.7,1698.0 407.1,1695.4 407.5,1691.8 407.9,1689.7 408.3,1686.8 408.7,1684.3 409.1,1680.9 409.5,1676.8 410.0,1672.9 410.4,1669.6 410.8,1667.5 411.2,1664.0 411.6,1662.0 412.0,1658.8 412.4,1656.5 412.8,1652.8 413.2,1649.2 413.6,1645.9 414.0,1641.6 414.4,1639.5 414.8,1636.4 415.3,1633.5 415.7,1630.6 416.1,1627.1 416.5,1625.8 416.9,1622.5 417.3,1620.1 417.7,1617.9 418.1,1615.8 418.5,1614.1 418.9,1610.9 419.3,1608.7 419.7,1606.4 420.2,1604.3 420.6,1602.2 421.0,1599.2 421.4,1597.0 421.8,1595.3 422.2,1593.3 422.6,1591.1 423.0,1588.6 423.4,1587.7 423.8,1586.4 424.2,1584.4 424.6,1583.1 425.1,1581.3 425.5,1579.5 425.9,1577.3 426.3,1575.0 426.7,1572.2 427.1,1570.0 427.5,1567.0 427.9,1564.4 428.3,1561.5 428.7,1558.4 429.1,1556.6 429.5,1553.4 429.9,1552.0 430.4,1550.5 430.8,1548.5 431.2,1548.4 431.6,1546.2 432.0,1544.0 432.4,1540.5 432.8,1538.1 433.2,1535.7 433.6,1533.3 434.0,1532.0 434.4,1530.5 434.8,1528.6 435.3,1526.3 435.7,1524.5 436.1,1521.5 436.5,1519.5 436.9,1517.5 437.3,1517.2 437.7,1513.9 438.1,1511.5 438.5,1510.0 438.9,1507.8 439.3,1505.8 439.7,1502.1 440.1,1502.1 440.6,1500.9 441.0,1499.6 441.4,1496.9 441.8,1494.7 442.2,1493.9 442.6,1491.9 443.0,1489.4 443.4,1486.1 443.8,1484.3 444.2,1482.9 444.6,1481.0 445.0,1478.3 445.5,1477.3 445.9,1476.2 446.3,1474.8 446.7,1473.4 447.1,1472.3 447.5,1471.8 447.9,1469.7 448.3,1468.5 448.7,1467.6 449.1,1466.5 449.5,1465.0 449.9,1463.2 450.3,1462.1 450.8,1460.9 451.2,1460.1 451.6,1458.5 452.0,1457.6 452.4,1456.3 452.8,1454.2 453.2,1453.2 453.6,1450.7 454.0,1449.8 454.4,1448.4 454.8,1447.9 455.2,1447.7 455.7,1446.3 456.1,1445.8 456.5,1444.1 456.9,1443.2 457.3,1441.6 457.7,1440.2 458.1,1439.1 458.5,1438.2 458.9,1436.4 459.3,1435.5 459.7,1435.1 460.1,1434.2 460.5,1433.0 461.0,1431.3 461.4,1430.3 461.8,1430.3 462.2,1428.9 462.6,1427.7 463.0,1426.7 463.4,1425.8 463.8,1426.0 464.2,1423.8 464.6,1423.3 465.0,1421.1 465.4,1420.1 465.9,1419.3 466.3,1417.7 466.7,1416.4 467.1,1414.1 467.5,1413.6 467.9,1411.6 468.3,1410.3 468.7,1408.4 469.1,1407.3 469.5,1406.2 469.9,1405.0 470.3,1403.0 470.8,1401.9 471.2,1400.9 471.6,1399.6 472.0,1398.6 472.4,1397.5 472.8,1397.6 473.2,1396.6 473.6,1396.0 474.0,1394.7 474.4,1393.9 474.8,1392.0 475.2,1390.6 475.6,1389.5 476.1,1388.4 476.5,1386.4 476.9,1385.1 477.3,1384.2 477.7,1383.7 478.1,1381.6 478.5,1380.3 478.9,1379.6 479.3,1377.2 479.7,1376.1 480.1,1374.7 480.5,1373.2 481.0,1371.9 481.4,1370.8 481.8,1370.4 482.2,1369.7 482.6,1367.0 483.0,1365.4 483.4,1363.7 483.8,1362.8 484.2,1361.4 484.6,1359.9 485.0,1359.5 485.4,1357.9 485.8,1356.5 486.3,1355.0 486.7,1353.0 487.1,1351.7 487.5,1351.1 487.9,1350.6 488.3,1349.1 488.7,1346.7 489.1,1346.8 489.5,1345.8 489.9,1344.1 490.3,1343.1 490.7,1342.8 491.2,1342.4 491.6,1340.4 492.0,1340.1 492.4,1339.5 492.8,1337.7 493.2,1337.0 493.6,1337.3 494.0,1336.9 494.4,1335.1 494.8,1334.1 495.2,1334.7 495.6,1333.4 496.0,1331.8 496.5,1330.9 496.9,1330.0 497.3,1330.1 497.7,1329.1 498.1,1328.9 498.5,1328.8 498.9,1328.5 499.3,1327.6 499.7,1324.9 500.1,1322.9 500.5,1321.1 500.9,1318.5 501.4,1316.4 501.8,1314.9 502.2,1314.4 502.6,1313.9 503.0,1312.4 503.4,1310.9 503.8,1310.2 504.2,1309.3 504.6,1308.5 505.0,1306.4 505.4,1305.5 505.8,1305.0 506.2,1302.6 508.5,1295.1 510.7,1288.2 513.0,1282.3 515.2,1278.1 517.5,1273.9 519.7,1270.4 521.9,1264.7 524.2,1262.1 526.4,1258.3 528.7,1252.1 530.9,1244.4 533.1,1239.5 535.4,1235.7 537.6,1230.8 539.9,1227.1 542.1,1220.8 544.3,1214.7 546.6,1209.7 548.8,1205.9 551.1,1203.2 553.3,1196.4 555.5,1189.4 557.8,1184.4 560.0,1180.4 562.3,1175.2 564.5,1170.3 566.7,1166.6 569.0,1162.6 571.2,1159.3 573.5,1155.0 575.7,1149.3 577.9,1146.7 580.2,1144.5 582.4,1140.0 584.7,1133.8 586.9,1131.8 589.1,1128.8 591.4,1123.5 593.6,1117.9 595.9,1112.5 598.1,1110.5 600.3,1108.5 602.6,1105.3 604.8,1100.4 607.1,1094.6 609.3,1089.7 611.6,1087.6 613.8,1086.5 616.0,1081.7 618.3,1077.1 620.5,1075.3 622.8,1073.2 625.0,1070.1 627.2,1067.5 629.5,1064.1 631.7,1060.3 634.0,1058.5 636.2,1057.2 638.4,1055.5 640.7,1052.7 642.9,1049.9 645.2,1049.2 647.4,1046.2 649.6,1041.5 651.9,1039.2 654.1,1038.2 656.4,1036.8 658.6,1033.2 660.8,1029.4 663.1,1027.9 665.3,1027.4 667.6,1025.1 669.8,1022.2 672.0,1018.6 674.3,1015.8 676.5,1014.7 678.8,1013.6 681.0,1011.3 683.2,1009.3 685.5,1006.5 687.7,1003.4 690.0,1002.2 692.2,999.8 694.4,995.7 696.7,994.2 698.9,993.5 701.2,990.8 703.4,987.8 705.6,984.9 707.9,982.6 710.1,980.0 712.4,977.2 714.6,975.4 716.9,971.9 719.1,971.0 721.3,970.6 723.6,967.3 725.8,965.4 728.1,963.9 730.3,959.4 732.5,957.4 734.8,957.0 737.0,953.7 739.3,951.3 741.5,950.7 743.7,948.5 746.0,944.6 748.2,943.1 750.5,942.2 752.7,940.8 754.9,940.5 757.2,939.7 759.4,937.7 761.7,935.9 763.9,936.5 766.1,935.4 768.4,933.3 770.6,932.4 772.9,931.0 775.1,931.3 777.3,930.8 779.6,928.7 781.8,927.5 784.1,925.7 786.3,923.4 788.5,921.9 790.8,919.2 793.0,918.6 795.3,916.6 797.5,914.2 799.7,913.6 802.0,912.2 804.2,912.9 806.5,912.3 808.7,910.9 810.9,909.4 813.2,908.1 815.4,908.5 817.7,906.9 819.9,904.6 822.2,906.4 824.4,906.9 826.6,905.4 828.9,904.0 831.1,902.6 833.4,901.8 835.6,900.0 837.8,899.9 840.1,900.0 842.3,898.1 844.6,896.7 846.8,896.2 849.0,896.2 851.3,893.8 853.5,892.7 855.8,893.3 858.0,893.1 860.2,892.8 862.5,893.0 864.7,893.3 867.0,892.4 869.2,891.2 871.4,890.1 873.7,889.9 875.9,890.6 878.2,890.1 880.4,889.7 882.6,889.3 884.9,888.0 887.1,887.7 889.4,888.4 891.6,887.1 893.8,885.3 896.1,884.3 898.3,882.8 900.6,879.4 902.8,878.1 905.0,877.1 907.3,875.8 909.5,875.1 911.8,875.1 914.0,874.9 916.2,875.4 918.5,875.8 920.7,874.8 923.0,874.2 925.2,874.0 927.5,873.2 929.7,872.4 931.9,872.7 934.2,871.1 936.4,871.3 938.7,872.3 940.9,871.0 943.1,870.7 945.4,870.4 947.6,870.5 949.9,870.3 952.1,869.3 954.3,870.7 956.6,871.0 958.8,869.4 961.1,869.5 963.3,869.1 965.5,868.7 967.8,868.6 970.0,868.1 972.3,867.4 974.5,866.6 976.7,866.1 979.0,865.6 981.2,866.0 983.5,866.4 985.7,865.8 987.9,864.9 990.2,864.8 992.4,865.8 994.7,865.1 996.9,863.7 999.1,863.1 1001.4,863.3 1003.6,863.3 1005.9,862.0 1008.1,861.3 1010.3,859.2 1012.6,857.8 1014.8,857.9 1017.1,857.8 1019.3,857.3 1021.6,856.2 1023.8,855.0 1026.0,854.8 1028.3,855.7 1030.5,855.7 1032.8,856.3 1035.0,857.2 1037.2,856.0 1039.5,855.2 1041.7,855.5 1044.0,855.5 1046.2,855.9 1048.4,856.3 1050.7,856.0 1052.9,856.2 1055.2,856.2 1057.4,856.0 1059.6,855.0 1061.9,855.6 1064.1,855.3 1066.4,855.1 1068.6,855.8 1070.8,854.9 1073.1,854.8 1075.3,855.8 1077.6,858.1 1079.8,858.6 1082.0,857.3 1084.3,855.9 1086.5,856.6 1088.8,858.0 1091.0,857.7 1093.2,857.0 1095.5,857.1 1097.7,857.4 1100.0,858.1 1102.2,860.1 1104.4,859.8 1106.7,859.8 1108.9,859.6 1111.2,859.4 1113.4,859.6 1115.6,860.4 1117.9,861.3 1120.1,861.4 1122.4,860.7 1124.6,860.9 1126.9,861.7 1129.1,861.2 1131.3,861.9 1133.6,863.4 1135.8,862.8 1138.1,864.4 1140.3,865.4 1142.5,865.3 1144.8,866.9 1147.0,867.7 1149.3,868.7 1151.5,869.8 1153.7,870.2 1156.0,872.4 1158.2,875.4 1160.5,875.3 1162.7,875.8 1164.9,876.7 1167.2,877.1 1169.4,878.0 1171.7,878.4 1173.9,880.2 1176.1,881.7 1178.4,880.3 1180.6,880.8 1182.9,882.4 1185.1,881.5 1187.3,881.7 1189.6,884.0 1191.8,884.3 1194.1,884.3 1196.3,885.7 1198.5,886.3 1200.8,886.6 1203.0,888.2 1205.3,888.2 1207.5,887.5 1209.7,888.2 1212.0,888.8 1214.2,889.6 1216.5,890.4 1218.7,891.2 1220.9,891.1 1223.2,891.1 1225.4,891.3 1227.7,892.2 1229.9,894.0 1232.2,895.4 1234.4,896.5 1236.6,897.3 1238.9,896.3 1241.1,897.5 1243.4,899.9 1245.6,900.5 1247.8,900.3 1250.1,900.3 1252.3,901.5 1254.6,901.8 1256.8,902.7 1259.0,903.9 1261.3,903.8 1263.5,904.7 1265.8,906.3 1268.0,906.9 1270.2,907.4 1272.5,907.8 1274.7,909.1 1277.0,909.9 1279.2,910.5 1281.4,910.8 1283.7,911.7 1285.9,913.2 1288.2,914.5 1290.4,915.4 1292.6,916.3 1294.9,916.8 1297.1,916.9 1299.4,918.2 1301.6,918.5 1303.8,919.0 1306.1,920.1 1308.3,920.5 1310.6,922.4 1312.8,923.6 1315.0,925.1 1317.3,926.2 1319.5,926.4 1321.8,928.2 1324.0,929.8 1326.2,931.6 1328.5,934.1 1330.7,935.6 1333.0,937.1 1335.2,938.3 1337.5,938.5 1339.7,939.8 1341.9,941.6 1344.2,942.5 1346.4,942.7 1348.7,943.8 1350.9,945.7 1353.1,946.8 1355.4,946.2 1357.6,946.9 1359.9,948.0 1362.1,949.1 1364.3,950.9 1366.6,951.9 1368.8,952.2 1371.1,953.6 1373.3,955.6 1375.5,956.9 1377.8,957.9 1380.0,958.4 1382.3,959.9 1384.5,962.1 1386.7,963.7 1389.0,964.6 1391.2,965.6 1393.5,966.8 1395.7,967.9 1397.9,969.2 1400.2,969.8 1402.4,970.2 1404.7,972.9 1406.9,974.0 1409.1,975.3 1411.4,977.0 1413.6,978.5 1415.9,979.7 1418.1,980.1 1420.3,981.4 1422.6,982.9 1424.8,984.0 1427.1,985.3 1429.3,987.8 1431.5,989.6 1433.8,990.2 1436.0,991.9 1438.3,992.7 1440.5,993.8 1442.8,996.0 1445.0,997.6 1447.2,998.6 1449.5,1000.5 1451.7,1002.3 1454.0,1004.4 1456.2,1005.2 1458.4,1006.1 1460.7,1008.3 1462.9,1009.6 1465.2,1010.5 1467.4,1012.6 1469.6,1014.3 1471.9,1015.0 1474.1,1015.8 1476.4,1017.9 1478.6,1019.5 1480.8,1021.3 1483.1,1022.9 1485.3,1023.9 1487.6,1025.5 1489.8,1027.9 1492.0,1029.0 1494.3,1030.9 1496.5,1033.1 1498.8,1034.3 1501.0,1035.9 1503.2,1037.7 1505.5,1039.4 1507.7,1040.5 1510.0,1042.0 1512.2,1043.2 1514.4,1044.5 1516.7,1046.2 1518.9,1048.3 1521.2,1050.3 1523.4,1051.9 1525.6,1052.6 1527.9,1053.6 1530.1,1055.6 1532.4,1057.6 1534.6,1060.1 1536.9,1061.6 1539.1,1063.0 1541.3,1065.5 1543.6,1067.6 1545.8,1068.9 1548.1,1070.6 1550.3,1071.8 1552.5,1072.9 1554.8,1075.0 1557.0,1076.9 1559.3,1078.6 1561.5,1081.1 1563.7,1083.4 1566.0,1084.6 1568.2,1085.9 1570.5,1088.4 1572.7,1089.9 1574.9,1091.2 1577.2,1093.5 1579.4,1095.0 1581.7,1096.0 1583.9,1098.4 1586.1,1100.7 1588.4,1102.1 1590.6,1104.0 1592.9,1105.8 1595.1,1107.9 1597.3,1110.2 1599.6,1111.5 1601.8,1113.0 1604.1,1114.6 1606.3,1116.4 1608.5,1119.0 1610.8,1120.6 1613.0,1122.1 1615.3,1123.9 1617.5,1125.5 1619.7,1127.4 1622.0,1129.5 1624.2,1131.7 1626.5,1133.5 1628.7,1135.3 1630.9,1138.1 1633.2,1139.8 1635.4,1141.0 1637.7,1143.4 1639.9,1145.5 1642.2,1146.7 1644.4,1148.7 1646.6,1150.7 1648.9,1152.6 1651.1,1154.5 1653.4,1156.6 1655.6,1159.5 1657.8,1161.6 1660.1,1162.9 1662.3,1164.7 1664.6,1166.9 1666.8,1168.7 1669.0,1170.4 1671.3,1172.9 1673.5,1175.0 1675.8,1177.1 1678.0,1179.3 1680.2,1181.2 1682.5,1183.4 1684.7,1185.8 1687.0,1187.8 1689.2,1189.5 1691.4,1190.9 1693.7,1193.6 1695.9,1196.3 1698.2,1198.5 1700.4,1200.9 1702.6,1202.5 1704.9,1203.5 1707.1,1205.7 1709.4,1208.2 1711.6,1210.6 1713.8,1212.4 1716.1,1213.5 1718.3,1216.1 1720.6,1218.7 1722.8,1220.3 1725.0,1222.4 1727.3,1225.3 1729.5,1227.4 1731.8,1229.6 1734.0,1231.4 1736.2,1233.0 1738.5,1235.0 1740.7,1237.1 1743.0,1239.4 1745.2,1241.7 1747.5,1243.8 1749.7,1245.9 1751.9,1248.5 1754.2,1249.9 1756.4,1252.3 1758.7,1254.9 1760.9,1256.6 1763.1,1258.9 1765.4,1260.8 1767.6,1262.7 1769.9,1264.6 1772.1,1267.1 1774.3,1269.5 1776.6,1271.2 1778.8,1273.2 1781.1,1275.5 1783.3,1278.4 1785.5,1280.5 1787.8,1282.2 1790.0,1284.5 1792.3,1286.6 1794.5,1288.4 1796.7,1290.6 1799.0,1292.5 1801.2,1294.3 1803.5,1297.1 1805.7,1299.8 1807.9,1301.7 1810.2,1303.6 1812.4,1306.1 1814.7,1308.1 1816.9,1309.8 1819.1,1311.8 1821.4,1314.2 1823.6,1316.7 1825.9,1319.1 1828.1,1321.3 1830.3,1323.2 1832.6,1325.1 1834.8,1327.4 1837.1,1330.1 1839.3,1332.2 1841.5,1334.4 1843.8,1337.1 1846.0,1339.1 1848.3,1341.1 1850.5,1343.4 1852.8,1345.9 1855.0,1348.2 1857.2,1350.5 1859.5,1353.0 1861.7,1355.1 1864.0,1356.8 1866.2,1359.1 1868.4,1361.5 1870.7,1363.8 1872.9,1366.0 1875.2,1368.5 1877.4,1371.1 1879.6,1373.3 1881.9,1375.5 1884.1,1377.6 1886.4,1380.0 1888.6,1382.6 1890.8,1385.1 1893.1,1387.6 1895.3,1389.5 1897.6,1391.6 1899.8,1393.8 1902.0,1396.0 1904.3,1398.2 1906.5,1400.2 1908.8,1402.4 1911.0,1404.6 1913.2,1407.1 1915.5,1409.4 1917.7,1411.5 1920.0,1413.9 1922.2,1416.1 1924.4,1418.1 1926.7,1420.3 1928.9,1422.3 1931.2,1424.4 1933.4,1426.9 1935.6,1429.1 1937.9,1430.9 1940.1,1433.0 1942.4,1435.1 1944.6,1437.1 1946.9,1439.5 1949.1,1441.6 1951.3,1443.3 1953.6,1445.2 1955.8,1447.3 1958.1,1449.4 1960.3,1451.4 1962.5,1453.4 1964.8,1455.7 1967.0,1458.0 1969.3,1459.6 1971.5,1461.5 1973.7,1463.8 1976.0,1465.8 1978.2,1467.6 1980.5,1469.8 1982.7,1471.8 1984.9,1473.7 1987.2,1475.6 1989.4,1477.6 1991.7,1479.7 1993.9,1481.6 1996.1,1483.6 1998.4,1485.7 2000.6,1487.9 2002.9,1489.9 2005.1,1491.8 2007.3,1493.7 2009.6,1495.7 2011.8,1497.7 2014.1,1499.8 2016.3,1501.6 2018.5,1503.6 2020.8,1505.8 2023.0,1507.7 2025.3,1509.5 2027.5,1511.5 2029.7,1513.6 2032.0,1515.7 2034.2,1517.6 2036.5,1519.5 2038.7,1521.5 2040.9,1523.5 2043.2,1525.3 2045.4,1527.2 2047.7,1529.2 2049.9,1531.0 2052.2,1533.1 2054.4,1535.1 2056.6,1536.7 2058.9,1538.6 2061.1,1540.5 2063.4,1542.5 2065.6,1544.3 2067.8,1546.1 2070.1,1547.8 2072.3,1549.6 2074.6,1551.4 2076.8,1553.1 2079.0,1555.0 2081.3,1556.8 2083.5,1558.7 2085.8,1560.3 2088.0,1562.2 2090.2,1564.0 2092.5,1565.8 2094.7,1567.7 2097.0,1569.5 2099.2,1571.2 2101.4,1573.0 2103.7,1574.9 2105.9,1576.8 2108.2,1578.6 2110.4,1580.5 2112.6,1582.4 2114.9,1584.4 2117.1,1586.4 2119.4,1588.3 2121.6,1590.3 2123.8,1592.2 2126.1,1594.2 2128.3,1596.4 2130.6,1598.5 2132.8,1600.7 2135.0,1603.0 2137.3,1605.4 2139.5,1607.8 2141.8,1610.3 2144.0,1613.1 2146.2,1615.9 2148.5,1618.8 2150.7,1621.8 2153.0,1625.1 2155.2,1628.7 2157.5,1632.6 2159.7,1637.2 2161.9,1651.7" stroke="#77ab5d" stroke-width="6.94" stroke-linecap="square"/>
<polyline points="400.6,1780.0 401.0,1775.2 401.4,1770.6 401.8,1766.2 402.2,1762.1 402.6,1758.4 403.0,1755.1 403.4,1752.1 403.8,1749.5 404.2,1747.2 404.6,1745.0 405.1,1743.0 405.5,1741.3 405.9,1739.7 406.3,1737.9 406.7,1736.4 407.1,1734.9 407.5,1733.5 407.9,1732.2 408.3,1731.0 408.7,1729.6 409.1,1728.2 409.5,1727.0 410.0,1725.9 410.4,1724.6 410.8,1723.4 411.2,1722.3 411.6,1721.2 412.0,1720.2 412.4,1719.1 412.8,1718.1 413.2,1717.2 413.6,1716.2 414.0,1715.3 414.4,1714.4 414.8,1713.3 415.3,1712.4 415.7,1711.4 416.1,1710.5 416.5,1709.6 416.9,1708.5 417.3,1707.6 417.7,1706.5 418.1,1705.5 418.5,1704.4 418.9,1703.4 419.3,1702.6 419.7,1701.7 420.2,1700.7 420.6,1700.0 421.0,1699.3 421.4,1698.5 421.8,1697.5 422.2,1696.6 422.6,1695.7 423.0,1694.6 423.4,1693.8 423.8,1693.0 424.2,1692.4 424.6,1691.7 425.1,1690.8 425.5,1690.0 425.9,1689.0 426.3,1688.1 426.7,1687.2 427.1,1686.3 427.5,1685.5 427.9,1684.7 428.3,1683.9 428.7,1683.1 429.1,1682.1 429.5,1681.2 429.9,1680.3 430.4,1679.2 430.8,1678.4 431.2,1677.5 431.6,1676.6 432.0,1676.0 432.4,1675.4 432.8,1674.7 433.2,1674.1 433.6,1673.3 434.0,1672.7 434.4,1671.8 434.8,1670.9 435.3,1670.0 435.7,1669.0 436.1,1668.2 436.5,1667.4 436.9,1666.5 437.3,1665.8 437.7,1665.2 438.1,1664.4 438.5,1663.4 438.9,1662.7 439.3,1662.0 439.7,1661.3 440.1,1660.3 440.6,1659.4 441.0,1658.6 441.4,1657.4 441.8,1656.5 442.2,1655.4 442.6,1654.5 443.0,1653.7 443.4,1652.8 443.8,1652.1 444.2,1651.2 444.6,1650.6 445.0,1649.8 445.5,1648.9 445.9,1648.1 446.3,1647.1 446.7,1646.4 447.1,1645.5 447.5,1644.8 447.9,1643.9 448.3,1643.3 448.7,1642.5 449.1,1641.6 449.5,1640.7 449.9,1639.9 450.3,1639.3 450.8,1638.6 451.2,1637.8 451.6,1637.1 452.0,1636.7 452.4,1636.1 452.8,1635.3 453.2,1634.5 453.6,1633.8 454.0,1633.0 454.4,1632.1 454.8,1631.2 455.2,1630.4 455.7,1629.5 456.1,1628.9 456.5,1628.1 456.9,1627.3 457.3,1626.6 457.7,1626.1 458.1,1625.6 458.5,1624.8 458.9,1624.2 459.3,1623.5 459.7,1622.8 460.1,1622.2 460.5,1621.5 461.0,1620.9 461.4,1620.3 461.8,1619.7 462.2,1618.9 462.6,1618.2 463.0,1617.5 463.4,1616.9 463.8,1616.3 464.2,1615.7 464.6,1615.0 465.0,1614.5 465.4,1613.8 465.9,1613.1 466.3,1612.5 466.7,1612.0 467.1,1611.3 467.5,1610.7 467.9,1609.9 468.3,1609.4 468.7,1608.7 469.1,1608.1 469.5,1607.5 469.9,1606.7 470.3,1606.3 470.8,1605.8 471.2,1605.2 471.6,1604.6 472.0,1604.0 472.4,1603.5 472.8,1602.8 473.2,1602.1 473.6,1601.5 474.0,1600.8 474.4,1600.2 474.8,1599.5 475.2,1598.8 475.6,1598.2 476.1,1597.5 476.5,1596.9 476.9,1596.5 477.3,1596.0 477.7,1595.4 478.1,1594.7 478.5,1594.2 478.9,1593.6 479.3,1592.9 479.7,1592.2 480.1,1591.7 480.5,1591.2 481.0,1590.7 481.4,1590.2 481.8,1589.7 482.2,1589.1 482.6,1588.3 483.0,1587.6 483.4,1587.0 483.8,1586.3 484.2,1585.6 484.6,1585.0 485.0,1584.4 485.4,1583.8 485.8,1583.1 486.3,1582.5 486.7,1581.9 487.1,1581.3 487.5,1580.8 487.9,1580.4 488.3,1579.7 488.7,1579.3 489.1,1578.9 489.5,1578.4 489.9,1577.7 490.3,1577.1 490.7,1576.7 491.2,1576.1 491.6,1575.4 492.0,1574.8 492.4,1574.2 492.8,1573.7 493.2,1573.2 493.6,1572.6 494.0,1572.1 494.4,1571.8 494.8,1571.3 495.2,1570.9 495.6,1570.5 496.0,1570.1 496.5,1569.4 496.9,1568.8 497.3,1568.5 497.7,1568.0 498.1,1567.5 498.5,1567.0 498.9,1566.6 499.3,1566.1 499.7,1565.6 500.1,1565.1 500.5,1564.4 500.9,1564.0 501.4,1563.5 501.8,1563.1 502.2,1562.7 502.6,1562.4 503.0,1562.2 503.4,1561.7 503.8,1561.3 504.2,1560.8 504.6,1560.3 505.0,1559.9 505.4,1559.3 505.8,1558.9 506.2,1558.2 508.5,1555.6 510.7,1553.3 513.0,1550.5 515.2,1548.4 517.5,1546.3 519.7,1544.0 521.9,1541.7 524.2,1539.8 526.4,1537.8 528.7,1535.4 530.9,1533.8 533.1,1532.3 535.4,1530.2 537.6,1528.4 539.9,1526.7 542.1,1524.7 544.3,1522.8 546.6,1521.6 548.8,1520.0 551.1,1518.1 553.3,1516.6 555.5,1514.7 557.8,1512.9 560.0,1511.1 562.3,1509.5 564.5,1508.1 566.7,1506.7 569.0,1505.3 571.2,1503.8 573.5,1502.4 575.7,1500.5 577.9,1498.7 580.2,1496.5 582.4,1494.5 584.7,1492.8 586.9,1490.8 589.1,1488.6 591.4,1486.3 593.6,1484.2 595.9,1482.0 598.1,1480.0 600.3,1478.2 602.6,1476.3 604.8,1474.6 607.1,1472.8 609.3,1470.9 611.6,1469.0 613.8,1467.2 616.0,1465.4 618.3,1463.3 620.5,1461.4 622.8,1459.7 625.0,1457.7 627.2,1455.7 629.5,1453.9 631.7,1452.7 634.0,1451.0 636.2,1449.1 638.4,1447.3 640.7,1445.7 642.9,1444.1 645.2,1442.4 647.4,1440.4 649.6,1438.9 651.9,1437.2 654.1,1435.2 656.4,1433.7 658.6,1431.9 660.8,1430.6 663.1,1429.0 665.3,1427.0 667.6,1425.2 669.8,1423.8 672.0,1422.6 674.3,1421.4 676.5,1419.8 678.8,1418.3 681.0,1417.3 683.2,1416.3 685.5,1414.8 687.7,1413.0 690.0,1411.8 692.2,1410.7 694.4,1409.0 696.7,1407.4 698.9,1405.6 701.2,1403.9 703.4,1402.6 705.6,1401.4 707.9,1399.9 710.1,1398.5 712.4,1396.9 714.6,1395.7 716.9,1394.1 719.1,1392.7 721.3,1391.5 723.6,1390.1 725.8,1389.2 728.1,1388.6 730.3,1387.7 732.5,1386.4 734.8,1384.9 737.0,1383.6 739.3,1382.3 741.5,1381.4 743.7,1380.6 746.0,1379.6 748.2,1378.2 750.5,1377.2 752.7,1376.5 754.9,1375.4 757.2,1374.3 759.4,1373.0 761.7,1372.5 763.9,1371.5 766.1,1370.3 768.4,1369.3 770.6,1367.8 772.9,1367.1 775.1,1366.4 777.3,1365.2 779.6,1364.1 781.8,1363.2 784.1,1362.4 786.3,1361.4 788.5,1360.2 790.8,1359.3 793.0,1358.4 795.3,1357.2 797.5,1355.9 799.7,1355.0 802.0,1354.6 804.2,1353.7 806.5,1353.1 808.7,1352.2 810.9,1350.8 813.2,1349.9 815.4,1349.1 817.7,1348.3 819.9,1347.5 822.2,1346.7 824.4,1346.0 826.6,1345.2 828.9,1344.4 831.1,1343.4 833.4,1342.2 835.6,1341.6 837.8,1340.4 840.1,1339.8 842.3,1339.0 844.6,1337.7 846.8,1336.7 849.0,1335.9 851.3,1335.1 853.5,1334.2 855.8,1333.3 858.0,1332.3 860.2,1331.1 862.5,1330.4 864.7,1329.6 867.0,1328.5 869.2,1327.9 871.4,1327.7 873.7,1326.9 875.9,1325.7 878.2,1325.3 880.4,1324.6 882.6,1323.6 884.9,1323.1 887.1,1322.8 889.4,1322.1 891.6,1321.8 893.8,1321.4 896.1,1320.7 898.3,1320.2 900.6,1319.6 902.8,1318.8 905.0,1318.5 907.3,1318.1 909.5,1317.4 911.8,1316.9 914.0,1316.4 916.2,1315.4 918.5,1315.0 920.7,1314.6 923.0,1314.0 925.2,1313.6 927.5,1312.3 929.7,1311.7 931.9,1310.9 934.2,1309.5 936.4,1308.8 938.7,1308.2 940.9,1307.3 943.1,1306.7 945.4,1305.8 947.6,1304.7 949.9,1303.9 952.1,1303.3 954.3,1302.4 956.6,1301.6 958.8,1300.8 961.1,1300.1 963.3,1299.4 965.5,1298.7 967.8,1298.3 970.0,1297.8 972.3,1296.8 974.5,1296.2 976.7,1296.2 979.0,1295.6 981.2,1294.7 983.5,1294.1 985.7,1293.7 987.9,1292.9 990.2,1292.3 992.4,1292.0 994.7,1291.2 996.9,1290.5 999.1,1290.2 1001.4,1290.1 1003.6,1290.0 1005.9,1289.1 1008.1,1288.6 1010.3,1288.3 1012.6,1287.7 1014.8,1287.3 1017.1,1287.2 1019.3,1286.7 1021.6,1286.3 1023.8,1286.0 1026.0,1285.8 1028.3,1285.2 1030.5,1284.7 1032.8,1284.6 1035.0,1284.3 1037.2,1283.9 1039.5,1283.9 1041.7,1283.8 1044.0,1283.4 1046.2,1283.1 1048.4,1283.0 1050.7,1283.0 1052.9,1282.5 1055.2,1281.9 1057.4,1281.7 1059.6,1281.6 1061.9,1281.5 1064.1,1281.4 1066.4,1281.1 1068.6,1281.0 1070.8,1280.7 1073.1,1280.5 1075.3,1280.5 1077.6,1280.4 1079.8,1280.0 1082.0,1279.9 1084.3,1279.9 1086.5,1279.7 1088.8,1279.6 1091.0,1279.4 1093.2,1279.1 1095.5,1279.0 1097.7,1278.9 1100.0,1278.7 1102.2,1278.4 1104.4,1278.3 1106.7,1278.2 1108.9,1277.9 1111.2,1277.7 1113.4,1277.6 1115.6,1277.3 1117.9,1277.1 1120.1,1276.9 1122.4,1277.0 1124.6,1276.9 1126.9,1276.6 1129.1,1276.4 1131.3,1276.5 1133.6,1276.4 1135.8,1276.4 1138.1,1276.4 1140.3,1276.4 1142.5,1276.2 1144.8,1275.9 1147.0,1275.9 1149.3,1275.9 1151.5,1275.9 1153.7,1275.9 1156.0,1276.0 1158.2,1276.1 1160.5,1276.1 1162.7,1275.7 1164.9,1275.3 1167.2,1275.5 1169.4,1275.7 1171.7,1275.7 1173.9,1276.0 1176.1,1275.9 1178.4,1275.8 1180.6,1275.8 1182.9,1275.8 1185.1,1275.9 1187.3,1275.9 1189.6,1275.9 1191.8,1276.1 1194.1,1276.3 1196.3,1276.3 1198.5,1276.3 1200.8,1276.3 1203.0,1276.1 1205.3,1276.1 1207.5,1276.0 1209.7,1276.2 1212.0,1276.4 1214.2,1276.5 1216.5,1276.8 1218.7,1276.7 1220.9,1276.7 1223.2,1277.0 1225.4,1277.1 1227.7,1277.0 1229.9,1277.3 1232.2,1277.6 1234.4,1277.6 1236.6,1277.8 1238.9,1278.0 1241.1,1278.0 1243.4,1278.2 1245.6,1278.6 1247.8,1278.8 1250.1,1278.9 1252.3,1279.1 1254.6,1279.3 1256.8,1279.4 1259.0,1279.6 1261.3,1279.8 1263.5,1279.8 1265.8,1280.0 1268.0,1280.5 1270.2,1280.8 1272.5,1281.0 1274.7,1281.3 1277.0,1281.5 1279.2,1281.6 1281.4,1281.9 1283.7,1282.4 1285.9,1282.4 1288.2,1282.7 1290.4,1282.9 1292.6,1283.2 1294.9,1283.5 1297.1,1283.9 1299.4,1284.4 1301.6,1284.8 1303.8,1285.0 1306.1,1285.6 1308.3,1286.1 1310.6,1286.5 1312.8,1287.1 1315.0,1287.2 1317.3,1287.4 1319.5,1287.9 1321.8,1288.5 1324.0,1289.0 1326.2,1289.3 1328.5,1289.4 1330.7,1289.8 1333.0,1290.4 1335.2,1290.9 1337.5,1291.3 1339.7,1291.8 1341.9,1292.2 1344.2,1292.4 1346.4,1292.7 1348.7,1293.4 1350.9,1293.9 1353.1,1294.2 1355.4,1294.3 1357.6,1294.4 1359.9,1294.7 1362.1,1295.2 1364.3,1295.6 1366.6,1296.0 1368.8,1296.3 1371.1,1296.7 1373.3,1296.9 1375.5,1297.3 1377.8,1297.6 1380.0,1298.0 1382.3,1298.4 1384.5,1298.6 1386.7,1298.9 1389.0,1299.4 1391.2,1299.9 1393.5,1300.2 1395.7,1300.7 1397.9,1301.1 1400.2,1301.4 1402.4,1301.9 1404.7,1302.4 1406.9,1302.9 1409.1,1303.3 1411.4,1303.8 1413.6,1304.2 1415.9,1304.6 1418.1,1305.1 1420.3,1305.7 1422.6,1306.2 1424.8,1306.6 1427.1,1307.2 1429.3,1307.7 1431.5,1308.2 1433.8,1308.8 1436.0,1309.2 1438.3,1309.6 1440.5,1310.2 1442.8,1310.8 1445.0,1311.2 1447.2,1311.8 1449.5,1312.3 1451.7,1312.6 1454.0,1313.4 1456.2,1314.2 1458.4,1314.9 1460.7,1315.5 1462.9,1315.9 1465.2,1316.4 1467.4,1317.0 1469.6,1317.6 1471.9,1318.0 1474.1,1318.7 1476.4,1319.3 1478.6,1319.9 1480.8,1320.6 1483.1,1321.3 1485.3,1321.8 1487.6,1322.4 1489.8,1323.2 1492.0,1323.8 1494.3,1324.5 1496.5,1325.3 1498.8,1326.2 1501.0,1326.8 1503.2,1327.3 1505.5,1327.9 1507.7,1328.7 1510.0,1329.4 1512.2,1329.9 1514.4,1330.5 1516.7,1331.4 1518.9,1332.1 1521.2,1332.8 1523.4,1333.5 1525.6,1334.1 1527.9,1334.8 1530.1,1335.7 1532.4,1336.5 1534.6,1337.0 1536.9,1337.7 1539.1,1338.7 1541.3,1339.6 1543.6,1340.3 1545.8,1340.8 1548.1,1341.5 1550.3,1342.3 1552.5,1343.1 1554.8,1343.7 1557.0,1344.6 1559.3,1345.7 1561.5,1346.3 1563.7,1347.0 1566.0,1347.7 1568.2,1348.5 1570.5,1349.4 1572.7,1350.2 1574.9,1351.0 1577.2,1351.9 1579.4,1352.7 1581.7,1353.5 1583.9,1354.2 1586.1,1355.0 1588.4,1356.1 1590.6,1356.7 1592.9,1357.3 1595.1,1358.2 1597.3,1359.1 1599.6,1360.0 1601.8,1360.7 1604.1,1361.7 1606.3,1362.8 1608.5,1363.7 1610.8,1364.5 1613.0,1365.1 1615.3,1365.8 1617.5,1366.7 1619.7,1367.9 1622.0,1368.9 1624.2,1369.7 1626.5,1370.4 1628.7,1371.4 1630.9,1372.3 1633.2,1373.2 1635.4,1374.2 1637.7,1375.2 1639.9,1376.1 1642.2,1377.1 1644.4,1378.0 1646.6,1378.9 1648.9,1380.0 1651.1,1381.1 1653.4,1382.1 1655.6,1382.8 1657.8,1383.7 1660.1,1384.7 1662.3,1385.7 1664.6,1386.8 1666.8,1387.8 1669.0,1388.8 1671.3,1389.7 1673.5,1390.8 1675.8,1391.9 1678.0,1392.8 1680.2,1393.9 1682.5,1395.0 1684.7,1396.0 1687.0,1397.0 1689.2,1397.9 1691.4,1398.8 1693.7,1399.8 1695.9,1400.7 1698.2,1401.8 1700.4,1402.7 1702.6,1403.8 1704.9,1404.9 1707.1,1405.9 1709.4,1406.9 1711.6,1407.8 1713.8,1408.8 1716.1,1409.8 1718.3,1410.7 1720.6,1411.8 1722.8,1412.9 1725.0,1413.9 1727.3,1414.9 1729.5,1416.0 1731.8,1417.0 1734.0,1417.9 1736.2,1418.9 1738.5,1420.0 1740.7,1421.0 1743.0,1421.9 1745.2,1422.9 1747.5,1424.2 1749.7,1425.2 1751.9,1426.2 1754.2,1427.3 1756.4,1428.2 1758.7,1429.2 1760.9,1430.4 1763.1,1431.5 1765.4,1432.5 1767.6,1433.7 1769.9,1434.7 1772.1,1435.8 1774.3,1437.0 1776.6,1438.0 1778.8,1439.1 1781.1,1440.3 1783.3,1441.3 1785.5,1442.2 1787.8,1443.4 1790.0,1444.7 1792.3,1445.9 1794.5,1447.0 1796.7,1448.0 1799.0,1449.1 1801.2,1450.2 1803.5,1451.4 1805.7,1452.5 1807.9,1453.7 1810.2,1454.8 1812.4,1455.9 1814.7,1457.1 1816.9,1458.2 1819.1,1459.5 1821.4,1460.8 1823.6,1461.8 1825.9,1463.0 1828.1,1464.3 1830.3,1465.5 1832.6,1466.6 1834.8,1467.7 1837.1,1468.9 1839.3,1470.1 1841.5,1471.4 1843.8,1472.6 1846.0,1473.8 1848.3,1475.0 1850.5,1476.2 1852.8,1477.5 1855.0,1478.8 1857.2,1479.9 1859.5,1481.2 1861.7,1482.5 1864.0,1483.7 1866.2,1484.9 1868.4,1486.1 1870.7,1487.4 1872.9,1488.7 1875.2,1490.0 1877.4,1491.2 1879.6,1492.4 1881.9,1493.6 1884.1,1494.8 1886.4,1496.1 1888.6,1497.3 1890.8,1498.5 1893.1,1499.8 1895.3,1501.1 1897.6,1502.3 1899.8,1503.6 1902.0,1504.7 1904.3,1506.0 1906.5,1507.3 1908.8,1508.4 1911.0,1509.6 1913.2,1510.7 1915.5,1512.0 1917.7,1513.2 1920.0,1514.4 1922.2,1515.6 1924.4,1516.9 1926.7,1518.1 1928.9,1519.2 1931.2,1520.4 1933.4,1521.6 1935.6,1522.7 1937.9,1523.8 1940.1,1525.0 1942.4,1526.2 1944.6,1527.4 1946.9,1528.5 1949.1,1529.7 1951.3,1530.7 1953.6,1531.9 1955.8,1533.0 1958.1,1534.1 1960.3,1535.3 1962.5,1536.4 1964.8,1537.6 1967.0,1538.7 1969.3,1539.8 1971.5,1540.9 1973.7,1542.1 1976.0,1543.3 1978.2,1544.4 1980.5,1545.5 1982.7,1546.6 1984.9,1547.7 1987.2,1548.8 1989.4,1549.9 1991.7,1551.0 1993.9,1552.2 1996.1,1553.4 1998.4,1554.4 2000.6,1555.6 2002.9,1556.8 2005.1,1558.0 2007.3,1559.1 2009.6,1560.2 2011.8,1561.3 2014.1,1562.5 2016.3,1563.6 2018.5,1564.7 2020.8,1565.8 2023.0,1567.0 2025.3,1568.2 2027.5,1569.3 2029.7,1570.5 2032.0,1571.6 2034.2,1572.8 2036.5,1574.0 2038.7,1575.1 2040.9,1576.3 2043.2,1577.4 2045.4,1578.6 2047.7,1579.7 2049.9,1580.8 2052.2,1581.9 2054.4,1583.0 2056.6,1584.1 2058.9,1585.2 2061.1,1586.3 2063.4,1587.4 2065.6,1588.5 2067.8,1589.6 2070.1,1590.8 2072.3,1591.8 2074.6,1592.9 2076.8,1594.0 2079.0,1595.2 2081.3,1596.3 2083.5,1597.4 2085.8,1598.6 2088.0,1599.7 2090.2,1600.8 2092.5,1602.0 2094.7,1603.1 2097.0,1604.3 2099.2,1605.5 2101.4,1606.7 2103.7,1607.9 2105.9,1609.1 2108.2,1610.3 2110.4,1611.5 2112.6,1612.7 2114.9,1613.9 2117.1,1615.2 2119.4,1616.4 2121.6,1617.7 2123.8,1618.9 2126.1,1620.2 2128.3,1621.6 2130.6,1622.9 2132.8,1624.3 2135.0,1625.7 2137.3,1627.2 2139.5,1628.7 2141.8,1630.3 2144.0,1632.0 2146.2,1633.7 2148.5,1635.4 2150.7,1637.2 2153.0,1639.1 2155.2,1641.4 2157.5,1644.3 2159.7,1648.2 2161.9,1651.7" stroke="#68b0b0" stroke-width="6.94" stroke-linecap="square"/>
</g>
<g stroke="#000" stroke-width="2.78" fill="none">
<line x1="400.57" y1="1780.00" x2="400.57" y2="1792.15"/>
<line x1="752.84" y1="1780.00" x2="752.84" y2="1792.15"/>
<line x1="1105.11" y1="1780.00" x2="1105.11" y2="1792.15"/>
<line x1="1457.39" y1="1780.00" x2="1457.39" y2="1792.15"/>
<line x1="1809.66" y1="1780.00" x2="1809.66" y2="1792.15"/>
<line x1="2161.93" y1="1780.00" x2="2161.93" y2="1792.15"/>
<line x1="312.50" y1="1780.00" x2="300.35" y2="1780.00"/>
<line x1="312.50" y1="1523.33" x2="300.35" y2="1523.33"/>
<line x1="312.50" y1="1266.67" x2="300.35" y2="1266.67"/>
<line x1="312.50" y1="1010.00" x2="300.35" y2="1010.00"/>
<line x1="312.50" y1="753.33" x2="300.35" y2="753.33"/>
<line x1="312.50" y1="496.67" x2="300.35" y2="496.67"/>
<line x1="312.50" y1="240.00" x2="300.35" y2="240.00"/>
<rect x="312.5" y="240" width="1937.5" height="1540" stroke-linejoin="miter"/>
</g>
<g style="font-family:'DejaVu Sans','Liberation Sans',sans-serif;font-size:48.61px" fill="#000">
<text x="400.57" y="1841.24" text-anchor="middle">0.0</text>
<text x="752.84" y="1841.24" text-anchor="middle">0.2</text>
<text x="1105.11" y="1841.24" text-anchor="middle">0.4</text>
<text x="1457.39" y="1841.24" text-anchor="middle">0.6</text>
<text x="1809.66" y="1841.24" text-anchor="middle">0.8</text>
<text x="2161.93" y="1841.24" text-anchor="middle">1.0</text>
<text x="288.19" y="1798.47" text-anchor="end">0</text>
<text x="288.19" y="1541.80" text-anchor="end">2</text>
<text x="288.19" y="1285.14" text-anchor="end">4</text>
<text x="288.19" y="1028.47" text-anchor="end">6</text>
<text x="288.19" y="771.80" text-anchor="end">8</text>
<text x="288.19" y="515.14" text-anchor="end">10</text>
<text x="288.19" y="258.47" text-anchor="end">12</text>
</g>
<g style="font-family:'DejaVu Sans','Liberation Sans',sans-serif;font-size:62.50px" fill="#000">
<text x="1281.25" y="1912.73" text-anchor="middle">True Positive Rate</text>
<text x="1281.25" y="219.17" text-anchor="middle">Train: R&amp;D Bkg vs. R&amp;D Signal, Test: R&amp;D Signal</text>
<g transform="translate(199.45 1263.19) rotate(-90)">
<text x="0" y="-1.57">SIC = TPR/</text>
<text x="379.17" y="0.60">FPR</text>
<text transform="translate(335.80 -2.64) scale(1.0000 1.2500)" style="font-size:62.50px">√</text>
<rect x="371.36" y="-65.10" width="132.69" height="3.91"/>
</g></g>
<rect x="372.50" y="267.50" width="1817.50" height="190.50" rx="11.1" ry="11.1" fill="#fff" fill-opacity="0.8" stroke="#ccc" stroke-opacity="0.8" stroke-width="3.47"/>
<g style="font-family:'DejaVu Sans','Liberation Sans',sans-serif;font-size:55.56px" fill="#000">
<line x1="394.90" y1="315.50" x2="506.00" y2="315.50" stroke="#9a2528" stroke-width="6.94" stroke-linecap="square"/>
<text x="550.40" y="332.20">BB1 (AUC = 0.923)</text>
<line x1="394.90" y1="399.00" x2="506.00" y2="399.00" stroke="#9656a6" stroke-width="6.94" stroke-linecap="square"/>
<text x="550.40" y="415.20">R&amp;D (AUC = 0.950)</text>
<line x1="1206.70" y1="315.50" x2="1317.80" y2="315.50" stroke="#77ab5d" stroke-width="6.94" stroke-linecap="square"/>
<text x="1362.20" y="332.20">Morphed BB1 (AUC = 0.951)</text>
<line x1="1206.70" y1="402.50" x2="1317.80" y2="402.50" stroke="#68b0b0" stroke-width="6.94" stroke-linecap="square"/>
<text x="1362.20" y="419.20">Morphed R&amp;D (AUC = 0.921)</text>
</g>
</svg>
</body></html>
